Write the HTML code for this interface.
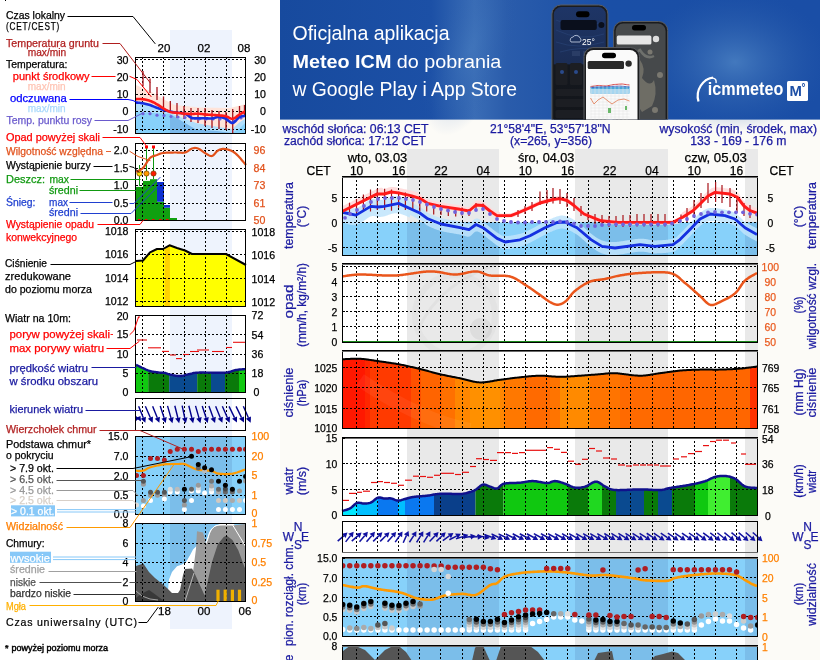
<!DOCTYPE html>
<html><head><meta charset="utf-8"><title>Meteogram ICM</title>
<style>
html,body{margin:0;padding:0;background:#fff;width:820px;height:660px;overflow:hidden}
svg{display:block;will-change:transform}
text{font-family:"Liberation Sans",Arial,sans-serif}
</style></head><body>
<svg width="820" height="660" viewBox="0 0 820 660">
<rect x="0" y="0" width="820" height="660" fill="#ffffff" />
<rect x="280" y="0" width="540" height="660" fill="#fcfbf7" />
<defs>
<linearGradient id="bg1" x1="0" y1="0" x2="1" y2="0">
<stop offset="0" stop-color="#174a9e"/><stop offset="0.28" stop-color="#1c50a6"/>
<stop offset="0.36" stop-color="#3a6db6"/><stop offset="0.42" stop-color="#2a5cab"/>
<stop offset="0.6" stop-color="#1a4fa6"/><stop offset="1" stop-color="#1a4ea6"/></linearGradient>
<radialGradient id="glow1" cx="0.5" cy="0.5" r="0.5"><stop offset="0" stop-color="#4a80c2" stop-opacity="0.85"/><stop offset="1" stop-color="#2a5cab" stop-opacity="0"/></radialGradient>
<linearGradient id="scr1" x1="0" y1="0" x2="0" y2="1"><stop offset="0" stop-color="#1e3566"/><stop offset="0.45" stop-color="#1b2d55"/><stop offset="0.46" stop-color="#14181f"/><stop offset="1" stop-color="#121418"/></linearGradient>
<linearGradient id="scr2" x1="0" y1="0" x2="1" y2="1"><stop offset="0" stop-color="#6a6d70"/><stop offset="0.5" stop-color="#8a8070"/><stop offset="1" stop-color="#5c6064"/></linearGradient>
</defs>
<rect x="280" y="0" width="540" height="119.6" fill="url(#bg1)" />
<ellipse cx="735" cy="62" rx="95" ry="70" fill="url(#glow1)"/>
<ellipse cx="470" cy="50" rx="40" ry="90" fill="url(#glow1)" opacity="0.5" transform="rotate(20 470 50)"/>
<text x="292.5" y="39.8" font-size="19.3" fill="#ffffff" textLength="157" lengthAdjust="spacingAndGlyphs" >Oficjalna aplikacja</text>
<text x="292.5" y="67.8" font-size="19" fill="#ffffff" textLength="208.8" lengthAdjust="spacingAndGlyphs"><tspan font-weight="bold">Meteo ICM</tspan> do pobrania</text>
<text x="292.5" y="95.7" font-size="19.3" fill="#ffffff" textLength="224.5" lengthAdjust="spacingAndGlyphs" >w Google Play i App Store</text>
<defs><clipPath id="bclip"><rect x="280" y="0" width="540" height="119.6"/></clipPath></defs><g clip-path="url(#bclip)">
<rect x="551.9" y="5" width="56" height="130" rx="9" fill="#1b1c1e" stroke="#5a5c60" stroke-width="1"/>
<rect x="553.8" y="7" width="52" height="126" rx="7.5" fill="url(#scr1)"/>
<path d="M556 20 q 20 10 48 2 M556 30 q 25 12 48 4 M556 42 q 22 8 48 0 M560 52 q 20 -6 44 -2" stroke="#2a4478" stroke-width="0.6" fill="none"/>
<rect x="576" y="11.3" width="13.5" height="6" rx="3" fill="#000"/>
<rect x="560.5" y="20" width="36.3" height="10" rx="2" fill="#0a0f1c"/>
<circle cx="601.4" cy="25" r="3" fill="#0a0f1c" />
<path d="M571 42 a3 3 0 0 1 2 -5 a4 4 0 0 1 7 1 a2.5 2.5 0 0 1 0 4 z" fill="none" stroke="#cfd8ea" stroke-width="0.8"/>
<text x="582" y="45" font-size="8.5" fill="#ffffff" >25°</text>
<rect x="572" y="51" width="8" height="5" fill="#2a3d66" />
<rect x="583" y="51" width="8" height="5" fill="#2a3d66" />
<rect x="555.5" y="63" width="12" height="22" rx="1.5" fill="#1c1e23"/>
<rect x="570" y="63" width="12" height="22" rx="1.5" fill="#1c1e23"/>
<rect x="555.5" y="89" width="46" height="7" rx="1.5" fill="#1c1e23"/>
<rect x="555.5" y="99" width="46" height="8" rx="1.5" fill="#1c1e23"/>
<rect x="555.5" y="110" width="46" height="8" rx="1.5" fill="#1c1e23"/>
<circle cx="562" cy="72" r="2" fill="#2a4a8a" />
<circle cx="576" cy="72" r="2" fill="#2a4a8a" />
<rect x="613.7" y="21.5" width="54" height="110" rx="9" fill="#1b1c1e" stroke="#5a5c60" stroke-width="1"/>
<rect x="615.6" y="23.5" width="50" height="106" rx="7.5" fill="#46494b"/>
<path d="M640 60 q 6 8 2 18 q 8 10 12 2 q 4 14 -2 26 l -10 6 q -8 -10 -4 -22 q -6 -14 2 -30 z" fill="#8f8a7c" opacity="0.55"/>
<path d="M622 50 q 10 6 18 0 q 6 10 14 6 M625 80 q 8 4 12 -2 M620 100 q 10 -4 14 6" stroke="#6e706c" stroke-width="2.5" fill="none"/>
<circle cx="628" cy="58" r="3" fill="#7a7870" />
<circle cx="650" cy="52" r="2.5" fill="#7a7870" />
<circle cx="622" cy="70" r="2" fill="#7a7870" />
<circle cx="660" cy="75" r="3" fill="#7a7870" />
<circle cx="632" cy="95" r="2.5" fill="#7a7870" />
<circle cx="655" cy="110" r="3" fill="#7a7870" />
<circle cx="625" cy="118" r="2.5" fill="#7a7870" />
<circle cx="645" cy="122" r="2" fill="#7a7870" />
<rect x="616.8" y="35.5" width="34.6" height="9" rx="1.5" fill="#e6e6e6"/>
<circle cx="656" cy="39" r="3.2" fill="#dcdcdc" />
<rect x="632" y="25" width="14" height="5.5" rx="2.7" fill="#000"/>
<rect x="584" y="47.6" width="55.5" height="90" rx="9" fill="#1b1c1e" stroke="#5a5c60" stroke-width="1"/>
<rect x="586" y="50" width="51.5" height="86" rx="7.5" fill="#fafafa"/>
<rect x="602" y="52.7" width="14" height="5.5" rx="2.7" fill="#000"/>
<rect x="587.7" y="61" width="36.3" height="8" rx="1.5" fill="#2a2a2a"/>
<circle cx="628.6" cy="63.6" r="3.2" fill="#2a2a2a" />
<rect x="590.5" y="86.5" width="39" height="7" fill="#4aa6d8" />
<rect x="590.5" y="89" width="39" height="4.6" fill="#a6d6f0" />
<polyline points="590.5,86.5 598,85.5 606,86 614,84.5 622,84 629.5,85" fill="none" stroke="#d83838" stroke-width="0.9" stroke-linejoin="round" />
<polyline points="590.5,87.5 600,87 610,86.5 620,86 629.5,87" fill="none" stroke="#3a4ab8" stroke-width="0.7" stroke-linejoin="round" />
<line x1="590.5" y1="96" x2="629.5" y2="96" stroke="#e0e0e0" stroke-width="0.5" />
<line x1="590.5" y1="99" x2="629.5" y2="99" stroke="#e0e0e0" stroke-width="0.5" />
<line x1="590.5" y1="102" x2="629.5" y2="102" stroke="#e0e0e0" stroke-width="0.5" />
<line x1="590.5" y1="105" x2="629.5" y2="105" stroke="#e0e0e0" stroke-width="0.5" />
<line x1="590.5" y1="108" x2="629.5" y2="108" stroke="#e0e0e0" stroke-width="0.5" />
<line x1="590.5" y1="111" x2="629.5" y2="111" stroke="#e0e0e0" stroke-width="0.5" />
<line x1="590.5" y1="114" x2="629.5" y2="114" stroke="#e0e0e0" stroke-width="0.5" />
<line x1="590.5" y1="117" x2="629.5" y2="117" stroke="#e0e0e0" stroke-width="0.5" />
<line x1="591" y1="84" x2="591" y2="120" stroke="#e6e6e6" stroke-width="0.5" />
<line x1="595" y1="84" x2="595" y2="120" stroke="#e6e6e6" stroke-width="0.5" />
<line x1="599" y1="84" x2="599" y2="120" stroke="#e6e6e6" stroke-width="0.5" />
<line x1="603" y1="84" x2="603" y2="120" stroke="#e6e6e6" stroke-width="0.5" />
<line x1="607" y1="84" x2="607" y2="120" stroke="#e6e6e6" stroke-width="0.5" />
<line x1="611" y1="84" x2="611" y2="120" stroke="#e6e6e6" stroke-width="0.5" />
<line x1="615" y1="84" x2="615" y2="120" stroke="#e6e6e6" stroke-width="0.5" />
<line x1="619" y1="84" x2="619" y2="120" stroke="#e6e6e6" stroke-width="0.5" />
<line x1="623" y1="84" x2="623" y2="120" stroke="#e6e6e6" stroke-width="0.5" />
<line x1="627" y1="84" x2="627" y2="120" stroke="#e6e6e6" stroke-width="0.5" />
<polyline points="590.5,98 594,104 598,100 603,97 608,101 612,104 618,100 624,99 629.5,101" fill="none" stroke="#e07850" stroke-width="0.8" stroke-linejoin="round" />
<rect x="608" y="108" width="3" height="5" fill="#6ab86a" />
<rect x="625" y="106" width="2" height="4" fill="#6ab86a" />
</g>
<path d="M713 77.5 C 703 79, 695 90, 698.5 101.5" stroke="#ffffff" stroke-width="2.2" fill="none"/>
<path d="M705 80.5 C 711 76.5, 717 77.5, 716 83" stroke="#ffffff" stroke-width="1.4" fill="none"/>
<text x="707.8" y="95.2" font-size="17.5" fill="#ffffff" textLength="75.5" lengthAdjust="spacingAndGlyphs" font-weight="bold" >icmmeteo</text>
<rect x="787" y="81" width="21" height="20" rx="1.5" fill="#ffffff"/>
<text x="789.6" y="96.3" font-size="14.5" fill="#1d4fa5" textLength="12.4" lengthAdjust="spacingAndGlyphs" font-weight="bold" >M</text>
<text x="801.6" y="91" font-size="10" fill="#1d4fa5" font-weight="bold" >°</text>
<text x="282.5" y="132.8" font-size="12" fill="#1a1aa0" stroke="#1a1aa0" stroke-width="0.25" textLength="146" lengthAdjust="spacingAndGlyphs" >wschód słońca: 06:13 CET</text>
<text x="284" y="145" font-size="12" fill="#1a1aa0" stroke="#1a1aa0" stroke-width="0.25" textLength="142" lengthAdjust="spacingAndGlyphs" >zachód słońca: 17:12 CET</text>
<text x="490" y="132.8" font-size="12" fill="#1a1aa0" stroke="#1a1aa0" stroke-width="0.25" textLength="120.5" lengthAdjust="spacingAndGlyphs" >21°58'4"E, 53°57'18"N</text>
<text x="510" y="145" font-size="12" fill="#1a1aa0" stroke="#1a1aa0" stroke-width="0.25" textLength="82" lengthAdjust="spacingAndGlyphs" >(x=265,  y=356)</text>
<text x="659.5" y="132.8" font-size="12" fill="#1a1aa0" stroke="#1a1aa0" stroke-width="0.25" textLength="157.5" lengthAdjust="spacingAndGlyphs" >wysokość (min, środek, max)</text>
<text x="690.2" y="145" font-size="12" fill="#1a1aa0" stroke="#1a1aa0" stroke-width="0.25" textLength="96.3" lengthAdjust="spacingAndGlyphs" >133 - 169 - 176 m</text>
<rect x="342" y="176" width="416" height="484" fill="#ffffff" />
<rect x="407" y="149" width="92" height="511" fill="#e9e9e9" />
<rect x="575" y="149" width="93" height="511" fill="#e9e9e9" />
<rect x="745" y="149" width="13" height="511" fill="#e9e9e9" />
<text x="347.8" y="161.5" font-size="12" fill="#000" stroke="#000" stroke-width="0.25" textLength="59.5" lengthAdjust="spacingAndGlyphs" >wto, 03.03</text>
<text x="518" y="161.5" font-size="12" fill="#000" stroke="#000" stroke-width="0.25" textLength="56.4" lengthAdjust="spacingAndGlyphs" >śro, 04.03</text>
<text x="684.6" y="161.5" font-size="12" fill="#000" stroke="#000" stroke-width="0.25" textLength="62.2" lengthAdjust="spacingAndGlyphs" >czw, 05.03</text>
<text x="306.5" y="174.5" font-size="12" fill="#000" stroke="#000" stroke-width="0.25" textLength="24.2" lengthAdjust="spacingAndGlyphs" >CET</text>
<text x="769.5" y="174.5" font-size="12" fill="#000" stroke="#000" stroke-width="0.25" textLength="24.2" lengthAdjust="spacingAndGlyphs" >CET</text>
<text x="356.57" y="174.5" font-size="12" fill="#000" stroke="#000" stroke-width="0.25" text-anchor="middle" >10</text>
<text x="398.77" y="174.5" font-size="12" fill="#000" stroke="#000" stroke-width="0.25" text-anchor="middle" >16</text>
<text x="440.98" y="174.5" font-size="12" fill="#000" stroke="#000" stroke-width="0.25" text-anchor="middle" >22</text>
<text x="483.18" y="174.5" font-size="12" fill="#000" stroke="#000" stroke-width="0.25" text-anchor="middle" >04</text>
<text x="525.38" y="174.5" font-size="12" fill="#000" stroke="#000" stroke-width="0.25" text-anchor="middle" >10</text>
<text x="567.59" y="174.5" font-size="12" fill="#000" stroke="#000" stroke-width="0.25" text-anchor="middle" >16</text>
<text x="609.79" y="174.5" font-size="12" fill="#000" stroke="#000" stroke-width="0.25" text-anchor="middle" >22</text>
<text x="652" y="174.5" font-size="12" fill="#000" stroke="#000" stroke-width="0.25" text-anchor="middle" >04</text>
<text x="694.2" y="174.5" font-size="12" fill="#000" stroke="#000" stroke-width="0.25" text-anchor="middle" >10</text>
<text x="736.4" y="174.5" font-size="12" fill="#000" stroke="#000" stroke-width="0.25" text-anchor="middle" >16</text>
<rect x="342" y="176" width="416" height="79" fill="#ffffff" />
<rect x="407" y="176" width="92" height="79" fill="#e9e9e9" />
<rect x="575" y="176" width="93" height="79" fill="#e9e9e9" />
<rect x="745" y="176" width="13" height="79" fill="#e9e9e9" />
<rect x="342" y="222.5" width="416" height="32.5" fill="#87d1fa" />
<rect x="407" y="222.5" width="92" height="32.5" fill="#7bbeea" />
<rect x="575" y="222.5" width="93" height="32.5" fill="#7bbeea" />
<rect x="745" y="222.5" width="13" height="32.5" fill="#7bbeea" />
<defs><clipPath id="tclip"><rect x="342" y="177" width="415" height="78"/></clipPath></defs><g clip-path="url(#tclip)">
<polygon points="342,205.2 342.27,205.26 342.57,205.35 342.9,205.45 343.26,205.56 343.65,205.7 344.06,205.84 344.5,205.99 344.96,206.16 345.44,206.32 345.94,206.5 346.45,206.67 346.98,206.85 347.53,207.02 348.08,207.19 348.65,207.36 349.22,207.52 349.79,207.66 350.37,207.8 350.96,207.92 351.54,208.03 352.12,208.12 352.7,208.19 353.27,208.24 353.84,208.27 354.4,208.27 354.95,208.24 355.48,208.19 356,208.1 356.5,207.98 357.01,207.83 357.53,207.64 358.05,207.42 358.58,207.17 359.12,206.9 359.66,206.6 360.21,206.28 360.76,205.95 361.31,205.6 361.86,205.23 362.4,204.86 362.95,204.48 363.5,204.09 364.04,203.7 364.58,203.31 365.11,202.92 365.63,202.54 366.15,202.16 366.66,201.8 367.16,201.45 367.65,201.11 368.13,200.79 368.59,200.49 369.05,200.22 369.48,199.97 369.91,199.75 370.31,199.56 370.7,199.4 371.45,199.16 372.14,199.01 372.78,198.94 373.36,198.93 373.91,198.98 374.41,199.07 374.89,199.19 375.35,199.34 375.79,199.49 376.22,199.64 376.66,199.78 377.09,199.9 377.54,199.97 378,200 378.52,200 378.98,200 379.39,199.99 379.78,199.98 380.16,199.96 380.54,199.93 380.96,199.88 381.41,199.82 381.93,199.75 382.52,199.65 383.2,199.54 384,199.4 384.36,199.33 384.74,199.24 385.12,199.13 385.52,199.01 385.93,198.87 386.35,198.72 386.78,198.56 387.22,198.4 387.68,198.23 388.14,198.05 388.61,197.87 389.1,197.7 389.59,197.52 390.1,197.35 390.61,197.18 391.13,197.02 391.66,196.87 392.2,196.72 392.74,196.6 393.3,196.48 393.86,196.38 394.43,196.3 395,196.24 395.59,196.2 396.18,196.19 396.77,196.2 397.38,196.24 397.99,196.3 398.6,196.4 399.03,196.49 399.48,196.59 399.94,196.71 400.42,196.84 400.9,196.98 401.4,197.14 401.9,197.31 402.42,197.5 402.94,197.69 403.48,197.9 404.02,198.11 404.56,198.34 405.11,198.57 405.67,198.81 406.23,199.05 406.79,199.31 407.35,199.57 407.92,199.83 408.48,200.1 409.05,200.37 409.61,200.65 410.18,201.93 410.74,202.21 411.29,202.49 411.84,202.77 412.39,203.05 412.93,203.34 413.47,203.61 413.99,203.89 414.51,204.17 415.02,204.44 415.52,204.7 416.01,204.97 416.49,205.22 416.95,205.47 417.41,205.72 417.84,205.95 418.27,206.18 418.68,206.4 419.07,206.61 419.44,206.81 419.8,207 420.65,207.47 421.4,207.91 422.04,208.33 422.61,208.73 423.1,209.11 423.54,209.48 423.93,209.83 424.3,210.17 424.65,210.51 425,210.84 425.36,211.16 425.74,211.48 426.17,211.8 426.64,212.13 427.18,212.46 427.8,212.8 428.21,213.01 428.63,213.22 429.05,213.44 429.49,213.65 429.93,213.86 430.37,214.07 430.83,214.29 431.29,214.5 431.76,214.71 432.23,214.92 432.72,215.12 433.21,215.33 433.71,215.54 434.22,215.74 434.74,215.94 435.26,216.14 435.8,216.34 436.34,216.54 436.89,216.73 437.45,216.92 438.02,217.11 438.6,217.29 439.18,217.48 439.78,217.65 440.39,217.83 441,218 441.43,218.12 441.88,218.23 442.33,218.34 442.81,218.45 443.29,218.57 443.78,218.67 444.28,218.78 444.79,218.89 445.31,219 445.84,219.1 446.37,219.21 446.91,219.31 447.46,219.41 448,219.51 448.55,219.61 449.1,219.71 449.66,219.81 450.21,219.9 450.76,220 451.31,220.09 451.86,220.19 452.41,220.28 452.95,220.37 453.49,220.46 454.02,220.55 454.54,220.64 455.06,220.72 455.57,220.81 456.07,220.89 456.55,220.98 457.03,221.06 457.5,221.14 457.95,221.22 458.39,221.3 458.82,221.37 459.23,221.45 459.62,221.53 460,221.6 460.75,221.76 461.45,221.93 462.1,222.11 462.71,222.29 463.28,222.47 463.81,222.65 464.32,222.82 464.8,222.99 465.25,223.14 465.69,223.29 466.11,223.41 466.52,223.52 466.92,223.6 467.33,223.66 467.73,223.7 468.14,223.7 468.56,223.67 469,223.6 469.56,223.43 470.1,223.17 470.63,222.83 471.15,222.42 471.65,221.96 472.14,221.48 472.62,220.97 473.1,220.48 473.58,220 474.06,219.56 474.54,219.17 475.02,218.86 475.5,218.63 476,218.5 476.48,218.46 476.94,218.46 477.37,218.5 477.8,218.59 478.21,218.72 478.63,218.9 479.06,219.11 479.51,219.37 479.98,219.66 480.49,220 481.04,220.37 481.63,220.78 482.28,221.22 483,221.7 483.39,221.96 483.8,222.25 484.23,222.56 484.69,222.9 485.16,223.25 485.65,223.62 486.15,224.01 486.66,224.42 487.19,224.83 487.73,225.26 488.27,225.69 488.83,226.13 489.38,226.58 489.94,227.02 490.5,227.47 491.05,227.92 491.61,228.36 492.16,228.8 492.7,229.22 493.23,229.64 493.76,230.05 494.27,230.44 494.77,230.82 495.25,231.18 495.72,231.52 496.17,231.84 496.6,232.13 497,232.4 497.65,232.83 498.24,233.23 498.77,233.6 499.26,233.94 499.71,234.24 500.13,234.52 500.54,234.78 500.94,235.01 501.34,235.21 501.75,235.39 502.18,235.54 502.65,235.67 503.15,235.79 503.71,235.88 504.32,235.95 505,236 505.39,236.02 505.81,236.03 506.24,236.02 506.69,236.01 507.15,235.99 507.63,235.96 508.12,235.92 508.63,235.88 509.14,235.83 509.67,235.77 510.2,235.7 510.74,235.63 511.28,235.55 511.83,235.47 512.38,235.38 512.93,235.29 513.48,235.19 514.02,235.1 514.57,234.99 515.11,234.89 515.65,234.78 516.18,234.67 516.7,234.56 517.21,234.45 517.71,234.34 518.2,234.23 518.67,234.12 519.13,234.01 519.57,233.91 520,233.8 520.61,233.64 521.18,233.48 521.72,233.33 522.24,233.16 522.73,233 523.21,232.83 523.67,232.66 524.12,232.48 524.56,232.3 525,232.11 525.44,231.92 525.88,231.71 526.33,231.5 526.79,231.28 527.27,231.04 527.76,230.8 528.28,230.54 528.82,230.28 529.39,230 530,229.7 530.42,229.49 530.86,229.27 531.31,229.05 531.77,228.81 532.25,228.56 532.73,228.3 533.22,228.04 533.72,227.77 534.23,227.5 534.74,227.22 535.26,226.93 535.78,226.65 536.31,226.36 536.84,226.06 537.38,225.77 537.91,225.47 538.44,225.18 538.98,224.89 539.51,224.59 540.04,224.3 540.56,224.02 541.08,223.73 541.6,223.46 542.11,223.18 542.62,222.92 543.11,222.66 543.6,222.4 544.08,222.16 544.54,221.93 545,221.7 545.56,221.43 546.12,221.15 546.67,220.88 547.22,220.62 547.76,220.35 548.3,220.09 548.84,219.84 549.37,219.59 549.9,219.34 550.42,219.1 550.93,218.86 551.44,218.63 551.94,218.41 552.44,218.19 552.92,217.98 553.41,217.78 553.88,217.59 554.35,217.4 554.81,217.23 555.27,217.06 555.71,216.91 556.15,216.76 556.58,216.62 557,216.5 557.6,216.33 558.16,216.17 558.69,216.03 559.19,215.9 559.66,215.79 560.12,215.7 560.56,215.62 561,215.57 561.44,215.54 561.88,215.53 562.34,215.54 562.81,215.58 563.31,215.64 563.84,215.73 564.4,215.85 565,216 565.42,216.11 565.85,216.24 566.29,216.37 566.75,216.52 567.2,216.68 567.67,216.84 568.15,217.02 568.63,217.21 569.12,217.41 569.62,217.62 570.12,217.84 570.62,218.08 571.14,218.32 571.66,218.57 572.18,218.84 572.7,219.11 573.23,219.4 573.77,219.69 574.3,220 574.84,220.32 575.38,220.65 575.92,220.99 576.46,221.34 577,221.7 577.47,222.03 577.95,222.37 578.43,222.74 578.92,223.12 579.42,223.52 579.92,223.93 580.43,224.36 580.94,224.8 581.46,225.24 581.98,225.7 582.5,226.17 583.02,226.63 583.54,227.11 584.06,227.58 584.58,228.06 585.1,228.53 585.62,229 586.14,229.47 586.65,229.94 587.16,230.39 587.66,230.84 588.16,231.28 588.65,231.7 589.14,232.11 589.62,232.51 590.09,232.89 590.55,233.26 591,233.6 591.56,234.02 592.11,234.43 592.64,234.83 593.16,235.22 593.66,235.6 594.16,235.96 594.65,236.32 595.14,236.67 595.62,237 596.09,237.33 596.56,237.64 597.03,237.95 597.51,238.24 597.98,238.52 598.46,238.8 598.94,239.06 599.42,239.31 599.92,239.55 600.42,239.78 600.94,240 601.46,240.2 602,240.4 602.46,240.56 602.9,240.71 603.34,240.85 603.77,240.98 604.2,241.11 604.62,241.22 605.04,241.33 605.46,241.44 605.88,241.53 606.31,241.62 606.74,241.7 607.18,241.77 607.62,241.83 608.08,241.89 608.55,241.94 609.04,241.98 609.53,242.01 610.05,242.04 610.58,242.06 611.14,242.07 611.72,242.08 612.32,242.08 612.95,242.07 613.6,242.05 614.29,242.03 615,242 615.39,241.98 615.79,241.95 616.2,241.92 616.62,241.89 617.06,241.85 617.51,241.8 617.96,241.75 618.43,241.69 618.91,241.64 619.39,241.57 619.89,241.51 620.39,241.44 620.9,241.37 621.41,241.29 621.93,241.21 622.46,241.13 622.99,241.05 623.53,240.97 624.07,240.88 624.62,240.79 625.16,240.7 625.71,240.62 626.27,240.52 626.82,240.43 627.38,240.34 627.93,240.25 628.49,240.16 629.04,240.07 629.59,239.98 630.14,239.9 630.69,239.81 631.24,239.72 631.78,239.64 632.32,239.56 632.86,239.48 633.39,239.4 633.91,239.32 634.43,239.25 634.94,239.18 635.45,239.12 635.95,239.06 636.44,239 636.92,238.94 637.39,238.89 637.85,238.85 638.3,238.81 638.74,238.77 639.18,238.74 639.59,238.72 640,238.7 640.65,238.68 641.28,238.68 641.89,238.68 642.48,238.7 643.04,238.73 643.59,238.77 644.12,238.82 644.64,238.88 645.14,238.95 645.63,239.02 646.11,239.1 646.58,239.18 647.04,239.27 647.49,239.36 647.94,239.45 648.38,239.54 648.82,239.63 649.26,239.72 649.71,239.81 650.15,239.9 650.59,239.98 651.05,240.06 651.5,240.13 651.97,240.2 652.44,240.26 652.93,240.31 653.42,240.35 653.93,240.38 654.46,240.39 655,240.4 655.46,240.4 655.94,240.39 656.43,240.39 656.93,240.38 657.44,240.37 657.95,240.35 658.48,240.34 659.01,240.32 659.55,240.29 660.09,240.27 660.64,240.24 661.19,240.21 661.74,240.18 662.29,240.14 662.84,240.1 663.4,240.06 663.95,240.02 664.5,239.97 665.05,239.93 665.59,239.88 666.13,239.82 666.66,239.77 667.19,239.71 667.7,239.64 668.21,239.58 668.71,239.51 669.2,239.44 669.68,239.37 670.15,239.3 670.6,239.22 671.04,239.14 671.47,239.06 671.88,238.97 672.27,238.88 672.64,238.79 673,238.7 673.83,238.45 674.55,238.19 675.17,237.92 675.71,237.64 676.19,237.34 676.61,237.02 677,236.68 677.37,236.32 677.73,235.94 678.1,235.53 678.5,235.09 678.94,234.63 679.43,234.13 680,233.6 680.43,233.21 680.88,232.79 681.34,232.35 681.81,231.89 682.29,231.41 682.78,230.92 683.28,230.42 683.78,229.9 684.3,229.37 684.81,228.83 685.33,228.29 685.86,227.74 686.38,227.19 686.91,226.64 687.43,226.08 687.95,225.53 688.47,224.99 688.99,224.45 689.5,223.92 690,223.4 690.5,222.88 691,222.34 691.5,221.8 692,221.25 692.5,220.69 693,220.12 693.5,219.56 694,219 694.5,218.43 695,217.88 695.5,217.32 696,216.78 696.5,216.25 697,215.73 697.5,215.23 698,214.74 698.5,214.27 699,213.82 699.5,213.4 700,213 700.49,212.62 700.98,212.25 701.45,211.89 701.92,211.55 702.38,211.21 702.84,210.89 703.3,210.58 703.76,210.29 704.22,210.01 704.69,209.74 705.16,209.49 705.64,209.26 706.13,209.04 706.63,208.84 707.15,208.65 707.68,208.48 708.23,208.34 708.8,208.2 709.39,208.09 710,208 710.42,207.95 710.87,207.92 711.32,207.89 711.79,207.88 712.27,207.88 712.76,207.89 713.26,207.9 713.77,207.93 714.29,207.97 714.81,208.01 715.35,208.06 715.88,208.12 716.42,208.19 716.96,208.26 717.5,208.33 718.04,208.41 718.58,208.5 719.12,208.58 719.65,208.67 720.19,208.77 720.71,208.86 721.23,208.96 721.74,209.05 722.24,209.15 722.73,209.25 723.21,209.34 723.68,209.44 724.13,209.53 724.58,209.61 725,209.7 725.61,209.82 726.2,209.94 726.77,210.06 727.32,210.17 727.85,210.29 728.37,210.4 728.87,210.52 729.36,210.65 729.84,210.78 730.31,210.91 730.78,211.06 731.24,211.21 731.7,211.38 732.16,211.56 732.62,211.76 733.08,211.97 733.55,212.2 734.02,212.44 734.51,212.71 735,213 735.5,213.32 735.99,213.66 736.48,214.03 736.97,214.42 737.45,214.84 737.94,215.27 738.42,215.72 738.9,216.18 739.39,216.65 739.88,217.13 740.36,217.61 740.86,218.1 741.35,218.58 741.85,219.06 742.36,219.53 742.87,220 743.39,220.45 743.92,220.88 744.45,221.3 745,221.7 745.47,222.03 745.97,222.35 746.49,222.69 747.02,223.02 747.58,223.36 748.14,223.69 748.72,224.03 749.3,224.36 749.88,224.69 750.47,225.01 751.05,225.33 751.62,225.64 752.19,225.95 752.75,226.24 753.29,226.53 753.81,226.81 754.32,227.07 754.8,227.32 755.25,227.56 755.67,227.78 756.06,227.99 756.41,228.18 756.73,228.35 757,228.5 757,241.5 756.73,241.35 756.41,241.18 756.06,240.99 755.67,240.78 755.25,240.56 754.8,240.32 754.32,240.07 753.81,239.81 753.29,239.53 752.75,239.24 752.19,238.95 751.62,238.64 751.05,238.33 750.47,238.01 749.88,237.69 749.3,237.36 748.72,237.03 748.14,236.69 747.58,236.36 747.02,236.02 746.49,235.69 745.97,235.35 745.47,235.03 745,234.7 744.45,234.3 743.92,233.88 743.39,233.45 742.87,233 742.36,232.53 741.85,232.06 741.35,231.58 740.86,231.1 740.36,230.61 739.88,230.13 739.39,229.65 738.9,229.18 738.42,228.72 737.94,228.27 737.45,227.84 736.97,227.42 736.48,227.03 735.99,226.66 735.5,226.32 735,226 734.51,225.71 734.02,225.44 733.55,225.2 733.08,224.97 732.62,224.76 732.16,224.56 731.7,224.38 731.24,224.21 730.78,224.06 730.31,223.91 729.84,223.78 729.36,223.65 728.87,223.52 728.37,223.4 727.85,223.29 727.32,223.17 726.77,223.06 726.2,222.94 725.61,222.82 725,222.7 724.58,222.61 724.13,222.53 723.68,222.44 723.21,222.34 722.73,222.25 722.24,222.15 721.74,222.05 721.23,221.96 720.71,221.86 720.19,221.77 719.65,221.67 719.12,221.58 718.58,221.5 718.04,221.41 717.5,221.33 716.96,221.26 716.42,221.19 715.88,221.12 715.35,221.06 714.81,221.01 714.29,220.97 713.77,220.93 713.26,220.9 712.76,220.89 712.27,220.88 711.79,220.88 711.32,220.89 710.87,220.92 710.42,220.95 710,221 709.39,221.09 708.8,221.2 708.23,221.34 707.68,221.48 707.15,221.65 706.63,221.84 706.13,222.04 705.64,222.26 705.16,222.49 704.69,222.74 704.22,223.01 703.76,223.29 703.3,223.58 702.84,223.89 702.38,224.21 701.92,224.55 701.45,224.89 700.98,225.25 700.49,225.62 700,226 699.5,226.4 699,226.82 698.5,227.27 698,227.74 697.5,228.23 697,228.73 696.5,229.25 696,229.78 695.5,230.32 695,230.88 694.5,231.43 694,232 693.5,232.56 693,233.12 692.5,233.69 692,234.25 691.5,234.8 691,235.34 690.5,235.88 690,236.4 689.5,236.92 688.99,237.45 688.47,237.99 687.95,238.53 687.43,239.08 686.91,239.64 686.38,240.19 685.86,240.74 685.33,241.29 684.81,241.83 684.3,242.37 683.78,242.9 683.28,243.42 682.78,243.92 682.29,244.41 681.81,244.89 681.34,245.35 680.88,245.79 680.43,246.21 680,246.6 679.43,247.13 678.94,247.63 678.5,248.09 678.1,248.53 677.73,248.94 677.37,249.32 677,249.68 676.61,250.02 676.19,250.34 675.71,250.64 675.17,250.92 674.55,251.19 673.83,251.45 673,251.7 672.64,251.79 672.27,251.88 671.88,251.97 671.47,252.06 671.04,252.14 670.6,252.22 670.15,252.3 669.68,252.37 669.2,252.44 668.71,252.51 668.21,252.58 667.7,252.64 667.19,252.71 666.66,252.77 666.13,252.82 665.59,252.88 665.05,252.93 664.5,252.97 663.95,253.02 663.4,253.06 662.84,253.1 662.29,253.14 661.74,253.18 661.19,253.21 660.64,253.24 660.09,253.27 659.55,253.29 659.01,253.32 658.48,253.34 657.95,253.35 657.44,253.37 656.93,253.38 656.43,253.39 655.94,253.39 655.46,253.4 655,253.4 654.46,253.39 653.93,253.38 653.42,253.35 652.93,253.31 652.44,253.26 651.97,253.2 651.5,253.13 651.05,253.06 650.59,252.98 650.15,252.9 649.71,252.81 649.26,252.72 648.82,252.63 648.38,252.54 647.94,252.45 647.49,252.36 647.04,252.27 646.58,252.18 646.11,252.1 645.63,252.02 645.14,251.95 644.64,251.88 644.12,251.82 643.59,251.77 643.04,251.73 642.48,251.7 641.89,251.68 641.28,251.68 640.65,251.68 640,251.7 639.59,251.72 639.18,251.74 638.74,251.77 638.3,251.81 637.85,251.85 637.39,251.89 636.92,251.94 636.44,252 635.95,252.06 635.45,252.12 634.94,252.18 634.43,252.25 633.91,252.32 633.39,252.4 632.86,252.48 632.32,252.56 631.78,252.64 631.24,252.72 630.69,252.81 630.14,252.9 629.59,252.98 629.04,253.07 628.49,253.16 627.93,253.25 627.38,253.34 626.82,253.43 626.27,253.52 625.71,253.62 625.16,253.7 624.62,253.79 624.07,253.88 623.53,253.97 622.99,254.05 622.46,254.13 621.93,254.21 621.41,254.29 620.9,254.37 620.39,254.44 619.89,254.51 619.39,254.57 618.91,254.64 618.43,254.69 617.96,254.75 617.51,254.8 617.06,254.85 616.62,254.89 616.2,254.92 615.79,254.95 615.39,254.98 615,255 614.29,255.03 613.6,255.05 612.95,255.07 612.32,255.08 611.72,255.08 611.14,255.07 610.58,255.06 610.05,255.04 609.53,255.01 609.04,254.98 608.55,254.94 608.08,254.89 607.62,254.83 607.18,254.77 606.74,254.7 606.31,254.62 605.88,254.53 605.46,254.44 605.04,254.33 604.62,254.22 604.2,254.11 603.77,253.98 603.34,253.85 602.9,253.71 602.46,253.56 602,253.4 601.46,253.2 600.94,253 600.42,252.78 599.92,252.55 599.42,252.31 598.94,252.06 598.46,251.8 597.98,251.52 597.51,251.24 597.03,250.95 596.56,250.64 596.09,250.33 595.62,250 595.14,249.67 594.65,249.32 594.16,248.96 593.66,248.6 593.16,248.22 592.64,247.83 592.11,247.43 591.56,247.02 591,246.6 590.55,246.26 590.09,245.89 589.62,245.51 589.14,245.11 588.65,244.7 588.16,244.28 587.66,243.84 587.16,243.39 586.65,242.94 586.14,242.47 585.62,242 585.1,241.53 584.58,241.06 584.06,240.58 583.54,240.11 583.02,239.63 582.5,239.17 581.98,238.7 581.46,238.24 580.94,237.8 580.43,237.36 579.92,236.93 579.42,236.52 578.92,236.12 578.43,235.74 577.95,235.37 577.47,235.03 577,234.7 576.46,234.34 575.92,233.99 575.38,233.65 574.84,233.32 574.3,233 573.77,232.69 573.23,232.4 572.7,232.11 572.18,231.84 571.66,231.57 571.14,231.32 570.62,231.08 570.12,230.84 569.62,230.62 569.12,230.41 568.63,230.21 568.15,230.02 567.67,229.84 567.2,229.68 566.75,229.52 566.29,229.37 565.85,229.24 565.42,229.11 565,229 564.4,228.85 563.84,228.73 563.31,228.64 562.81,228.58 562.34,228.54 561.88,228.53 561.44,228.54 561,228.57 560.56,228.62 560.12,228.7 559.66,228.79 559.19,228.9 558.69,229.03 558.16,229.17 557.6,229.33 557,229.5 556.58,229.62 556.15,229.76 555.71,229.91 555.27,230.06 554.81,230.23 554.35,230.4 553.88,230.59 553.41,230.78 552.92,230.98 552.44,231.19 551.94,231.41 551.44,231.63 550.93,231.86 550.42,232.1 549.9,232.34 549.37,232.59 548.84,232.84 548.3,233.09 547.76,233.35 547.22,233.62 546.67,233.88 546.12,234.15 545.56,234.43 545,234.7 544.54,234.93 544.08,235.16 543.6,235.4 543.11,235.66 542.62,235.92 542.11,236.18 541.6,236.46 541.08,236.73 540.56,237.02 540.04,237.3 539.51,237.59 538.98,237.89 538.44,238.18 537.91,238.47 537.38,238.77 536.84,239.06 536.31,239.36 535.78,239.65 535.26,239.93 534.74,240.22 534.23,240.5 533.72,240.77 533.22,241.04 532.73,241.3 532.25,241.56 531.77,241.81 531.31,242.05 530.86,242.27 530.42,242.49 530,242.7 529.39,243 528.82,243.28 528.28,243.54 527.76,243.8 527.27,244.04 526.79,244.28 526.33,244.5 525.88,244.71 525.44,244.92 525,245.11 524.56,245.3 524.12,245.48 523.67,245.66 523.21,245.83 522.73,246 522.24,246.16 521.72,246.33 521.18,246.48 520.61,246.64 520,246.8 519.57,246.91 519.13,247.01 518.67,247.12 518.2,247.23 517.71,247.34 517.21,247.45 516.7,247.56 516.18,247.67 515.65,247.78 515.11,247.89 514.57,247.99 514.02,248.1 513.48,248.19 512.93,248.29 512.38,248.38 511.83,248.47 511.28,248.55 510.74,248.63 510.2,248.7 509.67,248.77 509.14,248.83 508.63,248.88 508.12,248.92 507.63,248.96 507.15,248.99 506.69,249.01 506.24,249.02 505.81,249.03 505.39,249.02 505,249 504.32,248.95 503.71,248.88 503.15,248.79 502.65,248.67 502.18,248.54 501.75,248.39 501.34,248.21 500.94,248.01 500.54,247.78 500.13,247.52 499.71,247.24 499.26,246.94 498.77,246.6 498.24,246.23 497.65,245.83 497,245.4 496.6,245.13 496.17,244.84 495.72,244.52 495.25,244.18 494.77,243.82 494.27,243.44 493.76,243.05 493.23,242.64 492.7,242.22 492.16,241.8 491.61,241.36 491.05,240.92 490.5,240.47 489.94,240.02 489.38,239.58 488.83,239.13 488.27,238.69 487.73,238.26 487.19,237.83 486.66,237.42 486.15,237.01 485.65,236.62 485.16,236.25 484.69,235.9 484.23,235.56 483.8,235.25 483.39,234.96 483,234.7 482.28,234.22 481.63,233.78 481.04,233.37 480.49,233 479.98,232.66 479.51,232.37 479.06,232.11 478.63,231.9 478.21,231.72 477.8,231.59 477.37,231.5 476.94,231.46 476.48,231.46 476,231.5 475.5,231.63 475.02,231.86 474.54,232.17 474.06,232.56 473.58,233 473.1,233.48 472.62,233.97 472.14,234.48 471.65,234.96 471.15,235.42 470.63,235.83 470.1,236.17 469.56,236.43 469,236.6 468.56,236.67 468.14,236.7 467.73,236.7 467.33,236.66 466.92,236.6 466.52,236.52 466.11,236.41 465.69,236.29 465.25,236.14 464.8,235.99 464.32,235.82 463.81,235.65 463.28,235.47 462.71,235.29 462.1,235.11 461.45,234.93 460.75,234.76 460,234.6 459.62,234.53 459.23,234.45 458.82,234.37 458.39,234.3 457.95,234.22 457.5,234.14 457.03,234.06 456.55,233.98 456.07,233.89 455.57,233.81 455.06,233.72 454.54,233.64 454.02,233.55 453.49,233.46 452.95,233.37 452.41,233.28 451.86,233.19 451.31,233.09 450.76,233 450.21,232.9 449.66,232.81 449.1,232.71 448.55,232.61 448,232.51 447.46,232.41 446.91,232.31 446.37,232.21 445.84,232.1 445.31,232 444.79,231.89 444.28,231.78 443.78,231.67 443.29,231.57 442.81,231.45 442.33,231.34 441.88,231.23 441.43,231.12 441,231 440.39,230.83 439.78,230.65 439.18,230.48 438.6,230.29 438.02,230.11 437.45,229.92 436.89,229.73 436.34,229.54 435.8,229.34 435.26,229.14 434.74,228.94 434.22,228.74 433.71,228.54 433.21,228.33 432.72,228.12 432.23,227.92 431.76,227.71 431.29,227.5 430.83,227.29 430.37,227.07 429.93,226.86 429.49,226.65 429.05,226.44 428.63,226.22 428.21,226.01 427.8,225.8 427.18,225.46 426.64,225.13 426.17,224.8 425.74,224.48 425.36,224.16 425,223.84 424.65,223.51 424.3,223.17 423.93,222.83 423.54,222.48 423.1,222.11 422.61,221.73 422.04,221.33 421.4,220.91 420.65,220.47 419.8,220 419.44,219.81 419.07,219.61 418.68,219.4 418.27,219.18 417.84,218.95 417.41,218.72 416.95,218.47 416.49,218.22 416.01,217.97 415.52,217.7 415.02,217.44 414.51,217.17 413.99,216.89 413.47,216.61 412.93,216.34 412.39,216.05 411.84,215.77 411.29,215.49 410.74,215.21 410.18,214.93 409.61,217.65 409.05,217.37 408.48,217.1 407.92,216.83 407.35,216.57 406.79,216.31 406.23,216.05 405.67,215.81 405.11,215.57 404.56,215.34 404.02,215.11 403.48,214.9 402.94,214.69 402.42,214.5 401.9,214.31 401.4,214.14 400.9,213.98 400.42,213.84 399.94,213.71 399.48,213.59 399.03,213.49 398.6,213.4 397.99,213.3 397.38,213.24 396.77,213.2 396.18,213.19 395.59,213.2 395,213.24 394.43,213.3 393.86,213.38 393.3,213.48 392.74,213.6 392.2,213.72 391.66,213.87 391.13,214.02 390.61,214.18 390.1,214.35 389.59,214.52 389.1,214.7 388.61,214.87 388.14,215.05 387.68,215.23 387.22,215.4 386.78,215.56 386.35,215.72 385.93,215.87 385.52,216.01 385.12,216.13 384.74,216.24 384.36,216.33 384,216.4 383.2,216.54 382.52,216.65 381.93,216.75 381.41,216.82 380.96,216.88 380.54,216.93 380.16,216.96 379.78,216.98 379.39,216.99 378.98,217 378.52,217 378,217 377.54,216.97 377.09,216.9 376.66,216.78 376.22,216.64 375.79,216.49 375.35,216.34 374.89,216.19 374.41,216.07 373.91,215.98 373.36,215.93 372.78,215.94 372.14,216.01 371.45,216.16 370.7,216.4 370.31,216.56 369.91,216.75 369.48,216.97 369.05,217.22 368.59,217.49 368.13,217.79 367.65,218.11 367.16,218.45 366.66,218.8 366.15,219.16 365.63,219.54 365.11,219.92 364.58,220.31 364.04,220.7 363.5,221.09 362.95,221.48 362.4,221.86 361.86,222.23 361.31,222.6 360.76,222.95 360.21,223.28 359.66,223.6 359.12,223.9 358.58,224.17 358.05,224.42 357.53,224.64 357.01,224.83 356.5,224.98 356,225.1 355.48,225.19 354.95,225.24 354.4,225.27 353.84,225.27 353.27,225.24 352.7,225.19 352.12,225.12 351.54,225.03 350.96,224.92 350.37,224.8 349.79,224.66 349.22,224.52 348.65,224.36 348.08,224.19 347.53,224.02 346.98,223.85 346.45,223.67 345.94,223.5 345.44,223.32 344.96,223.16 344.5,222.99 344.06,222.84 343.65,222.7 343.26,222.56 342.9,222.45 342.57,222.35 342.27,222.26 342,222.2" fill="#bfe4fc"  opacity="0.85"/>
<polygon points="342,206.5 342.26,206.37 342.54,206.23 342.85,206.08 343.16,205.91 343.5,205.74 343.86,205.56 344.23,205.37 344.62,205.18 345.02,204.97 345.44,204.75 345.87,204.53 346.32,204.3 346.78,204.07 347.26,203.82 347.75,203.57 348.24,203.32 348.75,203.06 349.28,202.79 349.81,202.52 350.35,202.24 350.9,201.96 351.45,201.67 352.02,201.38 352.59,201.08 353.17,200.79 353.76,200.49 354.35,200.18 354.95,199.88 355.55,199.57 356.16,199.26 356.77,198.95 357.38,198.64 358,198.32 358.61,198.01 359.23,197.69 359.85,197.38 360.47,197.07 361.09,196.75 361.7,196.44 362.32,196.13 362.93,195.82 363.54,195.51 364.15,195.2 364.76,194.9 365.36,194.6 365.95,194.3 366.54,194.01 367.12,193.72 367.7,193.43 368.27,193.15 368.83,192.87 369.39,192.6 369.93,192.34 370.47,192.07 370.99,191.82 371.51,191.57 372.01,191.33 372.5,191.09 372.98,190.86 373.45,190.64 373.9,190.43 374.34,190.22 374.77,190.02 375.18,189.83 375.58,189.65 375.95,189.48 376.32,189.32 376.66,189.17 376.99,189.03 377.3,188.9 378.75,188.33 379.9,187.96 380.79,187.76 381.46,187.69 381.95,187.75 382.29,187.88 382.53,188.08 382.7,188.31 382.85,188.54 383.02,188.76 383.24,188.92 383.55,189.01 384,189 384.49,188.91 384.98,188.8 385.47,188.66 385.96,188.5 386.45,188.32 386.95,188.14 387.44,187.95 387.94,187.76 388.44,187.59 388.95,187.42 389.45,187.27 389.97,187.15 390.48,187.06 391,187 391.48,186.97 391.94,186.96 392.39,186.96 392.84,186.98 393.29,187.01 393.73,187.06 394.19,187.11 394.65,187.18 395.14,187.26 395.64,187.34 396.16,187.44 396.72,187.55 397.31,187.66 397.93,187.78 398.6,187.9 399.01,187.98 399.44,188.06 399.89,188.15 400.36,188.24 400.85,188.34 401.35,188.44 401.86,188.55 402.39,188.66 402.92,188.77 403.47,188.89 404.01,189.01 404.56,189.13 405.12,189.25 405.67,189.37 406.23,189.5 406.78,189.62 407.32,189.75 407.86,189.87 408.39,190 408.91,190.12 409.41,190.24 409.9,190.36 410.38,190.47 410.84,190.58 411.28,190.69 411.7,190.8 412.34,190.96 412.95,191.11 413.53,191.26 414.08,191.39 414.6,191.52 415.11,191.65 415.6,191.78 416.07,191.91 416.53,192.05 416.99,192.19 417.44,192.34 417.9,192.5 418.36,192.68 418.83,192.87 419.31,193.07 419.8,193.3 420.29,194.55 420.77,194.83 421.23,195.13 421.69,195.44 422.13,195.77 422.58,196.11 423.03,196.46 423.48,196.82 423.95,197.17 424.42,197.53 424.92,197.87 425.44,198.21 425.98,198.54 426.55,198.85 427.16,199.13 427.8,199.4 428.21,199.55 428.63,199.7 429.05,199.84 429.49,199.98 429.93,200.11 430.37,200.24 430.83,200.36 431.29,200.48 431.76,200.6 432.23,200.71 432.72,200.82 433.21,200.93 433.71,201.04 434.22,201.14 434.74,201.25 435.26,201.35 435.8,201.45 436.34,201.55 436.89,201.66 437.45,201.76 438.02,201.86 438.6,201.96 439.18,202.07 439.78,202.18 440.39,202.29 441,202.4 441.43,202.48 441.88,202.56 442.33,202.64 442.81,202.72 443.29,202.8 443.78,202.88 444.28,202.96 444.79,203.04 445.31,203.12 445.84,203.2 446.37,203.28 446.91,203.36 447.46,203.45 448,203.53 448.55,203.61 449.1,203.69 449.66,203.77 450.21,203.85 450.76,203.93 451.31,204.01 451.86,204.09 452.41,204.17 452.95,204.25 453.49,204.32 454.02,204.4 454.54,204.48 455.06,204.55 455.57,204.63 456.07,204.7 456.55,204.77 457.03,204.84 457.5,204.91 457.95,204.98 458.39,205.05 458.82,205.11 459.23,205.18 459.62,205.24 460,205.3 460.75,205.44 461.45,205.58 462.1,205.74 462.71,205.91 463.28,206.07 463.81,206.24 464.32,206.4 464.8,206.56 465.25,206.71 465.69,206.84 466.11,206.95 466.52,207.05 466.92,207.12 467.33,207.16 467.73,207.18 468.14,207.16 468.56,207.1 469,207 469.56,206.79 470.1,206.49 470.63,206.11 471.15,205.66 471.65,205.16 472.14,204.63 472.62,204.07 473.1,203.52 473.58,202.98 474.06,202.47 474.54,201.99 475.02,201.58 475.5,201.25 476,201 476.5,200.82 477,200.69 477.5,200.59 478,200.52 478.5,200.49 479,200.5 479.5,200.53 480,200.59 480.5,200.69 481,200.8 481.5,200.94 482,201.11 482.5,201.29 483,201.5 483.5,201.74 484,202.03 484.5,202.36 485,202.73 485.5,203.13 486,203.55 486.5,203.99 487,204.44 487.5,204.9 488,205.35 488.5,205.79 489,206.22 489.5,206.62 490,207 490.48,207.37 490.94,207.74 491.37,208.13 491.8,208.51 492.21,208.9 492.63,209.28 493.06,209.64 493.51,210 493.98,210.33 494.49,210.65 495.04,210.93 495.63,211.19 496.28,211.42 497,211.6 497.39,211.68 497.8,211.75 498.23,211.81 498.68,211.87 499.14,211.92 499.63,211.97 500.12,213.51 500.64,213.54 501.16,213.57 501.69,213.59 502.23,213.6 502.77,213.61 503.32,213.61 503.88,213.61 504.43,213.61 504.98,213.59 505.53,213.58 506.08,213.55 506.62,213.53 507.16,213.5 507.69,213.46 508.2,213.42 508.71,213.38 509.2,213.33 509.68,213.28 510.14,213.22 510.58,213.16 511,213.1 511.62,212.99 512.21,212.86 512.78,212.72 513.32,212.56 513.83,212.38 514.33,212.2 514.82,212 515.29,211.79 515.75,211.57 516.21,211.35 516.66,211.12 517.11,210.89 517.57,210.66 518.03,210.42 518.5,210.19 518.98,209.95 519.48,209.73 520,209.5 520.48,209.3 520.96,209.09 521.45,208.89 521.94,208.67 522.43,208.46 522.93,208.25 523.43,208.03 523.93,207.81 524.43,207.59 524.94,207.36 525.44,207.14 525.95,206.91 526.46,206.69 526.97,206.46 527.48,206.23 527.98,206.01 528.49,205.78 529,205.55 529.5,205.33 530,205.1 530.5,204.87 530.99,204.64 531.47,204.41 531.95,204.18 532.43,203.94 532.91,203.7 533.38,203.46 533.86,203.22 534.33,202.98 534.81,202.74 535.3,202.51 535.78,202.27 536.28,202.04 536.78,201.81 537.29,201.58 537.81,201.35 538.34,201.13 538.88,200.92 539.43,200.71 540,200.5 540.45,200.34 540.92,200.19 541.4,200.03 541.89,199.87 542.4,199.72 542.92,199.56 543.44,199.41 543.98,199.26 544.51,199.11 545.05,198.96 545.6,198.81 546.14,198.66 546.69,198.52 547.23,198.38 547.77,198.24 548.3,198.11 548.83,197.98 549.34,197.85 549.85,197.73 550.35,197.61 550.83,197.49 551.3,197.38 551.75,197.28 552.19,197.18 552.6,197.09 553,197 553.68,196.85 554.31,196.71 554.9,196.58 555.44,196.47 555.94,196.37 556.42,196.29 556.88,196.21 557.31,196.15 557.75,196.11 558.17,196.08 558.61,196.06 559.05,196.06 559.51,196.07 560,196.1 560.5,196.14 561,196.2 561.5,196.27 562,196.35 562.5,196.44 563,196.56 563.5,196.68 564,196.82 564.5,196.98 565,197.15 565.5,197.34 566,197.54 566.5,197.76 567,198 567.49,198.25 567.97,198.52 568.45,198.8 568.91,199.1 569.38,199.41 569.84,199.74 570.31,200.09 570.79,200.45 571.28,200.83 571.78,201.23 572.3,201.64 572.84,202.07 573.41,202.53 574,203 574.42,203.35 574.85,203.72 575.27,204.1 575.7,204.5 576.12,204.92 576.56,205.35 577,205.78 577.45,206.23 577.91,206.68 578.38,207.14 578.86,207.6 579.35,208.05 579.86,208.51 580.39,208.96 580.94,209.41 581.5,209.85 582.09,210.28 582.7,210.7 583.34,211.11 584,211.5 584.4,211.73 584.82,211.95 585.24,212.18 585.68,212.41 586.13,212.64 586.58,212.87 587.05,213.1 587.52,213.33 588,213.56 588.49,213.78 588.98,214.01 589.48,214.24 589.99,214.46 590.5,214.68 591.02,214.9 591.54,215.12 592.06,215.33 592.59,215.54 593.12,215.75 593.65,215.96 594.18,216.16 594.72,216.35 595.25,216.55 595.79,216.73 596.32,216.92 596.85,217.09 597.38,217.27 597.91,217.43 598.44,217.59 598.96,217.75 599.48,217.9 599.99,218.04 600.5,218.17 601,218.3 601.48,218.42 601.94,218.53 602.37,218.64 602.77,218.74 603.15,218.83 603.51,218.91 603.86,218.99 604.2,219.07 604.52,219.14 604.84,219.2 605.15,219.26 605.47,219.31 605.78,219.36 606.11,219.41 606.43,219.45 606.77,219.49 607.12,219.53 607.49,219.56 607.88,219.59 608.29,219.61 608.73,219.64 609.19,219.66 609.69,219.68 610.22,219.71 610.78,219.72 611.39,219.74 612.03,219.76 612.73,219.78 613.47,219.8 614.26,219.82 615.11,219.84 616.01,219.86 616.97,219.88 618,219.9 618.33,219.91 618.67,219.91 619.03,219.92 619.39,219.93 619.76,219.94 620.14,219.95 620.53,219.95 620.92,219.96 621.33,219.97 621.74,219.98 622.16,219.99 622.59,220 623.03,220.01 623.48,220.02 623.93,220.02 624.39,220.03 624.86,220.04 625.33,220.05 625.81,220.06 626.3,220.07 626.79,220.08 627.29,220.09 627.79,220.1 628.3,220.11 628.82,220.12 629.34,220.13 629.87,220.13 630.4,220.14 630.94,220.15 631.48,220.16 632.02,220.17 632.57,220.18 633.12,220.19 633.68,220.2 634.24,220.2 634.81,220.21 635.37,220.22 635.95,220.23 636.52,220.24 637.1,220.25 637.67,220.25 638.26,220.26 638.84,220.27 639.42,220.27 640.01,220.28 640.6,220.29 641.19,220.29 641.78,220.3 642.37,220.31 642.97,220.31 643.56,220.32 644.15,220.32 644.75,220.33 645.34,220.33 645.94,220.34 646.53,220.34 647.13,220.35 647.72,220.35 648.31,220.35 648.9,220.36 649.49,220.36 650.08,220.36 650.67,220.36 651.25,220.36 651.84,220.36 652.42,220.37 652.99,220.37 653.57,220.37 654.14,220.37 654.71,220.36 655.28,220.36 655.85,220.36 656.41,220.36 656.96,220.36 657.52,220.35 658.07,220.35 658.61,220.35 659.15,220.34 659.69,220.34 660.22,220.33 660.74,220.33 661.26,220.32 661.78,220.31 662.29,220.31 662.8,220.3 663.29,220.29 663.79,220.28 664.27,220.27 664.75,220.26 665.22,220.25 665.69,220.24 666.15,220.23 666.6,220.21 667.05,220.2 667.48,220.19 667.91,220.17 668.33,220.16 668.75,220.14 669.15,220.13 669.55,220.11 669.94,220.09 670.31,220.07 670.68,220.05 671.04,220.03 671.39,220.01 671.74,219.99 672.07,219.97 672.39,219.95 672.7,219.92 673,219.9 674.52,219.75 675.82,219.58 676.94,219.39 677.88,219.18 678.66,218.95 679.31,218.71 679.83,218.45 680.24,215.67 680.56,215.39 680.81,215.09 681.01,214.79 681.16,214.48 681.29,214.17 681.42,213.86 681.55,213.54 681.72,213.22 681.93,212.91 682.2,212.6 682.55,212.3 683,212 683.5,211.71 684.01,211.41 684.53,211.11 685.05,210.8 685.57,210.5 686.09,210.19 686.62,209.88 687.14,209.56 687.67,209.25 688.19,208.93 688.7,208.61 689.22,208.29 689.72,207.97 690.22,207.65 690.71,207.32 691.19,207 691.66,206.68 692.12,206.35 692.57,206.03 693,205.7 693.59,205.24 694.15,204.78 694.68,204.31 695.19,203.85 695.68,203.39 696.16,202.92 696.62,202.46 697.09,201.98 697.55,201.51 698.01,201.02 698.49,200.53 698.97,200.03 699.48,199.52 700,199 700.47,198.53 700.96,198.03 701.45,197.52 701.95,196.99 702.46,196.45 702.97,195.9 703.48,195.35 704,194.81 704.52,194.27 705.03,193.73 705.54,193.22 706.05,192.72 706.55,192.25 707.04,191.8 707.53,191.38 708,191 708.51,190.6 708.98,190.21 709.42,189.84 709.84,189.5 710.25,189.18 710.65,188.88 711.06,188.6 711.49,188.35 711.95,188.12 712.45,187.92 712.99,187.75 713.59,187.6 714.26,187.49 715,187.4 715.38,187.37 715.78,187.35 716.21,187.34 716.66,187.34 717.13,187.35 717.62,187.36 718.12,187.39 718.63,187.42 719.16,187.45 719.7,187.5 720.25,187.54 720.81,187.6 721.37,187.66 721.93,187.72 722.5,187.79 723.07,187.86 723.63,187.93 724.19,188.01 724.75,188.09 725.3,188.17 725.84,188.25 726.37,188.34 726.88,188.42 727.38,188.51 727.87,188.59 728.34,188.68 728.79,188.76 729.22,188.84 729.62,188.92 730,189 730.75,189.16 731.42,189.3 732.03,189.44 732.58,189.58 733.09,189.72 733.56,189.87 734,190.04 734.42,190.22 734.83,190.43 735.23,190.66 735.64,190.94 736.07,191.24 736.52,191.6 737,192 737.5,192.47 738.01,193.01 738.52,193.61 739.03,194.26 739.54,194.95 740.05,195.66 740.56,196.39 741.07,197.13 741.57,197.86 742.07,198.57 742.57,199.25 743.05,199.89 743.53,200.48 744,201 744.53,201.55 745.05,202.06 745.55,202.53 746.04,202.97 746.52,203.38 747,203.77 747.48,204.13 747.96,204.47 748.45,204.79 748.95,205.11 749.47,205.41 750,205.7 750.49,205.94 751.01,206.17 751.56,206.39 752.13,206.6 752.71,206.79 753.3,206.97 753.88,207.14 754.44,207.3 754.98,207.45 755.48,207.58 755.94,207.7 756.36,207.81 756.71,207.91 757,208 757,215 756.71,214.91 756.36,214.81 755.94,214.7 755.48,214.58 754.98,214.45 754.44,214.3 753.88,214.14 753.3,213.97 752.71,213.79 752.13,213.6 751.56,213.39 751.01,213.17 750.49,212.94 750,212.7 749.47,212.41 748.95,212.11 748.45,211.79 747.96,211.47 747.48,211.13 747,210.77 746.52,210.38 746.04,209.97 745.55,209.53 745.05,209.06 744.53,208.55 744,208 743.53,207.48 743.05,206.89 742.57,206.25 742.07,205.57 741.57,204.86 741.07,204.13 740.56,203.39 740.05,202.66 739.54,201.95 739.03,201.26 738.52,200.61 738.01,200.01 737.5,199.47 737,199 736.52,198.6 736.07,198.24 735.64,197.94 735.23,197.66 734.83,197.43 734.42,197.22 734,197.04 733.56,196.87 733.09,196.72 732.58,196.58 732.03,196.44 731.42,196.3 730.75,196.16 730,196 729.62,195.92 729.22,195.84 728.79,195.76 728.34,195.68 727.87,195.59 727.38,195.51 726.88,195.42 726.37,195.34 725.84,195.25 725.3,195.17 724.75,195.09 724.19,195.01 723.63,194.93 723.07,194.86 722.5,194.79 721.93,194.72 721.37,194.66 720.81,194.6 720.25,194.54 719.7,194.5 719.16,194.45 718.63,194.42 718.12,194.39 717.62,194.36 717.13,194.35 716.66,194.34 716.21,194.34 715.78,194.35 715.38,194.37 715,194.4 714.26,194.49 713.59,194.6 712.99,194.75 712.45,194.92 711.95,195.12 711.49,195.35 711.06,195.6 710.65,195.88 710.25,196.18 709.84,196.5 709.42,196.84 708.98,197.21 708.51,197.6 708,198 707.53,198.38 707.04,198.8 706.55,199.25 706.05,199.72 705.54,200.22 705.03,200.73 704.52,201.27 704,201.81 703.48,202.35 702.97,202.9 702.46,203.45 701.95,203.99 701.45,204.52 700.96,205.03 700.47,205.53 700,206 699.48,206.52 698.97,207.03 698.49,207.53 698.01,208.02 697.55,208.51 697.09,208.98 696.62,209.46 696.16,209.92 695.68,210.39 695.19,210.85 694.68,211.31 694.15,211.78 693.59,212.24 693,212.7 692.57,213.03 692.12,213.35 691.66,213.68 691.19,214 690.71,214.32 690.22,214.65 689.72,214.97 689.22,215.29 688.7,215.61 688.19,215.93 687.67,216.25 687.14,216.56 686.62,216.88 686.09,217.19 685.57,217.5 685.05,217.8 684.53,218.11 684.01,218.41 683.5,218.71 683,219 682.55,219.3 682.2,219.6 681.93,219.91 681.72,220.22 681.55,220.54 681.42,220.86 681.29,221.17 681.16,221.48 681.01,221.79 680.81,222.09 680.56,222.39 680.24,222.67 679.83,222.95 679.31,223.21 678.66,223.45 677.88,223.68 676.94,223.89 675.82,224.08 674.52,224.25 673,224.4 672.7,224.42 672.39,224.45 672.07,224.47 671.74,224.49 671.39,224.51 671.04,224.53 670.68,224.55 670.31,224.57 669.94,224.59 669.55,224.61 669.15,224.63 668.75,224.64 668.33,224.66 667.91,224.67 667.48,224.69 667.05,224.7 666.6,224.71 666.15,224.73 665.69,224.74 665.22,224.75 664.75,224.76 664.27,224.77 663.79,224.78 663.29,224.79 662.8,224.8 662.29,224.81 661.78,224.81 661.26,224.82 660.74,224.83 660.22,224.83 659.69,224.84 659.15,224.84 658.61,224.85 658.07,224.85 657.52,224.85 656.96,224.86 656.41,224.86 655.85,224.86 655.28,224.86 654.71,224.86 654.14,224.87 653.57,224.87 652.99,224.87 652.42,224.87 651.84,224.86 651.25,224.86 650.67,224.86 650.08,224.86 649.49,224.86 648.9,224.86 648.31,224.85 647.72,224.85 647.13,224.85 646.53,224.84 645.94,224.84 645.34,224.83 644.75,224.83 644.15,224.82 643.56,224.82 642.97,224.81 642.37,224.81 641.78,224.8 641.19,224.79 640.6,224.79 640.01,224.78 639.42,224.77 638.84,224.77 638.26,224.76 637.67,224.75 637.1,224.75 636.52,224.74 635.95,224.73 635.37,224.72 634.81,224.71 634.24,224.7 633.68,224.7 633.12,224.69 632.57,224.68 632.02,224.67 631.48,224.66 630.94,224.65 630.4,224.64 629.87,224.63 629.34,224.63 628.82,224.62 628.3,224.61 627.79,224.6 627.29,224.59 626.79,224.58 626.3,224.57 625.81,224.56 625.33,224.55 624.86,224.54 624.39,224.53 623.93,224.52 623.48,224.52 623.03,224.51 622.59,224.5 622.16,224.49 621.74,224.48 621.33,224.47 620.92,224.46 620.53,224.45 620.14,224.45 619.76,224.44 619.39,224.43 619.03,224.42 618.67,224.41 618.33,224.41 618,224.4 616.97,224.38 616.01,224.36 615.11,224.34 614.26,224.32 613.47,224.3 612.73,224.28 612.03,224.26 611.39,224.24 610.78,224.22 610.22,224.21 609.69,224.18 609.19,224.16 608.73,224.14 608.29,224.11 607.88,224.09 607.49,224.06 607.12,224.03 606.77,223.99 606.43,223.95 606.11,223.91 605.78,223.86 605.47,223.81 605.15,223.76 604.84,223.7 604.52,223.64 604.2,223.57 603.86,223.49 603.51,223.41 603.15,223.33 602.77,223.24 602.37,223.14 601.94,223.03 601.48,222.92 601,222.8 600.5,222.67 599.99,222.54 599.48,222.4 598.96,222.25 598.44,222.09 597.91,221.93 597.38,221.77 596.85,221.59 596.32,221.42 595.79,221.23 595.25,221.05 594.72,220.85 594.18,220.66 593.65,220.46 593.12,220.25 592.59,220.04 592.06,219.83 591.54,219.62 591.02,219.4 590.5,219.18 589.99,218.96 589.48,218.74 588.98,218.51 588.49,218.28 588,218.06 587.52,217.83 587.05,217.6 586.58,217.37 586.13,217.14 585.68,216.91 585.24,216.68 584.82,216.45 584.4,216.23 584,216 583.34,215.61 582.7,215.2 582.09,214.78 581.5,214.35 580.94,213.91 580.39,213.46 579.86,213.01 579.35,212.55 578.86,212.1 578.38,211.64 577.91,211.18 577.45,210.73 577,210.28 576.56,209.85 576.12,209.42 575.7,209 575.27,208.6 574.85,208.22 574.42,207.85 574,207.5 573.41,207.03 572.84,206.57 572.3,206.14 571.78,205.73 571.28,205.33 570.79,204.95 570.31,204.59 569.84,204.24 569.38,203.91 568.91,203.6 568.45,203.3 567.97,203.02 567.49,202.75 567,202.5 566.5,202.26 566,202.04 565.5,201.84 565,201.65 564.5,201.48 564,201.32 563.5,201.18 563,201.06 562.5,200.94 562,200.85 561.5,200.77 561,200.7 560.5,200.64 560,200.6 559.51,200.57 559.05,200.56 558.61,200.56 558.17,200.58 557.75,200.61 557.31,200.65 556.88,200.71 556.42,200.79 555.94,200.87 555.44,200.97 554.9,201.08 554.31,201.21 553.68,201.35 553,201.5 552.6,201.59 552.19,201.68 551.75,201.78 551.3,201.88 550.83,201.99 550.35,202.11 549.85,202.23 549.34,202.35 548.83,202.48 548.3,202.61 547.77,202.74 547.23,202.88 546.69,203.02 546.14,203.16 545.6,203.31 545.05,203.46 544.51,203.61 543.98,203.76 543.44,203.91 542.92,204.06 542.4,204.22 541.89,204.37 541.4,204.53 540.92,204.69 540.45,204.84 540,205 539.43,205.21 538.88,205.42 538.34,205.63 537.81,205.85 537.29,206.08 536.78,206.31 536.28,206.54 535.78,206.77 535.3,207.01 534.81,207.24 534.33,207.48 533.86,207.72 533.38,207.96 532.91,208.2 532.43,208.44 531.95,208.68 531.47,208.91 530.99,209.14 530.5,209.37 530,209.6 529.5,209.83 529,210.05 528.49,210.28 527.98,210.51 527.48,210.73 526.97,210.96 526.46,211.19 525.95,211.41 525.44,211.64 524.94,211.86 524.43,212.09 523.93,212.31 523.43,212.53 522.93,212.75 522.43,212.96 521.94,213.17 521.45,213.39 520.96,213.59 520.48,213.8 520,214 519.48,214.23 518.98,214.45 518.5,214.69 518.03,214.92 517.57,215.16 517.11,215.39 516.66,215.62 516.21,215.85 515.75,216.07 515.29,216.29 514.82,216.5 514.33,216.7 513.83,216.88 513.32,217.06 512.78,217.22 512.21,217.36 511.62,217.49 511,217.6 510.58,217.66 510.14,217.72 509.68,217.78 509.2,217.83 508.71,217.88 508.2,217.92 507.69,217.96 507.16,218 506.62,218.03 506.08,218.05 505.53,218.08 504.98,218.09 504.43,218.11 503.88,218.11 503.32,218.11 502.77,218.11 502.23,218.1 501.69,218.09 501.16,218.07 500.64,218.04 500.12,218.01 499.63,217.97 499.14,217.92 498.68,217.87 498.23,217.81 497.8,217.75 497.39,217.68 497,217.6 496.28,217.42 495.63,217.19 495.04,216.93 494.49,216.65 493.98,216.33 493.51,216 493.06,215.64 492.63,215.28 492.21,214.9 491.8,214.51 491.37,214.13 490.94,213.74 490.48,213.37 490,213 489.5,212.62 489,212.22 488.5,211.79 488,211.35 487.5,210.9 487,210.44 486.5,209.99 486,209.55 485.5,209.13 485,208.73 484.5,208.36 484,208.03 483.5,207.74 483,207.5 482.5,207.29 482,207.11 481.5,206.94 481,206.8 480.5,206.69 480,206.59 479.5,206.53 479,206.5 478.5,206.49 478,206.52 477.5,206.59 477,206.69 476.5,206.82 476,207 475.5,207.25 475.02,207.58 474.54,207.99 474.06,208.47 473.58,208.98 473.1,209.52 472.62,210.07 472.14,210.63 471.65,211.16 471.15,211.66 470.63,212.11 470.1,212.49 469.56,212.79 469,213 468.56,213.1 468.14,213.16 467.73,213.18 467.33,213.16 466.92,213.12 466.52,213.05 466.11,212.95 465.69,212.84 465.25,212.71 464.8,212.56 464.32,212.4 463.81,212.24 463.28,212.07 462.71,211.91 462.1,211.74 461.45,211.58 460.75,211.44 460,211.3 459.62,211.24 459.23,211.18 458.82,211.11 458.39,211.05 457.95,210.98 457.5,210.91 457.03,210.84 456.55,210.77 456.07,210.7 455.57,210.63 455.06,210.55 454.54,210.48 454.02,210.4 453.49,210.32 452.95,210.25 452.41,210.17 451.86,210.09 451.31,210.01 450.76,209.93 450.21,209.85 449.66,209.77 449.1,209.69 448.55,209.61 448,209.53 447.46,209.45 446.91,209.36 446.37,209.28 445.84,209.2 445.31,209.12 444.79,209.04 444.28,208.96 443.78,208.88 443.29,208.8 442.81,208.72 442.33,208.64 441.88,208.56 441.43,208.48 441,208.4 440.39,208.29 439.78,208.18 439.18,208.07 438.6,207.96 438.02,207.86 437.45,207.76 436.89,207.66 436.34,207.55 435.8,207.45 435.26,207.35 434.74,207.25 434.22,207.14 433.71,207.04 433.21,206.93 432.72,206.82 432.23,206.71 431.76,206.6 431.29,206.48 430.83,206.36 430.37,206.24 429.93,206.11 429.49,205.98 429.05,205.84 428.63,205.7 428.21,205.55 427.8,205.4 427.16,205.13 426.55,204.85 425.98,204.54 425.44,204.21 424.92,203.87 424.42,203.53 423.95,203.17 423.48,202.82 423.03,202.46 422.58,202.11 422.13,201.77 421.69,201.44 421.23,201.13 420.77,200.83 420.29,200.55 419.8,200.3 419.31,200.07 418.83,199.87 418.36,199.68 417.9,199.5 417.44,199.34 416.99,199.19 416.53,199.05 416.07,198.91 415.6,198.78 415.11,198.65 414.6,198.52 414.08,198.39 413.53,198.26 412.95,198.11 412.34,197.96 411.7,197.8 411.28,197.69 410.84,197.58 410.38,197.47 409.9,197.36 409.41,197.24 408.91,197.12 408.39,197 407.86,196.87 407.32,196.75 406.78,196.62 406.23,196.5 405.67,196.37 405.12,196.25 404.56,196.13 404.01,196.01 403.47,195.89 402.92,195.77 402.39,195.66 401.86,195.55 401.35,195.44 400.85,195.34 400.36,195.24 399.89,195.15 399.44,195.06 399.01,194.98 398.6,194.9 397.93,194.78 397.31,194.66 396.72,194.55 396.16,194.44 395.64,194.34 395.14,194.26 394.65,194.18 394.19,194.11 393.73,194.06 393.29,194.01 392.84,193.98 392.39,193.96 391.94,193.96 391.48,193.97 391,194 390.48,194.06 389.97,194.15 389.45,194.27 388.95,194.42 388.44,194.59 387.94,194.76 387.44,194.95 386.95,195.14 386.45,195.32 385.96,195.5 385.47,195.66 384.98,195.8 384.49,195.91 384,196 383.55,196.01 383.24,195.92 383.02,195.76 382.85,195.54 382.7,195.31 382.53,195.08 382.29,194.88 381.95,194.75 381.46,194.69 380.79,194.76 379.9,194.96 378.75,195.33 377.3,195.9 376.99,196.03 376.66,196.17 376.32,196.32 375.95,196.48 375.58,196.65 375.18,196.83 374.77,197.02 374.34,197.22 373.9,197.43 373.45,197.64 372.98,197.86 372.5,198.09 372.01,198.33 371.51,198.57 370.99,198.82 370.47,199.07 369.93,199.34 369.39,199.6 368.83,199.87 368.27,200.15 367.7,200.43 367.12,200.72 366.54,201.01 365.95,201.3 365.36,201.6 364.76,201.9 364.15,202.2 363.54,202.51 362.93,202.82 362.32,203.13 361.7,203.44 361.09,203.75 360.47,204.07 359.85,204.38 359.23,204.69 358.61,205.01 358,205.32 357.38,205.64 356.77,205.95 356.16,206.26 355.55,206.57 354.95,206.88 354.35,207.18 353.76,207.49 353.17,207.79 352.59,208.08 352.02,208.38 351.45,208.67 350.9,208.96 350.35,209.24 349.81,209.52 349.28,209.79 348.75,210.06 348.24,210.32 347.75,210.57 347.26,210.82 346.78,211.07 346.32,211.3 345.87,211.53 345.44,211.75 345.02,211.97 344.62,212.18 344.23,212.37 343.86,212.56 343.5,212.74 343.16,212.91 342.85,213.08 342.54,213.23 342.26,213.37 342,213.5" fill="#ffd9d9"  opacity="0.9"/>
</g>
<line x1="356.5" y1="176" x2="356.5" y2="255" stroke="#000" stroke-width="1" stroke-dasharray="2,2" shape-rendering="crispEdges"/>
<line x1="377.5" y1="176" x2="377.5" y2="255" stroke="#000" stroke-width="1" stroke-dasharray="2,2" shape-rendering="crispEdges"/>
<line x1="398.5" y1="176" x2="398.5" y2="255" stroke="#000" stroke-width="1" stroke-dasharray="2,2" shape-rendering="crispEdges"/>
<line x1="419.5" y1="176" x2="419.5" y2="255" stroke="#000" stroke-width="1" stroke-dasharray="2,2" shape-rendering="crispEdges"/>
<line x1="440.5" y1="176" x2="440.5" y2="255" stroke="#000" stroke-width="1" stroke-dasharray="2,2" shape-rendering="crispEdges"/>
<line x1="462.5" y1="176" x2="462.5" y2="255" stroke="#000" stroke-width="1" stroke-dasharray="2,2" shape-rendering="crispEdges"/>
<line x1="483.5" y1="176" x2="483.5" y2="255" stroke="#000" stroke-width="1" stroke-dasharray="2,2" shape-rendering="crispEdges"/>
<line x1="504.5" y1="176" x2="504.5" y2="255" stroke="#000" stroke-width="1" stroke-dasharray="2,2" shape-rendering="crispEdges"/>
<line x1="525.5" y1="176" x2="525.5" y2="255" stroke="#000" stroke-width="1" stroke-dasharray="2,2" shape-rendering="crispEdges"/>
<line x1="546.5" y1="176" x2="546.5" y2="255" stroke="#000" stroke-width="1" stroke-dasharray="2,2" shape-rendering="crispEdges"/>
<line x1="567.5" y1="176" x2="567.5" y2="255" stroke="#000" stroke-width="1" stroke-dasharray="2,2" shape-rendering="crispEdges"/>
<line x1="588.5" y1="176" x2="588.5" y2="255" stroke="#000" stroke-width="1" stroke-dasharray="2,2" shape-rendering="crispEdges"/>
<line x1="609.5" y1="176" x2="609.5" y2="255" stroke="#000" stroke-width="1" stroke-dasharray="2,2" shape-rendering="crispEdges"/>
<line x1="630.5" y1="176" x2="630.5" y2="255" stroke="#000" stroke-width="1" stroke-dasharray="2,2" shape-rendering="crispEdges"/>
<line x1="652.5" y1="176" x2="652.5" y2="255" stroke="#000" stroke-width="1" stroke-dasharray="2,2" shape-rendering="crispEdges"/>
<line x1="673.5" y1="176" x2="673.5" y2="255" stroke="#000" stroke-width="1" stroke-dasharray="2,2" shape-rendering="crispEdges"/>
<line x1="694.5" y1="176" x2="694.5" y2="255" stroke="#000" stroke-width="1" stroke-dasharray="2,2" shape-rendering="crispEdges"/>
<line x1="715.5" y1="176" x2="715.5" y2="255" stroke="#000" stroke-width="1" stroke-dasharray="2,2" shape-rendering="crispEdges"/>
<line x1="736.5" y1="176" x2="736.5" y2="255" stroke="#000" stroke-width="1" stroke-dasharray="2,2" shape-rendering="crispEdges"/>
<line x1="342" y1="197.5" x2="758" y2="197.5" stroke="#000" stroke-width="1" stroke-dasharray="2,2" shape-rendering="crispEdges"/>
<line x1="342" y1="222.5" x2="758" y2="222.5" stroke="#000" stroke-width="1" stroke-dasharray="2,2" shape-rendering="crispEdges"/>
<line x1="342" y1="247.5" x2="758" y2="247.5" stroke="#000" stroke-width="1" stroke-dasharray="2,2" shape-rendering="crispEdges"/>
<g clip-path="url(#tclip)">
<line x1="349.5" y1="202.7" x2="349.5" y2="214.4" stroke="#a8141a" stroke-width="1.2" />
<line x1="356.5" y1="199" x2="356.5" y2="213" stroke="#a8141a" stroke-width="1.2" />
<line x1="363.4" y1="194.6" x2="363.4" y2="211.5" stroke="#a8141a" stroke-width="1.2" />
<line x1="370.5" y1="189.5" x2="370.5" y2="211.5" stroke="#a8141a" stroke-width="1.2" />
<line x1="377.3" y1="188.8" x2="377.3" y2="210" stroke="#a8141a" stroke-width="1.2" />
<line x1="384.6" y1="188.8" x2="384.6" y2="210" stroke="#a8141a" stroke-width="1.2" />
<line x1="391.5" y1="189.5" x2="391.5" y2="210.7" stroke="#a8141a" stroke-width="1.2" />
<line x1="398.6" y1="191.7" x2="398.6" y2="207.8" stroke="#a8141a" stroke-width="1.2" />
<line x1="405.4" y1="192.4" x2="405.4" y2="210" stroke="#a8141a" stroke-width="1.2" />
<line x1="412.8" y1="196.8" x2="412.8" y2="210.7" stroke="#a8141a" stroke-width="1.2" />
<line x1="419.8" y1="197.6" x2="419.8" y2="211.5" stroke="#a8141a" stroke-width="1.2" />
<line x1="426.7" y1="202.7" x2="426.7" y2="211.5" stroke="#a8141a" stroke-width="1.2" />
<line x1="433.7" y1="204.9" x2="433.7" y2="214.4" stroke="#a8141a" stroke-width="1.2" />
<line x1="441" y1="207.8" x2="441" y2="215.1" stroke="#a8141a" stroke-width="1.2" />
<line x1="448.3" y1="209.3" x2="448.3" y2="215.9" stroke="#a8141a" stroke-width="1.2" />
<line x1="455.7" y1="210" x2="455.7" y2="216.6" stroke="#a8141a" stroke-width="1.2" />
<line x1="462" y1="207.6" x2="462" y2="215.6" stroke="#a8141a" stroke-width="1.2" />
<line x1="469" y1="209" x2="469" y2="216" stroke="#a8141a" stroke-width="1.2" />
<line x1="476" y1="203" x2="476" y2="209" stroke="#a8141a" stroke-width="1.2" />
<line x1="483" y1="203.5" x2="483" y2="209.7" stroke="#a8141a" stroke-width="1.2" />
<line x1="518" y1="210" x2="518" y2="217" stroke="#a8141a" stroke-width="1.2" />
<line x1="525" y1="206" x2="525" y2="214" stroke="#a8141a" stroke-width="1.2" />
<line x1="532" y1="202" x2="532" y2="211" stroke="#a8141a" stroke-width="1.2" />
<line x1="540" y1="191.5" x2="540" y2="205" stroke="#a8141a" stroke-width="1.2" />
<line x1="547" y1="190" x2="547" y2="204" stroke="#a8141a" stroke-width="1.2" />
<line x1="553" y1="188" x2="553" y2="203.5" stroke="#a8141a" stroke-width="1.2" />
<line x1="560" y1="189" x2="560" y2="204" stroke="#a8141a" stroke-width="1.2" />
<line x1="567" y1="193" x2="567" y2="207" stroke="#a8141a" stroke-width="1.2" />
<line x1="574" y1="198" x2="574" y2="211" stroke="#a8141a" stroke-width="1.2" />
<line x1="581" y1="206" x2="581" y2="216" stroke="#a8141a" stroke-width="1.2" />
<line x1="588" y1="212" x2="588" y2="220" stroke="#a8141a" stroke-width="1.2" />
<line x1="595" y1="214" x2="595" y2="224" stroke="#a8141a" stroke-width="1.2" />
<line x1="602" y1="215" x2="602" y2="226" stroke="#a8141a" stroke-width="1.2" />
<line x1="609" y1="216" x2="609" y2="227" stroke="#a8141a" stroke-width="1.2" />
<line x1="616" y1="216" x2="616" y2="227" stroke="#a8141a" stroke-width="1.2" />
<line x1="623" y1="215" x2="623" y2="227" stroke="#a8141a" stroke-width="1.2" />
<line x1="630" y1="215" x2="630" y2="227" stroke="#a8141a" stroke-width="1.2" />
<line x1="637" y1="214" x2="637" y2="226.6" stroke="#a8141a" stroke-width="1.2" />
<line x1="644" y1="214" x2="644" y2="226.6" stroke="#a8141a" stroke-width="1.2" />
<line x1="651" y1="214" x2="651" y2="226.6" stroke="#a8141a" stroke-width="1.2" />
<line x1="658" y1="214" x2="658" y2="226.6" stroke="#a8141a" stroke-width="1.2" />
<line x1="665" y1="214" x2="665" y2="226.6" stroke="#a8141a" stroke-width="1.2" />
<line x1="681" y1="214.4" x2="681" y2="219" stroke="#a8141a" stroke-width="1.2" />
<line x1="687" y1="208" x2="687" y2="222" stroke="#a8141a" stroke-width="1.2" />
<line x1="694" y1="200" x2="694" y2="215" stroke="#a8141a" stroke-width="1.2" />
<line x1="701" y1="193" x2="701" y2="208" stroke="#a8141a" stroke-width="1.2" />
<line x1="708" y1="183" x2="708" y2="203" stroke="#a8141a" stroke-width="1.2" />
<line x1="715.6" y1="182" x2="715.6" y2="202" stroke="#a8141a" stroke-width="1.2" />
<line x1="722" y1="185" x2="722" y2="203" stroke="#a8141a" stroke-width="1.2" />
<line x1="730" y1="188" x2="730" y2="207" stroke="#a8141a" stroke-width="1.2" />
<line x1="737" y1="196" x2="737" y2="212" stroke="#a8141a" stroke-width="1.2" />
<line x1="744" y1="203" x2="744" y2="216" stroke="#a8141a" stroke-width="1.2" />
<line x1="750" y1="205" x2="750" y2="218" stroke="#a8141a" stroke-width="1.2" />
<polyline points="342,212.2 356,215.1 370.7,206.4 378,207 384,206.4 398.6,203.4 419.8,213 427.8,218.8 441,224 460,227.6 469,229.6 476,224.5 483,227.7 497,238.4 505,242 520,239.8 530,235.7 545,227.7 557,222.5 565,222 577,227.7 591,239.6 602,246.4 615,248 640,244.7 655,246.4 673,244.7 680,239.6 690,229.4 700,219 710,214 725,215.7 735,219 745,227.7 757,234.5" fill="none" stroke="#1530e0" stroke-width="2.8" stroke-linejoin="round" />
<polyline points="342,211.5 377.3,193.9 384,194 391,192 398.6,192.9 411.7,195.8 419.8,198.3 427.8,203.4 441,206.4 460,209.3 469,211 476,205 483,205.5 490,211 497,215.6 511,215.6 520,212 530,207.6 540,203 553,199.5 560,198.6 567,200.5 574,205.5 584,214 601,220.8 618,222.4 673,222.4 683,217 693,210.7 700,204 708,196 715,192.4 730,194 737,197 744,206 750,210.7 757,213" fill="none" stroke="#ff1a1a" stroke-width="2.9" stroke-linejoin="round" />
<circle cx="345" cy="217.8" r="1.9" fill="#7062dc" />
<circle cx="350" cy="214" r="1.9" fill="#7062dc" />
<circle cx="357" cy="210" r="1.9" fill="#7062dc" />
<circle cx="364" cy="206" r="1.9" fill="#7062dc" />
<circle cx="371" cy="202" r="1.9" fill="#7062dc" />
<circle cx="378" cy="199" r="1.9" fill="#7062dc" />
<circle cx="385" cy="198" r="1.9" fill="#7062dc" />
<circle cx="392" cy="198" r="1.9" fill="#7062dc" />
<circle cx="399" cy="198" r="1.9" fill="#7062dc" />
<circle cx="406" cy="199" r="1.9" fill="#7062dc" />
<circle cx="413" cy="200" r="1.9" fill="#7062dc" />
<circle cx="420" cy="202" r="1.9" fill="#7062dc" />
<circle cx="427" cy="204.5" r="1.9" fill="#7062dc" />
<circle cx="434" cy="207" r="1.9" fill="#7062dc" />
<circle cx="441" cy="209" r="1.9" fill="#7062dc" />
<circle cx="448" cy="210.5" r="1.9" fill="#7062dc" />
<circle cx="455" cy="212" r="1.9" fill="#7062dc" />
<circle cx="462" cy="213" r="1.9" fill="#7062dc" />
<circle cx="469" cy="213" r="1.9" fill="#7062dc" />
<circle cx="476" cy="210" r="1.9" fill="#7062dc" />
<circle cx="483" cy="209" r="1.9" fill="#7062dc" />
<circle cx="490" cy="214" r="1.9" fill="#7062dc" />
<circle cx="497" cy="219" r="1.9" fill="#7062dc" />
<circle cx="504" cy="221" r="1.9" fill="#7062dc" />
<circle cx="511" cy="222" r="1.9" fill="#7062dc" />
<circle cx="518" cy="222.5" r="1.9" fill="#7062dc" />
<circle cx="525" cy="222.5" r="1.9" fill="#7062dc" />
<circle cx="532" cy="222" r="1.9" fill="#7062dc" />
<circle cx="539" cy="222" r="1.9" fill="#7062dc" />
<circle cx="546" cy="222" r="1.9" fill="#7062dc" />
<circle cx="553" cy="222" r="1.9" fill="#7062dc" />
<circle cx="560" cy="221.5" r="1.9" fill="#7062dc" />
<circle cx="567" cy="222" r="1.9" fill="#7062dc" />
<circle cx="574" cy="223.6" r="1.9" fill="#7062dc" />
<circle cx="581" cy="226" r="1.9" fill="#7062dc" />
<circle cx="588" cy="226" r="1.9" fill="#7062dc" />
<circle cx="595" cy="226" r="1.9" fill="#7062dc" />
<circle cx="602" cy="225" r="1.9" fill="#7062dc" />
<circle cx="609" cy="224.3" r="1.9" fill="#7062dc" />
<circle cx="616" cy="224.3" r="1.9" fill="#7062dc" />
<circle cx="623" cy="224.3" r="1.9" fill="#7062dc" />
<circle cx="630" cy="224.3" r="1.9" fill="#7062dc" />
<circle cx="637" cy="224.3" r="1.9" fill="#7062dc" />
<circle cx="644" cy="224.3" r="1.9" fill="#7062dc" />
<circle cx="651" cy="224.3" r="1.9" fill="#7062dc" />
<circle cx="658" cy="224.3" r="1.9" fill="#7062dc" />
<circle cx="665" cy="224.3" r="1.9" fill="#7062dc" />
<circle cx="672" cy="223.5" r="1.9" fill="#7062dc" />
<circle cx="680" cy="221" r="1.9" fill="#7062dc" />
<circle cx="687" cy="219" r="1.9" fill="#7062dc" />
<circle cx="694" cy="216" r="1.9" fill="#7062dc" />
<circle cx="701" cy="214" r="1.9" fill="#7062dc" />
<circle cx="708" cy="212.5" r="1.9" fill="#7062dc" />
<circle cx="715" cy="212" r="1.9" fill="#7062dc" />
<circle cx="722" cy="212.3" r="1.9" fill="#7062dc" />
<circle cx="729" cy="212.3" r="1.9" fill="#7062dc" />
<circle cx="736" cy="212.3" r="1.9" fill="#7062dc" />
<circle cx="743" cy="212.3" r="1.9" fill="#7062dc" />
<circle cx="750" cy="213.8" r="1.9" fill="#7062dc" />
<circle cx="757" cy="214.5" r="1.9" fill="#7062dc" />
</g>
<rect x="342.5" y="176.5" width="415" height="79" fill="none" stroke="#000" stroke-width="1" shape-rendering="crispEdges"/>
<line x1="342" y1="177.5" x2="758" y2="177.5" stroke="#6a6a6a" stroke-width="1" shape-rendering="crispEdges"/>
<text x="337.4" y="201.5" font-size="11.2" fill="#000" stroke="#000" stroke-width="0.25" text-anchor="end" textLength="5.8" lengthAdjust="spacingAndGlyphs" >5</text>
<text x="770.3" y="201.5" font-size="11.2" fill="#000" stroke="#000" stroke-width="0.25" text-anchor="middle" textLength="5.8" lengthAdjust="spacingAndGlyphs" >5</text>
<line x1="342" y1="197.5" x2="345" y2="197.5" stroke="#000" stroke-width="1" shape-rendering="crispEdges"/>
<text x="337.4" y="226.5" font-size="11.2" fill="#000" stroke="#000" stroke-width="0.25" text-anchor="end" textLength="5.8" lengthAdjust="spacingAndGlyphs" >0</text>
<text x="770.3" y="226.5" font-size="11.2" fill="#000" stroke="#000" stroke-width="0.25" text-anchor="middle" textLength="5.8" lengthAdjust="spacingAndGlyphs" >0</text>
<line x1="342" y1="222.5" x2="345" y2="222.5" stroke="#000" stroke-width="1" shape-rendering="crispEdges"/>
<text x="337.4" y="251.5" font-size="11.2" fill="#000" stroke="#000" stroke-width="0.25" text-anchor="end" textLength="9.4" lengthAdjust="spacingAndGlyphs" >-5</text>
<text x="770.3" y="251.5" font-size="11.2" fill="#000" stroke="#000" stroke-width="0.25" text-anchor="middle" textLength="9.4" lengthAdjust="spacingAndGlyphs" >-5</text>
<line x1="342" y1="247.5" x2="345" y2="247.5" stroke="#000" stroke-width="1" shape-rendering="crispEdges"/>
<text x="292.5" y="215.5" font-size="12" fill="#1a1aa0" stroke="#1a1aa0" stroke-width="0.25" text-anchor="middle" textLength="67" lengthAdjust="spacingAndGlyphs" transform="rotate(-90 292.5 215.5)" >temperatura</text>
<text x="306" y="216.5" font-size="12" fill="#1a1aa0" stroke="#1a1aa0" stroke-width="0.25" text-anchor="middle" textLength="21.5" lengthAdjust="spacingAndGlyphs" transform="rotate(-90 306 216.5)" >(°C)</text>
<text x="802.5" y="216.5" font-size="12" fill="#1a1aa0" stroke="#1a1aa0" stroke-width="0.25" text-anchor="middle" textLength="21.5" lengthAdjust="spacingAndGlyphs" transform="rotate(-90 802.5 216.5)" >(°C)</text>
<text x="816" y="215.5" font-size="12" fill="#1a1aa0" stroke="#1a1aa0" stroke-width="0.25" text-anchor="middle" textLength="67" lengthAdjust="spacingAndGlyphs" transform="rotate(-90 816 215.5)" >temperatura</text>
<rect x="342" y="263" width="416" height="79" fill="#ffffff" />
<rect x="407" y="263" width="92" height="79" fill="#e9e9e9" />
<rect x="575" y="263" width="93" height="79" fill="#e9e9e9" />
<rect x="745" y="263" width="13" height="79" fill="#e9e9e9" />
<circle cx="455" cy="315" r="40" fill="none" stroke="#dddddd" stroke-width="6" opacity="0.5"/>
<line x1="356.5" y1="263" x2="356.5" y2="342" stroke="#000" stroke-width="1" stroke-dasharray="2,2" shape-rendering="crispEdges"/>
<line x1="377.5" y1="263" x2="377.5" y2="342" stroke="#000" stroke-width="1" stroke-dasharray="2,2" shape-rendering="crispEdges"/>
<line x1="398.5" y1="263" x2="398.5" y2="342" stroke="#000" stroke-width="1" stroke-dasharray="2,2" shape-rendering="crispEdges"/>
<line x1="419.5" y1="263" x2="419.5" y2="342" stroke="#000" stroke-width="1" stroke-dasharray="2,2" shape-rendering="crispEdges"/>
<line x1="440.5" y1="263" x2="440.5" y2="342" stroke="#000" stroke-width="1" stroke-dasharray="2,2" shape-rendering="crispEdges"/>
<line x1="462.5" y1="263" x2="462.5" y2="342" stroke="#000" stroke-width="1" stroke-dasharray="2,2" shape-rendering="crispEdges"/>
<line x1="483.5" y1="263" x2="483.5" y2="342" stroke="#000" stroke-width="1" stroke-dasharray="2,2" shape-rendering="crispEdges"/>
<line x1="504.5" y1="263" x2="504.5" y2="342" stroke="#000" stroke-width="1" stroke-dasharray="2,2" shape-rendering="crispEdges"/>
<line x1="525.5" y1="263" x2="525.5" y2="342" stroke="#000" stroke-width="1" stroke-dasharray="2,2" shape-rendering="crispEdges"/>
<line x1="546.5" y1="263" x2="546.5" y2="342" stroke="#000" stroke-width="1" stroke-dasharray="2,2" shape-rendering="crispEdges"/>
<line x1="567.5" y1="263" x2="567.5" y2="342" stroke="#000" stroke-width="1" stroke-dasharray="2,2" shape-rendering="crispEdges"/>
<line x1="588.5" y1="263" x2="588.5" y2="342" stroke="#000" stroke-width="1" stroke-dasharray="2,2" shape-rendering="crispEdges"/>
<line x1="609.5" y1="263" x2="609.5" y2="342" stroke="#000" stroke-width="1" stroke-dasharray="2,2" shape-rendering="crispEdges"/>
<line x1="630.5" y1="263" x2="630.5" y2="342" stroke="#000" stroke-width="1" stroke-dasharray="2,2" shape-rendering="crispEdges"/>
<line x1="652.5" y1="263" x2="652.5" y2="342" stroke="#000" stroke-width="1" stroke-dasharray="2,2" shape-rendering="crispEdges"/>
<line x1="673.5" y1="263" x2="673.5" y2="342" stroke="#000" stroke-width="1" stroke-dasharray="2,2" shape-rendering="crispEdges"/>
<line x1="694.5" y1="263" x2="694.5" y2="342" stroke="#000" stroke-width="1" stroke-dasharray="2,2" shape-rendering="crispEdges"/>
<line x1="715.5" y1="263" x2="715.5" y2="342" stroke="#000" stroke-width="1" stroke-dasharray="2,2" shape-rendering="crispEdges"/>
<line x1="736.5" y1="263" x2="736.5" y2="342" stroke="#000" stroke-width="1" stroke-dasharray="2,2" shape-rendering="crispEdges"/>
<line x1="342" y1="266.5" x2="758" y2="266.5" stroke="#000" stroke-width="1" stroke-dasharray="2,2" shape-rendering="crispEdges"/>
<line x1="342" y1="281.5" x2="758" y2="281.5" stroke="#000" stroke-width="1" stroke-dasharray="2,2" shape-rendering="crispEdges"/>
<line x1="342" y1="296.5" x2="758" y2="296.5" stroke="#000" stroke-width="1" stroke-dasharray="2,2" shape-rendering="crispEdges"/>
<line x1="342" y1="311.5" x2="758" y2="311.5" stroke="#000" stroke-width="1" stroke-dasharray="2,2" shape-rendering="crispEdges"/>
<line x1="342" y1="326.5" x2="758" y2="326.5" stroke="#000" stroke-width="1" stroke-dasharray="2,2" shape-rendering="crispEdges"/>
<defs><clipPath id="hclip"><rect x="342" y="264" width="415" height="78"/></clipPath></defs>
<g clip-path="url(#hclip)">
<polyline points="342,276.5 342.53,276.43 343.12,276.35 343.76,276.25 344.46,276.13 345.22,276.01 346.04,275.87 346.91,275.73 347.83,275.58 348.81,275.44 349.85,275.29 350.93,275.15 352.07,275.02 353.27,274.89 354.51,274.78 355.81,274.68 357.16,274.6 358.55,274.54 360,274.5 360.77,274.49 361.57,274.49 362.39,274.5 363.24,274.51 364.11,274.53 365,274.56 365.91,274.59 366.84,274.63 367.79,274.67 368.76,274.72 369.74,274.77 370.74,274.82 371.75,274.87 372.78,274.93 373.81,274.99 374.85,275.04 375.91,275.1 376.97,275.16 378.04,275.22 379.11,275.27 380.18,275.32 381.26,275.37 382.34,275.42 383.42,275.46 384.5,275.5 385.58,275.53 386.66,275.56 387.73,275.58 388.79,275.59 389.85,275.6 390.9,275.6 391.94,275.59 392.97,275.57 393.99,275.54 395,275.5 396,275.45 397.02,275.38 398.03,275.31 399.06,275.22 400.09,275.12 401.12,275.01 402.16,274.89 403.2,274.76 404.25,274.63 405.29,274.49 406.34,274.34 407.39,274.19 408.43,274.04 409.48,273.88 410.52,273.72 411.57,273.56 412.61,273.4 413.64,273.24 414.67,273.08 415.7,272.92 416.72,272.77 417.73,272.62 418.74,272.47 419.74,272.33 420.73,272.2 421.71,272.07 422.68,271.95 423.64,271.84 424.59,271.74 425.52,271.65 426.45,271.58 427.36,271.51 428.25,271.46 429.13,271.42 430,271.4 431.19,271.4 432.35,271.42 433.49,271.48 434.61,271.56 435.7,271.66 436.78,271.78 437.84,271.92 438.88,272.08 439.9,272.24 440.91,272.42 441.91,272.6 442.89,272.79 443.86,272.98 444.82,273.17 445.77,273.36 446.71,273.54 447.64,273.72 448.57,273.88 449.5,274.03 450.42,274.16 451.33,274.28 452.25,274.37 453.16,274.44 454.08,274.48 455,274.5 456.09,274.48 457.18,274.42 458.27,274.32 459.35,274.19 460.43,274.03 461.5,273.86 462.56,273.66 463.61,273.45 464.65,273.23 465.68,273 466.69,272.77 467.7,272.55 468.69,272.33 469.67,272.13 470.63,271.94 471.57,271.77 472.5,271.63 473.4,271.52 474.29,271.44 475.16,271.4 476,271.4 477.2,271.48 478.31,271.63 479.35,271.86 480.34,272.14 481.27,272.46 482.17,272.82 483.06,273.19 483.95,273.58 484.84,273.97 485.77,274.34 486.73,274.7 487.75,275.01 488.83,275.29 490,275.5 490.87,275.61 491.78,275.69 492.72,275.75 493.7,275.78 494.7,275.8 495.72,275.8 496.76,275.79 497.81,275.78 498.87,275.76 499.94,275.74 501.01,275.73 502.07,275.73 503.13,275.74 504.18,275.77 505.21,275.82 506.22,275.89 507.21,275.99 508.18,276.12 509.11,276.29 510,276.5 511.15,276.83 512.25,277.22 513.32,277.65 514.36,278.12 515.37,278.62 516.36,279.16 517.33,279.73 518.29,280.32 519.24,280.92 520.19,281.54 521.13,282.18 522.08,282.81 523.04,283.45 524.01,284.08 525,284.7 526.01,285.33 527.04,285.99 528.08,286.68 529.13,287.38 530.19,288.1 531.24,288.83 532.29,289.56 533.33,290.29 534.36,291.02 535.37,291.73 536.36,292.44 537.32,293.12 538.25,293.78 539.15,294.4 540,295 541.21,295.85 542.35,296.68 543.43,297.48 544.46,298.24 545.44,298.97 546.38,299.67 547.3,300.32 548.21,300.93 549.1,301.49 550,302 551.1,302.59 552.14,303.13 553.15,303.61 554.12,304.02 555.09,304.35 556.05,304.58 557.01,304.7 558,304.7 558.99,304.59 559.98,304.38 560.96,304.06 561.94,303.65 562.93,303.14 563.93,302.52 564.95,301.81 566,301 566.92,300.15 567.82,299.17 568.7,298.08 569.6,296.91 570.53,295.69 571.52,294.44 572.58,293.21 573.73,292.02 575,290.9 575.83,290.24 576.7,289.57 577.62,288.88 578.57,288.19 579.56,287.49 580.57,286.8 581.6,286.12 582.65,285.45 583.71,284.8 584.78,284.17 585.84,283.58 586.9,283.02 587.95,282.5 588.99,282.02 590,281.6 591,281.23 592,280.92 593,280.67 594,280.45 595,280.27 596,280.12 597,279.99 598,279.88 599,279.78 600,279.69 601,279.58 602,279.47 603,279.34 604,279.19 605,279 605.99,278.79 606.96,278.57 607.92,278.34 608.87,278.11 609.81,277.86 610.76,277.62 611.71,277.37 612.67,277.12 613.64,276.87 614.63,276.63 615.64,276.39 616.68,276.15 617.75,275.92 618.85,275.71 620,275.5 620.88,275.35 621.75,275.2 622.63,275.05 623.52,274.9 624.41,274.75 625.32,274.6 626.23,274.45 627.16,274.31 628.1,274.17 629.06,274.03 630.04,273.9 631.04,273.77 632.06,273.65 633.11,273.53 634.18,273.43 635.28,273.32 636.41,273.23 637.57,273.14 638.77,273.07 640,273 640.85,272.96 641.74,272.91 642.66,272.85 643.61,272.8 644.59,272.74 645.6,272.68 646.63,272.62 647.67,272.56 648.74,272.5 649.81,272.44 650.9,272.39 652,272.34 653.1,272.29 654.21,272.25 655.31,272.22 656.41,272.19 657.51,272.17 658.6,272.16 659.68,272.16 660.74,272.17 661.79,272.19 662.81,272.22 663.82,272.26 664.8,272.32 665.75,272.39 666.67,272.48 667.56,272.58 668.41,272.7 669.23,272.84 670,273 671.44,273.37 672.75,273.81 673.96,274.31 675.08,274.87 676.11,275.48 677.08,276.14 678,276.83 678.87,277.55 679.72,278.3 680.56,279.07 681.39,279.86 682.24,280.65 683.12,281.44 684.03,282.23 685,283 686.01,283.79 687.04,284.62 688.08,285.48 689.13,286.36 690.19,287.27 691.24,288.19 692.29,289.12 693.33,290.04 694.36,290.97 695.37,291.87 696.36,292.76 697.32,293.63 698.25,294.46 699.15,295.25 700,296 701.2,297.1 702.32,298.2 703.37,299.29 704.36,300.34 705.31,301.33 706.24,302.25 707.16,303.06 708.08,303.76 709.02,304.31 710,304.7 710.98,304.92 711.92,304.98 712.84,304.91 713.76,304.72 714.69,304.43 715.64,304.05 716.63,303.6 717.68,303.1 718.8,302.56 720,302 720.87,301.61 721.79,301.18 722.76,300.72 723.77,300.24 724.81,299.73 725.88,299.19 726.96,298.62 728.04,298.03 729.12,297.43 730.19,296.8 731.23,296.15 732.24,295.48 733.21,294.8 734.13,294.11 735,293.4 736.19,292.27 737.29,291.03 738.3,289.7 739.26,288.33 740.19,286.94 741.1,285.55 742.01,284.19 742.95,282.89 743.94,281.69 745,280.6 745.97,279.76 747.02,278.94 748.14,278.16 749.3,277.4 750.47,276.68 751.62,276 752.75,275.36 753.81,274.78 754.8,274.24 755.67,273.77 756.41,273.35 757,273" fill="none" stroke="#ea561c" stroke-width="2.5" stroke-linejoin="round" />
</g>
<line x1="342" y1="341.5" x2="758" y2="341.5" stroke="#1a8a1a" stroke-width="1" shape-rendering="crispEdges"/>
<rect x="342.5" y="263.5" width="415" height="79" fill="none" stroke="#000" stroke-width="1" shape-rendering="crispEdges"/>
<line x1="342" y1="264.5" x2="758" y2="264.5" stroke="#6a6a6a" stroke-width="1" shape-rendering="crispEdges"/>
<text x="337.4" y="270.5" font-size="11.2" fill="#000" stroke="#000" stroke-width="0.25" text-anchor="end" textLength="5.8" lengthAdjust="spacingAndGlyphs" >5</text>
<line x1="342" y1="266.5" x2="345" y2="266.5" stroke="#000" stroke-width="1" shape-rendering="crispEdges"/>
<text x="337.4" y="285.5" font-size="11.2" fill="#000" stroke="#000" stroke-width="0.25" text-anchor="end" textLength="5.8" lengthAdjust="spacingAndGlyphs" >4</text>
<line x1="342" y1="281.5" x2="345" y2="281.5" stroke="#000" stroke-width="1" shape-rendering="crispEdges"/>
<text x="337.4" y="300.5" font-size="11.2" fill="#000" stroke="#000" stroke-width="0.25" text-anchor="end" textLength="5.8" lengthAdjust="spacingAndGlyphs" >3</text>
<line x1="342" y1="296.5" x2="345" y2="296.5" stroke="#000" stroke-width="1" shape-rendering="crispEdges"/>
<text x="337.4" y="315.5" font-size="11.2" fill="#000" stroke="#000" stroke-width="0.25" text-anchor="end" textLength="5.8" lengthAdjust="spacingAndGlyphs" >2</text>
<line x1="342" y1="311.5" x2="345" y2="311.5" stroke="#000" stroke-width="1" shape-rendering="crispEdges"/>
<text x="337.4" y="330.5" font-size="11.2" fill="#000" stroke="#000" stroke-width="0.25" text-anchor="end" textLength="5.8" lengthAdjust="spacingAndGlyphs" >1</text>
<line x1="342" y1="326.5" x2="345" y2="326.5" stroke="#000" stroke-width="1" shape-rendering="crispEdges"/>
<text x="337.4" y="346" font-size="11.2" fill="#000" stroke="#000" stroke-width="0.25" text-anchor="end" textLength="5.8" lengthAdjust="spacingAndGlyphs" >0</text>
<line x1="342" y1="342" x2="345" y2="342" stroke="#000" stroke-width="1" shape-rendering="crispEdges"/>
<text x="770.3" y="270.5" font-size="11.2" fill="#ea5a1e" stroke="#ea5a1e" stroke-width="0.25" text-anchor="middle" textLength="17.4" lengthAdjust="spacingAndGlyphs" >100</text>
<text x="770.3" y="285.5" font-size="11.2" fill="#ea5a1e" stroke="#ea5a1e" stroke-width="0.25" text-anchor="middle" textLength="11.6" lengthAdjust="spacingAndGlyphs" >90</text>
<text x="770.3" y="300.5" font-size="11.2" fill="#ea5a1e" stroke="#ea5a1e" stroke-width="0.25" text-anchor="middle" textLength="11.6" lengthAdjust="spacingAndGlyphs" >80</text>
<text x="770.3" y="315.5" font-size="11.2" fill="#ea5a1e" stroke="#ea5a1e" stroke-width="0.25" text-anchor="middle" textLength="11.6" lengthAdjust="spacingAndGlyphs" >70</text>
<text x="770.3" y="330.5" font-size="11.2" fill="#ea5a1e" stroke="#ea5a1e" stroke-width="0.25" text-anchor="middle" textLength="11.6" lengthAdjust="spacingAndGlyphs" >60</text>
<text x="770.3" y="346" font-size="11.2" fill="#ea5a1e" stroke="#ea5a1e" stroke-width="0.25" text-anchor="middle" textLength="11.6" lengthAdjust="spacingAndGlyphs" >50</text>
<text x="292.5" y="301.5" font-size="12" fill="#1a1aa0" stroke="#1a1aa0" stroke-width="0.25" text-anchor="middle" textLength="34" lengthAdjust="spacingAndGlyphs" transform="rotate(-90 292.5 301.5)" >opad</text>
<text x="306" y="305" font-size="12" fill="#1a1aa0" stroke="#1a1aa0" stroke-width="0.25" text-anchor="middle" textLength="84" lengthAdjust="spacingAndGlyphs" transform="rotate(-90 306 305)" >(mm/h, kg/m²/h)</text>
<text x="802.5" y="305" font-size="12" fill="#1a1aa0" stroke="#1a1aa0" stroke-width="0.25" text-anchor="middle" textLength="17" lengthAdjust="spacingAndGlyphs" transform="rotate(-90 802.5 305)" >(%)</text>
<text x="816" y="306" font-size="12" fill="#1a1aa0" stroke="#1a1aa0" stroke-width="0.25" text-anchor="middle" textLength="86" lengthAdjust="spacingAndGlyphs" transform="rotate(-90 816 306)" >wilgotność wzgl.</text>
<rect x="342" y="350" width="416" height="78" fill="#ffffff" />
<rect x="407" y="350" width="92" height="78" fill="#e9e9e9" />
<rect x="575" y="350" width="93" height="78" fill="#e9e9e9" />
<rect x="745" y="350" width="13" height="78" fill="#e9e9e9" />
<defs><clipPath id="pclip"><polygon points="342,359.3 342.55,359.28 343.2,359.25 343.94,359.21 344.75,359.16 345.64,359.11 346.59,359.06 347.6,359 348.66,358.94 349.75,358.89 350.88,358.84 352.02,358.79 353.19,358.76 354.35,358.73 355.52,358.71 356.68,358.71 357.81,358.72 358.92,358.75 360,358.8 360.95,358.86 361.92,358.93 362.89,359.02 363.87,359.11 364.86,359.22 365.85,359.34 366.85,359.46 367.86,359.59 368.86,359.73 369.88,359.88 370.89,360.02 371.9,360.18 372.92,360.33 373.94,360.49 374.95,360.64 375.97,360.8 376.98,360.95 377.99,361.11 379,361.26 380,361.4 381,361.54 382,361.68 383,361.82 384,361.97 385,362.11 386,362.25 387,362.39 388,362.54 389,362.68 390,362.83 391,362.98 392,363.14 393,363.29 394,363.45 395,363.61 396,363.78 397,363.95 398,364.13 399,364.31 400,364.5 401,364.69 402,364.89 403,365.09 404,365.3 405,365.51 406,365.73 407,365.94 408,366.17 409,366.39 410,366.62 411,366.85 412,367.08 413,367.32 414,367.55 415,367.79 416,368.03 417,368.27 418,368.52 419,368.76 420,369 421,369.25 422,369.5 423,369.75 424,370.01 425,370.28 426,370.54 427,370.81 428,371.08 429,371.35 430,371.62 431,371.9 432,372.17 433,372.43 434,372.7 435,372.96 436,373.22 437,373.47 438,373.72 439,373.96 440,374.2 441,374.43 442,374.65 443,374.87 444,375.09 445,375.3 446,375.51 447,375.72 448,375.92 449,376.12 450,376.32 451,376.52 452,376.71 453,376.91 454,377.1 455,377.3 456,377.5 457,377.7 458,377.89 459,378.1 460,378.3 461,378.51 462,378.74 463,378.98 464,379.23 465,379.48 466,379.74 467,380 468,380.26 469,380.52 470,380.77 471,381.01 472,381.24 473,381.46 474,381.66 475,381.85 476,382.01 477,382.15 478,382.26 479,382.35 480,382.4 481,382.42 482,382.41 483,382.37 484,382.31 485,382.22 486,382.11 487,381.98 488,381.84 489,381.68 490,381.51 491,381.34 492,381.15 493,380.97 494,380.78 495,380.6 496,380.42 497,380.25 498,380.09 499,379.94 500,379.8 501,379.67 502,379.54 503,379.41 504,379.28 505,379.15 506,379.01 507,378.88 508,378.75 509,378.62 510,378.49 511,378.36 512,378.23 513,378.1 514,377.98 515,377.86 516,377.74 517,377.63 518,377.51 519,377.4 520,377.3 521,377.2 522,377.09 523,376.99 524,376.88 525,376.77 526,376.67 527,376.57 528,376.47 529,376.37 530,376.27 531,376.19 532,376.1 533,376.02 534,375.95 535,375.89 536,375.83 537,375.79 538,375.75 539,375.72 540,375.7 541,375.7 542,375.71 543,375.74 544,375.78 545,375.84 546,375.9 547,375.97 548,376.05 549,376.13 550,376.22 551,376.3 552,376.39 553,376.47 554,376.55 555,376.62 556,376.68 557,376.73 558,376.77 559,376.79 560,376.8 561,376.8 562,376.78 563,376.76 564,376.73 565,376.69 566,376.64 567,376.59 568,376.54 569,376.48 570,376.41 571,376.34 572,376.27 573,376.2 574,376.13 575,376.05 576,375.98 577,375.91 578,375.84 579,375.77 580,375.7 581.01,375.63 582.02,375.56 583.05,375.49 584.08,375.42 585.12,375.34 586.16,375.26 587.2,375.18 588.24,375.1 589.28,375.02 590.31,374.94 591.34,374.86 592.36,374.78 593.37,374.7 594.37,374.63 595.35,374.55 596.32,374.47 597.27,374.4 598.2,374.33 599.11,374.26 600,374.2 601.12,374.11 602.17,374.01 603.16,373.91 604.1,373.81 605,373.7 605.88,373.6 606.75,373.5 607.63,373.41 608.52,373.32 609.44,373.26 610.41,373.2 611.44,373.17 612.54,373.15 613.72,373.16 615,373.2 615.82,373.24 616.68,373.3 617.57,373.37 618.49,373.46 619.44,373.56 620.42,373.67 621.42,373.79 622.43,373.92 623.47,374.05 624.52,374.19 625.58,374.33 626.65,374.47 627.73,374.61 628.8,374.76 629.88,374.89 630.95,375.02 632.02,375.15 633.08,375.26 634.13,375.37 635.16,375.46 636.17,375.54 637.17,375.61 638.14,375.66 639.08,375.69 640,375.7 641.11,375.69 642.2,375.65 643.27,375.6 644.32,375.52 645.35,375.43 646.37,375.32 647.37,375.2 648.36,375.06 649.34,374.92 650.31,374.77 651.28,374.61 652.24,374.45 653.2,374.28 654.16,374.11 655.12,373.95 656.08,373.79 657.05,373.63 658.02,373.48 659.01,373.33 660,373.2 661,373.07 662,372.94 663,372.8 664,372.66 665,372.52 666,372.38 667,372.23 668,372.09 669,371.95 670,371.81 671,371.67 672,371.53 673,371.4 674,371.27 675,371.14 676,371.02 677,370.9 678,370.8 679,370.69 680,370.6 681,370.51 682,370.43 683,370.35 684,370.28 685,370.21 686,370.15 687,370.09 688,370.04 689,369.99 690,369.94 691,369.89 692,369.85 693,369.81 694,369.78 695,369.74 696,369.71 697,369.68 698,369.65 699,369.63 700,369.6 701,369.58 702,369.56 703,369.56 704,369.55 705,369.55 706,369.56 707,369.57 708,369.58 709,369.59 710,369.6 711,369.61 712,369.62 713,369.63 714,369.64 715,369.65 716,369.65 717,369.64 718,369.64 719,369.62 720,369.6 721,369.57 722.01,369.55 723.03,369.51 724.05,369.48 725.07,369.45 726.09,369.41 727.12,369.37 728.14,369.32 729.17,369.28 730.19,369.23 731.2,369.18 732.22,369.13 733.22,369.07 734.22,369.01 735.21,368.95 736.19,368.89 737.16,368.82 738.12,368.75 739.07,368.68 740,368.6 741.11,368.5 742.24,368.39 743.4,368.27 744.57,368.14 745.74,368 746.91,367.86 748.06,367.71 749.19,367.56 750.3,367.41 751.36,367.27 752.38,367.13 753.34,367 754.23,366.87 755.06,366.76 755.8,366.66 756.45,366.57 757,366.5 757,428 342,428"/></clipPath></defs>
<g clip-path="url(#pclip)">
<rect x="342" y="350" width="23" height="78" fill="#ff1800" />
<rect x="365" y="350" width="5" height="78" fill="#ff2600" />
<rect x="370" y="350" width="41" height="78" fill="#ff3a00" />
<rect x="411" y="350" width="10" height="78" fill="#ff5000" />
<rect x="421" y="350" width="21" height="78" fill="#ff6400" />
<rect x="442" y="350" width="13" height="78" fill="#ff7000" />
<rect x="455" y="350" width="15" height="78" fill="#ff8600" />
<rect x="470" y="350" width="30" height="78" fill="#ff9000" />
<rect x="500" y="350" width="4" height="78" fill="#ff8600" />
<rect x="504" y="350" width="21" height="78" fill="#ff7800" />
<rect x="525" y="350" width="25" height="78" fill="#ff6a00" />
<rect x="550" y="350" width="10" height="78" fill="#ff7400" />
<rect x="560" y="350" width="30" height="78" fill="#ff8a00" />
<rect x="590" y="350" width="30" height="78" fill="#ff7400" />
<rect x="620" y="350" width="40" height="78" fill="#ff6a00" />
<rect x="660" y="350" width="90" height="78" fill="#ff6600" />
<rect x="750" y="350" width="8" height="78" fill="#ff3200" />
<path d="M360 380 Q 420 420 470 430" stroke="#ffffff" stroke-width="14" fill="none" opacity="0.06"/>
</g>
<line x1="356.5" y1="350" x2="356.5" y2="428" stroke="#000" stroke-width="1" stroke-dasharray="2,2" shape-rendering="crispEdges"/>
<line x1="377.5" y1="350" x2="377.5" y2="428" stroke="#000" stroke-width="1" stroke-dasharray="2,2" shape-rendering="crispEdges"/>
<line x1="398.5" y1="350" x2="398.5" y2="428" stroke="#000" stroke-width="1" stroke-dasharray="2,2" shape-rendering="crispEdges"/>
<line x1="419.5" y1="350" x2="419.5" y2="428" stroke="#000" stroke-width="1" stroke-dasharray="2,2" shape-rendering="crispEdges"/>
<line x1="440.5" y1="350" x2="440.5" y2="428" stroke="#000" stroke-width="1" stroke-dasharray="2,2" shape-rendering="crispEdges"/>
<line x1="462.5" y1="350" x2="462.5" y2="428" stroke="#000" stroke-width="1" stroke-dasharray="2,2" shape-rendering="crispEdges"/>
<line x1="483.5" y1="350" x2="483.5" y2="428" stroke="#000" stroke-width="1" stroke-dasharray="2,2" shape-rendering="crispEdges"/>
<line x1="504.5" y1="350" x2="504.5" y2="428" stroke="#000" stroke-width="1" stroke-dasharray="2,2" shape-rendering="crispEdges"/>
<line x1="525.5" y1="350" x2="525.5" y2="428" stroke="#000" stroke-width="1" stroke-dasharray="2,2" shape-rendering="crispEdges"/>
<line x1="546.5" y1="350" x2="546.5" y2="428" stroke="#000" stroke-width="1" stroke-dasharray="2,2" shape-rendering="crispEdges"/>
<line x1="567.5" y1="350" x2="567.5" y2="428" stroke="#000" stroke-width="1" stroke-dasharray="2,2" shape-rendering="crispEdges"/>
<line x1="588.5" y1="350" x2="588.5" y2="428" stroke="#000" stroke-width="1" stroke-dasharray="2,2" shape-rendering="crispEdges"/>
<line x1="609.5" y1="350" x2="609.5" y2="428" stroke="#000" stroke-width="1" stroke-dasharray="2,2" shape-rendering="crispEdges"/>
<line x1="630.5" y1="350" x2="630.5" y2="428" stroke="#000" stroke-width="1" stroke-dasharray="2,2" shape-rendering="crispEdges"/>
<line x1="652.5" y1="350" x2="652.5" y2="428" stroke="#000" stroke-width="1" stroke-dasharray="2,2" shape-rendering="crispEdges"/>
<line x1="673.5" y1="350" x2="673.5" y2="428" stroke="#000" stroke-width="1" stroke-dasharray="2,2" shape-rendering="crispEdges"/>
<line x1="694.5" y1="350" x2="694.5" y2="428" stroke="#000" stroke-width="1" stroke-dasharray="2,2" shape-rendering="crispEdges"/>
<line x1="715.5" y1="350" x2="715.5" y2="428" stroke="#000" stroke-width="1" stroke-dasharray="2,2" shape-rendering="crispEdges"/>
<line x1="736.5" y1="350" x2="736.5" y2="428" stroke="#000" stroke-width="1" stroke-dasharray="2,2" shape-rendering="crispEdges"/>
<line x1="342" y1="367.5" x2="758" y2="367.5" stroke="#000" stroke-width="1" stroke-dasharray="2,2" shape-rendering="crispEdges"/>
<line x1="342" y1="387.5" x2="758" y2="387.5" stroke="#000" stroke-width="1" stroke-dasharray="2,2" shape-rendering="crispEdges"/>
<line x1="342" y1="408.5" x2="758" y2="408.5" stroke="#000" stroke-width="1" stroke-dasharray="2,2" shape-rendering="crispEdges"/>
<polyline points="342,359.3 342.55,359.28 343.2,359.25 343.94,359.21 344.75,359.16 345.64,359.11 346.59,359.06 347.6,359 348.66,358.94 349.75,358.89 350.88,358.84 352.02,358.79 353.19,358.76 354.35,358.73 355.52,358.71 356.68,358.71 357.81,358.72 358.92,358.75 360,358.8 360.95,358.86 361.92,358.93 362.89,359.02 363.87,359.11 364.86,359.22 365.85,359.34 366.85,359.46 367.86,359.59 368.86,359.73 369.88,359.88 370.89,360.02 371.9,360.18 372.92,360.33 373.94,360.49 374.95,360.64 375.97,360.8 376.98,360.95 377.99,361.11 379,361.26 380,361.4 381,361.54 382,361.68 383,361.82 384,361.97 385,362.11 386,362.25 387,362.39 388,362.54 389,362.68 390,362.83 391,362.98 392,363.14 393,363.29 394,363.45 395,363.61 396,363.78 397,363.95 398,364.13 399,364.31 400,364.5 401,364.69 402,364.89 403,365.09 404,365.3 405,365.51 406,365.73 407,365.94 408,366.17 409,366.39 410,366.62 411,366.85 412,367.08 413,367.32 414,367.55 415,367.79 416,368.03 417,368.27 418,368.52 419,368.76 420,369 421,369.25 422,369.5 423,369.75 424,370.01 425,370.28 426,370.54 427,370.81 428,371.08 429,371.35 430,371.62 431,371.9 432,372.17 433,372.43 434,372.7 435,372.96 436,373.22 437,373.47 438,373.72 439,373.96 440,374.2 441,374.43 442,374.65 443,374.87 444,375.09 445,375.3 446,375.51 447,375.72 448,375.92 449,376.12 450,376.32 451,376.52 452,376.71 453,376.91 454,377.1 455,377.3 456,377.5 457,377.7 458,377.89 459,378.1 460,378.3 461,378.51 462,378.74 463,378.98 464,379.23 465,379.48 466,379.74 467,380 468,380.26 469,380.52 470,380.77 471,381.01 472,381.24 473,381.46 474,381.66 475,381.85 476,382.01 477,382.15 478,382.26 479,382.35 480,382.4 481,382.42 482,382.41 483,382.37 484,382.31 485,382.22 486,382.11 487,381.98 488,381.84 489,381.68 490,381.51 491,381.34 492,381.15 493,380.97 494,380.78 495,380.6 496,380.42 497,380.25 498,380.09 499,379.94 500,379.8 501,379.67 502,379.54 503,379.41 504,379.28 505,379.15 506,379.01 507,378.88 508,378.75 509,378.62 510,378.49 511,378.36 512,378.23 513,378.1 514,377.98 515,377.86 516,377.74 517,377.63 518,377.51 519,377.4 520,377.3 521,377.2 522,377.09 523,376.99 524,376.88 525,376.77 526,376.67 527,376.57 528,376.47 529,376.37 530,376.27 531,376.19 532,376.1 533,376.02 534,375.95 535,375.89 536,375.83 537,375.79 538,375.75 539,375.72 540,375.7 541,375.7 542,375.71 543,375.74 544,375.78 545,375.84 546,375.9 547,375.97 548,376.05 549,376.13 550,376.22 551,376.3 552,376.39 553,376.47 554,376.55 555,376.62 556,376.68 557,376.73 558,376.77 559,376.79 560,376.8 561,376.8 562,376.78 563,376.76 564,376.73 565,376.69 566,376.64 567,376.59 568,376.54 569,376.48 570,376.41 571,376.34 572,376.27 573,376.2 574,376.13 575,376.05 576,375.98 577,375.91 578,375.84 579,375.77 580,375.7 581.01,375.63 582.02,375.56 583.05,375.49 584.08,375.42 585.12,375.34 586.16,375.26 587.2,375.18 588.24,375.1 589.28,375.02 590.31,374.94 591.34,374.86 592.36,374.78 593.37,374.7 594.37,374.63 595.35,374.55 596.32,374.47 597.27,374.4 598.2,374.33 599.11,374.26 600,374.2 601.12,374.11 602.17,374.01 603.16,373.91 604.1,373.81 605,373.7 605.88,373.6 606.75,373.5 607.63,373.41 608.52,373.32 609.44,373.26 610.41,373.2 611.44,373.17 612.54,373.15 613.72,373.16 615,373.2 615.82,373.24 616.68,373.3 617.57,373.37 618.49,373.46 619.44,373.56 620.42,373.67 621.42,373.79 622.43,373.92 623.47,374.05 624.52,374.19 625.58,374.33 626.65,374.47 627.73,374.61 628.8,374.76 629.88,374.89 630.95,375.02 632.02,375.15 633.08,375.26 634.13,375.37 635.16,375.46 636.17,375.54 637.17,375.61 638.14,375.66 639.08,375.69 640,375.7 641.11,375.69 642.2,375.65 643.27,375.6 644.32,375.52 645.35,375.43 646.37,375.32 647.37,375.2 648.36,375.06 649.34,374.92 650.31,374.77 651.28,374.61 652.24,374.45 653.2,374.28 654.16,374.11 655.12,373.95 656.08,373.79 657.05,373.63 658.02,373.48 659.01,373.33 660,373.2 661,373.07 662,372.94 663,372.8 664,372.66 665,372.52 666,372.38 667,372.23 668,372.09 669,371.95 670,371.81 671,371.67 672,371.53 673,371.4 674,371.27 675,371.14 676,371.02 677,370.9 678,370.8 679,370.69 680,370.6 681,370.51 682,370.43 683,370.35 684,370.28 685,370.21 686,370.15 687,370.09 688,370.04 689,369.99 690,369.94 691,369.89 692,369.85 693,369.81 694,369.78 695,369.74 696,369.71 697,369.68 698,369.65 699,369.63 700,369.6 701,369.58 702,369.56 703,369.56 704,369.55 705,369.55 706,369.56 707,369.57 708,369.58 709,369.59 710,369.6 711,369.61 712,369.62 713,369.63 714,369.64 715,369.65 716,369.65 717,369.64 718,369.64 719,369.62 720,369.6 721,369.57 722.01,369.55 723.03,369.51 724.05,369.48 725.07,369.45 726.09,369.41 727.12,369.37 728.14,369.32 729.17,369.28 730.19,369.23 731.2,369.18 732.22,369.13 733.22,369.07 734.22,369.01 735.21,368.95 736.19,368.89 737.16,368.82 738.12,368.75 739.07,368.68 740,368.6 741.11,368.5 742.24,368.39 743.4,368.27 744.57,368.14 745.74,368 746.91,367.86 748.06,367.71 749.19,367.56 750.3,367.41 751.36,367.27 752.38,367.13 753.34,367 754.23,366.87 755.06,366.76 755.8,366.66 756.45,366.57 757,366.5" fill="none" stroke="#000" stroke-width="2" stroke-linejoin="round" />
<rect x="342.5" y="350.5" width="415" height="78" fill="none" stroke="#000" stroke-width="1" shape-rendering="crispEdges"/>
<line x1="342" y1="351.5" x2="758" y2="351.5" stroke="#6a6a6a" stroke-width="1" shape-rendering="crispEdges"/>
<text x="337.4" y="371.5" font-size="11.2" fill="#000" stroke="#000" stroke-width="0.25" text-anchor="end" textLength="23.2" lengthAdjust="spacingAndGlyphs" >1025</text>
<line x1="342" y1="367.5" x2="345" y2="367.5" stroke="#000" stroke-width="1" shape-rendering="crispEdges"/>
<text x="337.4" y="391.5" font-size="11.2" fill="#000" stroke="#000" stroke-width="0.25" text-anchor="end" textLength="23.2" lengthAdjust="spacingAndGlyphs" >1020</text>
<line x1="342" y1="387.5" x2="345" y2="387.5" stroke="#000" stroke-width="1" shape-rendering="crispEdges"/>
<text x="337.4" y="412.5" font-size="11.2" fill="#000" stroke="#000" stroke-width="0.25" text-anchor="end" textLength="23.2" lengthAdjust="spacingAndGlyphs" >1015</text>
<line x1="342" y1="408.5" x2="345" y2="408.5" stroke="#000" stroke-width="1" shape-rendering="crispEdges"/>
<text x="337.4" y="432" font-size="11.2" fill="#000" stroke="#000" stroke-width="0.25" text-anchor="end" textLength="23.2" lengthAdjust="spacingAndGlyphs" >1010</text>
<line x1="342" y1="428" x2="345" y2="428" stroke="#000" stroke-width="1" shape-rendering="crispEdges"/>
<text x="762" y="371.5" font-size="11.2" fill="#000" stroke="#000" stroke-width="0.25" textLength="17.4" lengthAdjust="spacingAndGlyphs" >769</text>
<text x="762" y="392" font-size="11.2" fill="#000" stroke="#000" stroke-width="0.25" textLength="17.4" lengthAdjust="spacingAndGlyphs" >765</text>
<text x="762" y="412.5" font-size="11.2" fill="#000" stroke="#000" stroke-width="0.25" textLength="17.4" lengthAdjust="spacingAndGlyphs" >761</text>
<text x="762" y="433" font-size="11.2" fill="#000" stroke="#000" stroke-width="0.25" textLength="17.4" lengthAdjust="spacingAndGlyphs" >758</text>
<text x="292.5" y="392.5" font-size="12" fill="#1a1aa0" stroke="#1a1aa0" stroke-width="0.25" text-anchor="middle" textLength="50" lengthAdjust="spacingAndGlyphs" transform="rotate(-90 292.5 392.5)" >ciśnienie</text>
<text x="306" y="393" font-size="12" fill="#1a1aa0" stroke="#1a1aa0" stroke-width="0.25" text-anchor="middle" textLength="27" lengthAdjust="spacingAndGlyphs" transform="rotate(-90 306 393)" >(hPa)</text>
<text x="802.5" y="392" font-size="12" fill="#1a1aa0" stroke="#1a1aa0" stroke-width="0.25" text-anchor="middle" textLength="47" lengthAdjust="spacingAndGlyphs" transform="rotate(-90 802.5 392)" >(mm Hg)</text>
<text x="816" y="392.5" font-size="12" fill="#1a1aa0" stroke="#1a1aa0" stroke-width="0.25" text-anchor="middle" textLength="50" lengthAdjust="spacingAndGlyphs" transform="rotate(-90 816 392.5)" >ciśnienie</text>
<rect x="342" y="437" width="416" height="78" fill="#ffffff" />
<rect x="407" y="437" width="92" height="78" fill="#e9e9e9" />
<rect x="575" y="437" width="93" height="78" fill="#e9e9e9" />
<rect x="745" y="437" width="13" height="78" fill="#e9e9e9" />
<defs><clipPath id="wclip"><polygon points="342,511 342.62,510.82 343.46,510.6 344.46,510.34 345.56,510.04 346.72,509.69 347.88,509.31 348.99,508.88 350,508.4 351.05,507.72 352.07,506.89 353.07,505.97 354.05,505.05 355.03,504.19 356.01,503.49 357,503 358,502.77 359,502.76 360,502.88 361,503.08 362,503.29 363,503.46 364,503.5 365,503.47 366,503.43 367,503.38 368,503.27 369,503.11 370,502.86 371,502.5 372,501.96 373,501.24 374,500.41 375,499.56 376,498.77 377,498.12 378,497.7 379.01,497.54 380.03,497.57 381.05,497.74 382.07,497.99 383.07,498.26 384.05,498.48 385,498.6 386.05,498.6 387.04,498.53 388,498.42 388.96,498.33 389.95,498.31 391,498.4 391.95,498.62 392.93,498.96 393.93,499.37 394.95,499.8 395.97,500.18 396.99,500.46 398,500.6 398.99,500.57 399.97,500.43 400.95,500.2 401.93,499.91 402.93,499.6 403.95,499.28 405,499 405.91,498.76 406.79,498.51 407.66,498.25 408.56,497.98 409.52,497.72 410.55,497.46 411.71,497.22 413,497 413.82,496.89 414.69,496.78 415.6,496.69 416.56,496.6 417.56,496.51 418.58,496.43 419.62,496.35 420.69,496.27 421.75,496.19 422.83,496.1 423.89,496.01 424.95,495.92 425.99,495.81 427,495.7 427.99,495.57 428.96,495.43 429.91,495.28 430.85,495.11 431.8,494.94 432.74,494.77 433.69,494.6 434.65,494.43 435.63,494.27 436.64,494.12 437.67,493.99 438.74,493.87 439.85,493.77 441,493.7 441.89,493.66 442.83,493.65 443.81,493.64 444.83,493.65 445.87,493.67 446.94,493.7 448.02,493.74 449.11,493.78 450.2,493.83 451.3,493.87 452.38,493.92 453.45,493.96 454.49,494 455.52,494.03 456.5,494.05 457.45,494.06 458.35,494.05 459.21,494.04 460,494 461.38,493.9 462.64,493.76 463.79,493.58 464.84,493.39 465.81,493.18 466.72,492.95 467.58,492.71 468.4,492.47 469.2,492.23 470,492 471.22,491.64 472.26,491.29 473.19,490.93 474.07,490.53 474.99,490.06 476,489.5 476.95,488.87 477.93,488.07 478.93,487.21 479.95,486.34 480.97,485.57 481.99,484.96 483,484.6 484,484.52 485,484.67 486,484.98 487,485.39 488,485.83 489,486.26 490,486.6 491,486.94 492,487.35 493,487.77 494,488.16 495,488.45 496,488.58 497,488.5 497.92,488.13 498.74,487.51 499.53,486.71 500.37,485.84 501.34,484.99 502.53,484.24 504,483.7 504.76,483.53 505.59,483.4 506.49,483.29 507.44,483.2 508.44,483.13 509.47,483.07 510.54,483.03 511.62,483 512.72,482.97 513.82,482.95 514.92,482.93 516,482.9 517.06,482.87 518.08,482.83 519.07,482.77 520,482.7 521.1,482.59 522.16,482.45 523.18,482.3 524.19,482.14 525.17,481.97 526.14,481.8 527.11,481.64 528.06,481.49 529.02,481.35 529.99,481.24 530.97,481.16 531.98,481.11 533,481.1 533.98,481.14 535,481.22 536.04,481.34 537.1,481.5 538.17,481.68 539.24,481.87 540.31,482.07 541.37,482.27 542.4,482.46 543.41,482.63 544.38,482.78 545.31,482.9 546.18,482.97 547,483 548.27,482.91 549.38,482.69 550.35,482.37 551.25,482.01 552.12,481.65 553,481.35 553.95,481.15 555,481.1 555.92,481.17 556.87,481.31 557.85,481.51 558.86,481.75 559.88,482.04 560.9,482.35 561.94,482.68 562.97,483.02 563.99,483.37 565,483.7 566,484.06 567,484.48 568,484.93 569,485.4 570,485.88 571,486.33 572,486.75 573,487.11 574,487.4 575,487.6 576,487.72 576.98,487.78 577.97,487.78 578.95,487.74 579.94,487.65 580.93,487.52 581.93,487.34 582.94,487.13 583.96,486.88 585,486.6 585.97,486.26 586.97,485.82 587.98,485.29 589.01,484.7 590.05,484.1 591.08,483.5 592.11,482.94 593.12,482.45 594.11,482.06 595.07,481.8 596,481.7 597.08,481.81 598.12,482.12 599.11,482.6 600.08,483.19 601.04,483.86 602,484.56 602.97,485.25 603.97,485.87 605,486.4 605.89,486.82 606.7,487.26 607.45,487.69 608.21,488.12 609,488.53 609.87,488.92 610.87,489.26 612.02,489.57 613.39,489.82 615,490 615.73,490.05 616.51,490.09 617.33,490.12 618.21,490.13 619.12,490.13 620.07,490.12 621.05,490.1 622.06,490.08 623.1,490.04 624.16,490 625.24,489.96 626.33,489.91 627.43,489.86 628.53,489.81 629.64,489.76 630.75,489.7 631.85,489.65 632.94,489.6 634.02,489.55 635.08,489.51 636.12,489.47 637.14,489.44 638.13,489.42 639.08,489.41 640,489.4 641.12,489.41 642.25,489.42 643.37,489.45 644.48,489.48 645.59,489.53 646.68,489.57 647.77,489.62 648.84,489.68 649.9,489.73 650.94,489.79 651.96,489.84 652.96,489.89 653.94,489.93 654.89,489.97 655.82,490 656.72,490.03 657.59,490.04 658.43,490.04 659.23,490.03 660,490 661.36,489.91 662.48,489.79 663.42,489.63 664.24,489.44 665,489.24 665.76,489.01 666.58,488.77 667.52,488.52 668.64,488.26 670,488 670.78,487.87 671.62,487.73 672.51,487.59 673.44,487.44 674.41,487.29 675.42,487.14 676.46,486.98 677.52,486.83 678.6,486.66 679.69,486.5 680.78,486.33 681.88,486.17 682.97,486 684.05,485.83 685.12,485.66 686.16,485.48 687.18,485.31 688.16,485.14 689.1,484.97 690,484.8 691.16,484.57 692.29,484.34 693.4,484.12 694.49,483.88 695.56,483.65 696.6,483.42 697.62,483.18 698.62,482.94 699.6,482.7 700.56,482.46 701.49,482.21 702.4,481.96 703.29,481.71 704.16,481.46 705,481.2 706.2,480.79 707.32,480.35 708.37,479.88 709.36,479.41 710.31,478.94 711.24,478.48 712.16,478.04 713.08,477.64 714.02,477.29 715,477 716,476.75 717,476.54 718,476.35 719,476.19 720,476.07 721,475.98 722,475.93 723,475.91 724,475.94 725,476 726,476.1 727,476.22 728,476.38 729,476.57 730,476.81 731,477.08 732,477.41 733,477.78 734,478.21 735,478.7 735.99,479.29 736.97,480.02 737.94,480.83 738.9,481.71 739.88,482.62 740.86,483.52 741.85,484.38 742.87,485.17 743.92,485.85 745,486.4 745.97,486.75 747.02,487.04 748.14,487.27 749.3,487.44 750.47,487.58 751.62,487.68 752.75,487.76 753.81,487.81 754.8,487.86 755.67,487.9 756.41,487.94 757,488 757,515 342,515"/></clipPath></defs>
<g clip-path="url(#wclip)">
<rect x="342" y="437" width="15" height="78" fill="#00e8ff" />
<rect x="357" y="437" width="21" height="78" fill="#00bfff" />
<rect x="378" y="437" width="20" height="78" fill="#0a78f0" />
<rect x="398" y="437" width="7" height="78" fill="#00bfff" />
<rect x="405" y="437" width="29" height="78" fill="#0a78f0" />
<rect x="434" y="437" width="41.5" height="78" fill="#0a3f8a" />
<rect x="475.5" y="437" width="28.1" height="78" fill="#0a7a0a" />
<rect x="503.6" y="437" width="64.4" height="78" fill="#10c810" />
<rect x="568" y="437" width="20" height="78" fill="#0a7a0a" />
<rect x="588" y="437" width="14" height="78" fill="#20d820" />
<rect x="602" y="437" width="14" height="78" fill="#0a7a0a" />
<rect x="616" y="437" width="28" height="78" fill="#0a4a90" />
<rect x="644" y="437" width="14" height="78" fill="#0a7a0a" />
<rect x="658" y="437" width="14" height="78" fill="#0a4a90" />
<rect x="672" y="437" width="23" height="78" fill="#0a7a0a" />
<rect x="695" y="437" width="13" height="78" fill="#10c810" />
<rect x="708" y="437" width="22" height="78" fill="#40ee30" />
<rect x="730" y="437" width="28" height="78" fill="#0a7a0a" />
</g>
<line x1="356.5" y1="437" x2="356.5" y2="515" stroke="#000" stroke-width="1" stroke-dasharray="2,2" shape-rendering="crispEdges"/>
<line x1="377.5" y1="437" x2="377.5" y2="515" stroke="#000" stroke-width="1" stroke-dasharray="2,2" shape-rendering="crispEdges"/>
<line x1="398.5" y1="437" x2="398.5" y2="515" stroke="#000" stroke-width="1" stroke-dasharray="2,2" shape-rendering="crispEdges"/>
<line x1="419.5" y1="437" x2="419.5" y2="515" stroke="#000" stroke-width="1" stroke-dasharray="2,2" shape-rendering="crispEdges"/>
<line x1="440.5" y1="437" x2="440.5" y2="515" stroke="#000" stroke-width="1" stroke-dasharray="2,2" shape-rendering="crispEdges"/>
<line x1="462.5" y1="437" x2="462.5" y2="515" stroke="#000" stroke-width="1" stroke-dasharray="2,2" shape-rendering="crispEdges"/>
<line x1="483.5" y1="437" x2="483.5" y2="515" stroke="#000" stroke-width="1" stroke-dasharray="2,2" shape-rendering="crispEdges"/>
<line x1="504.5" y1="437" x2="504.5" y2="515" stroke="#000" stroke-width="1" stroke-dasharray="2,2" shape-rendering="crispEdges"/>
<line x1="525.5" y1="437" x2="525.5" y2="515" stroke="#000" stroke-width="1" stroke-dasharray="2,2" shape-rendering="crispEdges"/>
<line x1="546.5" y1="437" x2="546.5" y2="515" stroke="#000" stroke-width="1" stroke-dasharray="2,2" shape-rendering="crispEdges"/>
<line x1="567.5" y1="437" x2="567.5" y2="515" stroke="#000" stroke-width="1" stroke-dasharray="2,2" shape-rendering="crispEdges"/>
<line x1="588.5" y1="437" x2="588.5" y2="515" stroke="#000" stroke-width="1" stroke-dasharray="2,2" shape-rendering="crispEdges"/>
<line x1="609.5" y1="437" x2="609.5" y2="515" stroke="#000" stroke-width="1" stroke-dasharray="2,2" shape-rendering="crispEdges"/>
<line x1="630.5" y1="437" x2="630.5" y2="515" stroke="#000" stroke-width="1" stroke-dasharray="2,2" shape-rendering="crispEdges"/>
<line x1="652.5" y1="437" x2="652.5" y2="515" stroke="#000" stroke-width="1" stroke-dasharray="2,2" shape-rendering="crispEdges"/>
<line x1="673.5" y1="437" x2="673.5" y2="515" stroke="#000" stroke-width="1" stroke-dasharray="2,2" shape-rendering="crispEdges"/>
<line x1="694.5" y1="437" x2="694.5" y2="515" stroke="#000" stroke-width="1" stroke-dasharray="2,2" shape-rendering="crispEdges"/>
<line x1="715.5" y1="437" x2="715.5" y2="515" stroke="#000" stroke-width="1" stroke-dasharray="2,2" shape-rendering="crispEdges"/>
<line x1="736.5" y1="437" x2="736.5" y2="515" stroke="#000" stroke-width="1" stroke-dasharray="2,2" shape-rendering="crispEdges"/>
<line x1="342" y1="463.5" x2="758" y2="463.5" stroke="#000" stroke-width="1" stroke-dasharray="2,2" shape-rendering="crispEdges"/>
<line x1="342" y1="489.5" x2="758" y2="489.5" stroke="#000" stroke-width="1" stroke-dasharray="2,2" shape-rendering="crispEdges"/>
<polyline points="342,511 342.62,510.82 343.46,510.6 344.46,510.34 345.56,510.04 346.72,509.69 347.88,509.31 348.99,508.88 350,508.4 351.05,507.72 352.07,506.89 353.07,505.97 354.05,505.05 355.03,504.19 356.01,503.49 357,503 358,502.77 359,502.76 360,502.88 361,503.08 362,503.29 363,503.46 364,503.5 365,503.47 366,503.43 367,503.38 368,503.27 369,503.11 370,502.86 371,502.5 372,501.96 373,501.24 374,500.41 375,499.56 376,498.77 377,498.12 378,497.7 379.01,497.54 380.03,497.57 381.05,497.74 382.07,497.99 383.07,498.26 384.05,498.48 385,498.6 386.05,498.6 387.04,498.53 388,498.42 388.96,498.33 389.95,498.31 391,498.4 391.95,498.62 392.93,498.96 393.93,499.37 394.95,499.8 395.97,500.18 396.99,500.46 398,500.6 398.99,500.57 399.97,500.43 400.95,500.2 401.93,499.91 402.93,499.6 403.95,499.28 405,499 405.91,498.76 406.79,498.51 407.66,498.25 408.56,497.98 409.52,497.72 410.55,497.46 411.71,497.22 413,497 413.82,496.89 414.69,496.78 415.6,496.69 416.56,496.6 417.56,496.51 418.58,496.43 419.62,496.35 420.69,496.27 421.75,496.19 422.83,496.1 423.89,496.01 424.95,495.92 425.99,495.81 427,495.7 427.99,495.57 428.96,495.43 429.91,495.28 430.85,495.11 431.8,494.94 432.74,494.77 433.69,494.6 434.65,494.43 435.63,494.27 436.64,494.12 437.67,493.99 438.74,493.87 439.85,493.77 441,493.7 441.89,493.66 442.83,493.65 443.81,493.64 444.83,493.65 445.87,493.67 446.94,493.7 448.02,493.74 449.11,493.78 450.2,493.83 451.3,493.87 452.38,493.92 453.45,493.96 454.49,494 455.52,494.03 456.5,494.05 457.45,494.06 458.35,494.05 459.21,494.04 460,494 461.38,493.9 462.64,493.76 463.79,493.58 464.84,493.39 465.81,493.18 466.72,492.95 467.58,492.71 468.4,492.47 469.2,492.23 470,492 471.22,491.64 472.26,491.29 473.19,490.93 474.07,490.53 474.99,490.06 476,489.5 476.95,488.87 477.93,488.07 478.93,487.21 479.95,486.34 480.97,485.57 481.99,484.96 483,484.6 484,484.52 485,484.67 486,484.98 487,485.39 488,485.83 489,486.26 490,486.6 491,486.94 492,487.35 493,487.77 494,488.16 495,488.45 496,488.58 497,488.5 497.92,488.13 498.74,487.51 499.53,486.71 500.37,485.84 501.34,484.99 502.53,484.24 504,483.7 504.76,483.53 505.59,483.4 506.49,483.29 507.44,483.2 508.44,483.13 509.47,483.07 510.54,483.03 511.62,483 512.72,482.97 513.82,482.95 514.92,482.93 516,482.9 517.06,482.87 518.08,482.83 519.07,482.77 520,482.7 521.1,482.59 522.16,482.45 523.18,482.3 524.19,482.14 525.17,481.97 526.14,481.8 527.11,481.64 528.06,481.49 529.02,481.35 529.99,481.24 530.97,481.16 531.98,481.11 533,481.1 533.98,481.14 535,481.22 536.04,481.34 537.1,481.5 538.17,481.68 539.24,481.87 540.31,482.07 541.37,482.27 542.4,482.46 543.41,482.63 544.38,482.78 545.31,482.9 546.18,482.97 547,483 548.27,482.91 549.38,482.69 550.35,482.37 551.25,482.01 552.12,481.65 553,481.35 553.95,481.15 555,481.1 555.92,481.17 556.87,481.31 557.85,481.51 558.86,481.75 559.88,482.04 560.9,482.35 561.94,482.68 562.97,483.02 563.99,483.37 565,483.7 566,484.06 567,484.48 568,484.93 569,485.4 570,485.88 571,486.33 572,486.75 573,487.11 574,487.4 575,487.6 576,487.72 576.98,487.78 577.97,487.78 578.95,487.74 579.94,487.65 580.93,487.52 581.93,487.34 582.94,487.13 583.96,486.88 585,486.6 585.97,486.26 586.97,485.82 587.98,485.29 589.01,484.7 590.05,484.1 591.08,483.5 592.11,482.94 593.12,482.45 594.11,482.06 595.07,481.8 596,481.7 597.08,481.81 598.12,482.12 599.11,482.6 600.08,483.19 601.04,483.86 602,484.56 602.97,485.25 603.97,485.87 605,486.4 605.89,486.82 606.7,487.26 607.45,487.69 608.21,488.12 609,488.53 609.87,488.92 610.87,489.26 612.02,489.57 613.39,489.82 615,490 615.73,490.05 616.51,490.09 617.33,490.12 618.21,490.13 619.12,490.13 620.07,490.12 621.05,490.1 622.06,490.08 623.1,490.04 624.16,490 625.24,489.96 626.33,489.91 627.43,489.86 628.53,489.81 629.64,489.76 630.75,489.7 631.85,489.65 632.94,489.6 634.02,489.55 635.08,489.51 636.12,489.47 637.14,489.44 638.13,489.42 639.08,489.41 640,489.4 641.12,489.41 642.25,489.42 643.37,489.45 644.48,489.48 645.59,489.53 646.68,489.57 647.77,489.62 648.84,489.68 649.9,489.73 650.94,489.79 651.96,489.84 652.96,489.89 653.94,489.93 654.89,489.97 655.82,490 656.72,490.03 657.59,490.04 658.43,490.04 659.23,490.03 660,490 661.36,489.91 662.48,489.79 663.42,489.63 664.24,489.44 665,489.24 665.76,489.01 666.58,488.77 667.52,488.52 668.64,488.26 670,488 670.78,487.87 671.62,487.73 672.51,487.59 673.44,487.44 674.41,487.29 675.42,487.14 676.46,486.98 677.52,486.83 678.6,486.66 679.69,486.5 680.78,486.33 681.88,486.17 682.97,486 684.05,485.83 685.12,485.66 686.16,485.48 687.18,485.31 688.16,485.14 689.1,484.97 690,484.8 691.16,484.57 692.29,484.34 693.4,484.12 694.49,483.88 695.56,483.65 696.6,483.42 697.62,483.18 698.62,482.94 699.6,482.7 700.56,482.46 701.49,482.21 702.4,481.96 703.29,481.71 704.16,481.46 705,481.2 706.2,480.79 707.32,480.35 708.37,479.88 709.36,479.41 710.31,478.94 711.24,478.48 712.16,478.04 713.08,477.64 714.02,477.29 715,477 716,476.75 717,476.54 718,476.35 719,476.19 720,476.07 721,475.98 722,475.93 723,475.91 724,475.94 725,476 726,476.1 727,476.22 728,476.38 729,476.57 730,476.81 731,477.08 732,477.41 733,477.78 734,478.21 735,478.7 735.99,479.29 736.97,480.02 737.94,480.83 738.9,481.71 739.88,482.62 740.86,483.52 741.85,484.38 742.87,485.17 743.92,485.85 745,486.4 745.97,486.75 747.02,487.04 748.14,487.27 749.3,487.44 750.47,487.58 751.62,487.68 752.75,487.76 753.81,487.81 754.8,487.86 755.67,487.9 756.41,487.94 757,488" fill="none" stroke="#10108c" stroke-width="2.5" stroke-linejoin="round" />
<line x1="343" y1="500.4" x2="349" y2="500.4" stroke="#e81010" stroke-width="1.2" />
<line x1="349" y1="493.4" x2="356" y2="493.4" stroke="#e81010" stroke-width="1.2" />
<line x1="357" y1="492.3" x2="362" y2="492.3" stroke="#e81010" stroke-width="1.2" />
<line x1="363" y1="491.2" x2="370" y2="491.2" stroke="#e81010" stroke-width="1.2" />
<line x1="371" y1="482.5" x2="377" y2="482.5" stroke="#e81010" stroke-width="1.2" />
<line x1="378" y1="481.6" x2="383" y2="481.6" stroke="#e81010" stroke-width="1.2" />
<line x1="384" y1="482.5" x2="390" y2="482.5" stroke="#e81010" stroke-width="1.2" />
<line x1="391" y1="483.3" x2="397" y2="483.3" stroke="#e81010" stroke-width="1.2" />
<line x1="398" y1="485.3" x2="404" y2="485.3" stroke="#e81010" stroke-width="1.2" />
<line x1="405" y1="480.2" x2="412" y2="480.2" stroke="#e81010" stroke-width="1.2" />
<line x1="413" y1="476.2" x2="419" y2="476.2" stroke="#e81010" stroke-width="1.2" />
<line x1="420" y1="476.5" x2="426" y2="476.5" stroke="#e81010" stroke-width="1.2" />
<line x1="427" y1="477.3" x2="433" y2="477.3" stroke="#e81010" stroke-width="1.2" />
<line x1="434" y1="475.3" x2="440" y2="475.3" stroke="#e81010" stroke-width="1.2" />
<line x1="441" y1="473.3" x2="454" y2="473.3" stroke="#e81010" stroke-width="1.2" />
<line x1="455" y1="474.5" x2="461" y2="474.5" stroke="#e81010" stroke-width="1.2" />
<line x1="462" y1="472.3" x2="469" y2="472.3" stroke="#e81010" stroke-width="1.2" />
<line x1="470" y1="466.5" x2="476" y2="466.5" stroke="#e81010" stroke-width="1.2" />
<line x1="476" y1="458.7" x2="482" y2="458.7" stroke="#e81010" stroke-width="1.2" />
<line x1="483" y1="459.5" x2="489" y2="459.5" stroke="#e81010" stroke-width="1.2" />
<line x1="490" y1="460.4" x2="497" y2="460.4" stroke="#e81010" stroke-width="1.2" />
<line x1="497" y1="452.6" x2="504" y2="452.6" stroke="#e81010" stroke-width="1.2" />
<line x1="505" y1="452.6" x2="511" y2="452.6" stroke="#e81010" stroke-width="1.2" />
<line x1="512" y1="453.4" x2="518" y2="453.4" stroke="#e81010" stroke-width="1.2" />
<line x1="519" y1="452.6" x2="525" y2="452.6" stroke="#e81010" stroke-width="1.2" />
<line x1="526" y1="450.3" x2="546" y2="450.3" stroke="#e81010" stroke-width="1.2" />
<line x1="547" y1="447.6" x2="553" y2="447.6" stroke="#e81010" stroke-width="1.2" />
<line x1="554" y1="449.3" x2="560" y2="449.3" stroke="#e81010" stroke-width="1.2" />
<line x1="561" y1="452.4" x2="567" y2="452.4" stroke="#e81010" stroke-width="1.2" />
<line x1="568" y1="461.2" x2="574" y2="461.2" stroke="#e81010" stroke-width="1.2" />
<line x1="575" y1="464.3" x2="581" y2="464.3" stroke="#e81010" stroke-width="1.2" />
<line x1="582" y1="459.3" x2="588" y2="459.3" stroke="#e81010" stroke-width="1.2" />
<line x1="589" y1="448.5" x2="595" y2="448.5" stroke="#e81010" stroke-width="1.2" />
<line x1="596" y1="451" x2="602" y2="451" stroke="#e81010" stroke-width="1.2" />
<line x1="603" y1="458" x2="610" y2="458" stroke="#e81010" stroke-width="1.2" />
<line x1="611" y1="459" x2="617" y2="459" stroke="#e81010" stroke-width="1.2" />
<line x1="618" y1="465" x2="625" y2="465" stroke="#e81010" stroke-width="1.2" />
<line x1="626" y1="466" x2="632" y2="466" stroke="#e81010" stroke-width="1.2" />
<line x1="633" y1="465" x2="639" y2="465" stroke="#e81010" stroke-width="1.2" />
<line x1="640" y1="465" x2="646" y2="465" stroke="#e81010" stroke-width="1.2" />
<line x1="647" y1="465" x2="653" y2="465" stroke="#e81010" stroke-width="1.2" />
<line x1="654" y1="465" x2="659" y2="465" stroke="#e81010" stroke-width="1.2" />
<line x1="660" y1="466" x2="671" y2="466" stroke="#e81010" stroke-width="1.2" />
<line x1="673" y1="459" x2="679" y2="459" stroke="#e81010" stroke-width="1.2" />
<line x1="681" y1="456.8" x2="687" y2="456.8" stroke="#e81010" stroke-width="1.2" />
<line x1="688" y1="453.6" x2="694" y2="453.6" stroke="#e81010" stroke-width="1.2" />
<line x1="695" y1="451.5" x2="702" y2="451.5" stroke="#e81010" stroke-width="1.2" />
<line x1="703" y1="445.6" x2="709" y2="445.6" stroke="#e81010" stroke-width="1.2" />
<line x1="710" y1="441.5" x2="716" y2="441.5" stroke="#e81010" stroke-width="1.2" />
<line x1="716" y1="440.2" x2="722" y2="440.2" stroke="#e81010" stroke-width="1.2" />
<line x1="723" y1="440.2" x2="729" y2="440.2" stroke="#e81010" stroke-width="1.2" />
<line x1="731" y1="443" x2="736" y2="443" stroke="#e81010" stroke-width="1.2" />
<line x1="741" y1="454" x2="746" y2="454" stroke="#e81010" stroke-width="1.2" />
<line x1="745" y1="464.3" x2="756" y2="464.3" stroke="#e81010" stroke-width="1.2" />
<rect x="342.5" y="437.5" width="415" height="78" fill="none" stroke="#000" stroke-width="1" shape-rendering="crispEdges"/>
<line x1="342" y1="438.5" x2="758" y2="438.5" stroke="#6a6a6a" stroke-width="1" shape-rendering="crispEdges"/>
<text x="337.4" y="442" font-size="11.2" fill="#000" stroke="#000" stroke-width="0.25" text-anchor="end" textLength="11.6" lengthAdjust="spacingAndGlyphs" >15</text>
<line x1="342" y1="438" x2="345" y2="438" stroke="#000" stroke-width="1" shape-rendering="crispEdges"/>
<text x="337.4" y="467.5" font-size="11.2" fill="#000" stroke="#000" stroke-width="0.25" text-anchor="end" textLength="11.6" lengthAdjust="spacingAndGlyphs" >10</text>
<line x1="342" y1="463.5" x2="345" y2="463.5" stroke="#000" stroke-width="1" shape-rendering="crispEdges"/>
<text x="337.4" y="493.5" font-size="11.2" fill="#000" stroke="#000" stroke-width="0.25" text-anchor="end" textLength="5.8" lengthAdjust="spacingAndGlyphs" >5</text>
<line x1="342" y1="489.5" x2="345" y2="489.5" stroke="#000" stroke-width="1" shape-rendering="crispEdges"/>
<text x="337.4" y="519" font-size="11.2" fill="#000" stroke="#000" stroke-width="0.25" text-anchor="end" textLength="5.8" lengthAdjust="spacingAndGlyphs" >0</text>
<line x1="342" y1="515" x2="345" y2="515" stroke="#000" stroke-width="1" shape-rendering="crispEdges"/>
<text x="762" y="442.5" font-size="11.2" fill="#000" stroke="#000" stroke-width="0.25" textLength="11.6" lengthAdjust="spacingAndGlyphs" >54</text>
<text x="762" y="467.5" font-size="11.2" fill="#000" stroke="#000" stroke-width="0.25" textLength="11.6" lengthAdjust="spacingAndGlyphs" >36</text>
<text x="762" y="493.5" font-size="11.2" fill="#000" stroke="#000" stroke-width="0.25" textLength="11.6" lengthAdjust="spacingAndGlyphs" >18</text>
<text x="765" y="520" font-size="11.2" fill="#000" stroke="#000" stroke-width="0.25" textLength="5.8" lengthAdjust="spacingAndGlyphs" >0</text>
<text x="292.5" y="481" font-size="12" fill="#1a1aa0" stroke="#1a1aa0" stroke-width="0.25" text-anchor="middle" textLength="27" lengthAdjust="spacingAndGlyphs" transform="rotate(-90 292.5 481)" >wiatr</text>
<text x="306" y="481" font-size="12" fill="#1a1aa0" stroke="#1a1aa0" stroke-width="0.25" text-anchor="middle" textLength="28.5" lengthAdjust="spacingAndGlyphs" transform="rotate(-90 306 481)" >(m/s)</text>
<text x="802.5" y="481" font-size="12" fill="#1a1aa0" stroke="#1a1aa0" stroke-width="0.25" text-anchor="middle" textLength="33.5" lengthAdjust="spacingAndGlyphs" transform="rotate(-90 802.5 481)" >(km/h)</text>
<text x="816" y="481.5" font-size="12" fill="#1a1aa0" stroke="#1a1aa0" stroke-width="0.25" text-anchor="middle" textLength="23" lengthAdjust="spacingAndGlyphs" transform="rotate(-90 816 481.5)" >wiatr</text>
<rect x="342" y="521" width="416" height="31" fill="#ffffff" />
<rect x="407" y="521" width="92" height="31" fill="#e9e9e9" />
<rect x="575" y="521" width="93" height="31" fill="#e9e9e9" />
<rect x="745" y="521" width="13" height="31" fill="#e9e9e9" />
<line x1="356.5" y1="521" x2="356.5" y2="552" stroke="#000" stroke-width="1" stroke-dasharray="2,2" shape-rendering="crispEdges"/>
<line x1="377.5" y1="521" x2="377.5" y2="552" stroke="#000" stroke-width="1" stroke-dasharray="2,2" shape-rendering="crispEdges"/>
<line x1="398.5" y1="521" x2="398.5" y2="552" stroke="#000" stroke-width="1" stroke-dasharray="2,2" shape-rendering="crispEdges"/>
<line x1="419.5" y1="521" x2="419.5" y2="552" stroke="#000" stroke-width="1" stroke-dasharray="2,2" shape-rendering="crispEdges"/>
<line x1="440.5" y1="521" x2="440.5" y2="552" stroke="#000" stroke-width="1" stroke-dasharray="2,2" shape-rendering="crispEdges"/>
<line x1="462.5" y1="521" x2="462.5" y2="552" stroke="#000" stroke-width="1" stroke-dasharray="2,2" shape-rendering="crispEdges"/>
<line x1="483.5" y1="521" x2="483.5" y2="552" stroke="#000" stroke-width="1" stroke-dasharray="2,2" shape-rendering="crispEdges"/>
<line x1="504.5" y1="521" x2="504.5" y2="552" stroke="#000" stroke-width="1" stroke-dasharray="2,2" shape-rendering="crispEdges"/>
<line x1="525.5" y1="521" x2="525.5" y2="552" stroke="#000" stroke-width="1" stroke-dasharray="2,2" shape-rendering="crispEdges"/>
<line x1="546.5" y1="521" x2="546.5" y2="552" stroke="#000" stroke-width="1" stroke-dasharray="2,2" shape-rendering="crispEdges"/>
<line x1="567.5" y1="521" x2="567.5" y2="552" stroke="#000" stroke-width="1" stroke-dasharray="2,2" shape-rendering="crispEdges"/>
<line x1="588.5" y1="521" x2="588.5" y2="552" stroke="#000" stroke-width="1" stroke-dasharray="2,2" shape-rendering="crispEdges"/>
<line x1="609.5" y1="521" x2="609.5" y2="552" stroke="#000" stroke-width="1" stroke-dasharray="2,2" shape-rendering="crispEdges"/>
<line x1="630.5" y1="521" x2="630.5" y2="552" stroke="#000" stroke-width="1" stroke-dasharray="2,2" shape-rendering="crispEdges"/>
<line x1="652.5" y1="521" x2="652.5" y2="552" stroke="#000" stroke-width="1" stroke-dasharray="2,2" shape-rendering="crispEdges"/>
<line x1="673.5" y1="521" x2="673.5" y2="552" stroke="#000" stroke-width="1" stroke-dasharray="2,2" shape-rendering="crispEdges"/>
<line x1="694.5" y1="521" x2="694.5" y2="552" stroke="#000" stroke-width="1" stroke-dasharray="2,2" shape-rendering="crispEdges"/>
<line x1="715.5" y1="521" x2="715.5" y2="552" stroke="#000" stroke-width="1" stroke-dasharray="2,2" shape-rendering="crispEdges"/>
<line x1="736.5" y1="521" x2="736.5" y2="552" stroke="#000" stroke-width="1" stroke-dasharray="2,2" shape-rendering="crispEdges"/>
<line x1="337.7" y1="541.07" x2="343.73" y2="535.81" stroke="#1010a0" stroke-width="1.5" />
<polygon points="347.5,532.53 345.64,538 341.82,533.63" fill="#1010a0" />
<line x1="345.62" y1="541.91" x2="350.56" y2="535.62" stroke="#1010a0" stroke-width="1.5" />
<polygon points="353.65,531.69 352.84,537.41 348.28,533.83" fill="#1010a0" />
<line x1="351.76" y1="541.06" x2="357.8" y2="535.82" stroke="#1010a0" stroke-width="1.5" />
<polygon points="361.58,532.54 359.7,538.01 355.9,533.63" fill="#1010a0" />
<line x1="359.52" y1="541.78" x2="364.67" y2="535.65" stroke="#1010a0" stroke-width="1.5" />
<polygon points="367.88,531.82 366.89,537.52 362.44,533.79" fill="#1010a0" />
<line x1="366.51" y1="541.74" x2="371.71" y2="535.66" stroke="#1010a0" stroke-width="1.5" />
<polygon points="374.96,531.86 373.92,537.54 369.51,533.78" fill="#1010a0" />
<line x1="373.16" y1="541.39" x2="378.83" y2="535.74" stroke="#1010a0" stroke-width="1.5" />
<polygon points="382.38,532.21 380.88,537.8 376.79,533.69" fill="#1010a0" />
<line x1="380.16" y1="541.35" x2="385.87" y2="535.75" stroke="#1010a0" stroke-width="1.5" />
<polygon points="389.44,532.25 387.91,537.82 383.84,533.68" fill="#1010a0" />
<line x1="387.55" y1="541.68" x2="392.83" y2="535.67" stroke="#1010a0" stroke-width="1.5" />
<polygon points="396.13,531.92 395.01,537.59 390.65,533.76" fill="#1010a0" />
<line x1="395.2" y1="542.16" x2="399.72" y2="535.56" stroke="#1010a0" stroke-width="1.5" />
<polygon points="402.54,531.44 402.11,537.2 397.33,533.92" fill="#1010a0" />
<line x1="403.23" y1="542.72" x2="406.52" y2="535.43" stroke="#1010a0" stroke-width="1.5" />
<polygon points="408.58,530.88 409.17,536.63 403.88,534.24" fill="#1010a0" />
<line x1="409.42" y1="542.26" x2="413.75" y2="535.54" stroke="#1010a0" stroke-width="1.5" />
<polygon points="416.46,531.34 416.19,537.11 411.31,533.97" fill="#1010a0" />
<line x1="416.6" y1="542.35" x2="420.75" y2="535.52" stroke="#1010a0" stroke-width="1.5" />
<polygon points="423.35,531.25 423.23,537.02 418.27,534.01" fill="#1010a0" />
<line x1="423.59" y1="542.33" x2="427.8" y2="535.52" stroke="#1010a0" stroke-width="1.5" />
<polygon points="430.43,531.27 430.26,537.05 425.33,534" fill="#1010a0" />
<line x1="429.53" y1="541.48" x2="435.08" y2="535.72" stroke="#1010a0" stroke-width="1.5" />
<polygon points="438.56,532.12 437.17,537.74 433,533.71" fill="#1010a0" />
<line x1="436.45" y1="541.37" x2="442.14" y2="535.75" stroke="#1010a0" stroke-width="1.5" />
<polygon points="445.7,532.23 444.18,537.81 440.11,533.68" fill="#1010a0" />
<line x1="442.83" y1="540.6" x2="449.33" y2="535.92" stroke="#1010a0" stroke-width="1.5" />
<polygon points="453.39,533 451.02,538.28 447.63,533.57" fill="#1010a0" />
<line x1="449.37" y1="539.79" x2="456.48" y2="536.11" stroke="#1010a0" stroke-width="1.5" />
<polygon points="460.92,533.81 457.81,538.69 455.14,533.54" fill="#1010a0" />
<line x1="455.98" y1="538.75" x2="463.61" y2="536.35" stroke="#1010a0" stroke-width="1.5" />
<polygon points="468.38,534.85 464.48,539.12 462.74,533.58" fill="#1010a0" />
<line x1="462.79" y1="537.79" x2="470.69" y2="536.57" stroke="#1010a0" stroke-width="1.5" />
<polygon points="475.64,535.81 471.14,539.44 470.25,533.7" fill="#1010a0" />
<line x1="469.75" y1="536.91" x2="477.75" y2="536.77" stroke="#1010a0" stroke-width="1.5" />
<polygon points="482.75,536.69 477.8,539.67 477.7,533.87" fill="#1010a0" />
<line x1="476.89" y1="535.63" x2="484.76" y2="537.07" stroke="#1010a0" stroke-width="1.5" />
<polygon points="489.67,537.97 484.23,539.92 485.28,534.22" fill="#1010a0" />
<line x1="484.22" y1="534.55" x2="491.72" y2="537.32" stroke="#1010a0" stroke-width="1.5" />
<polygon points="496.41,539.05 490.72,540.04 492.73,534.6" fill="#1010a0" />
<line x1="491.51" y1="533.95" x2="498.7" y2="537.46" stroke="#1010a0" stroke-width="1.5" />
<polygon points="503.19,539.65 497.42,540.06 499.97,534.85" fill="#1010a0" />
<line x1="498.57" y1="533.89" x2="505.72" y2="537.47" stroke="#1010a0" stroke-width="1.5" />
<polygon points="510.19,539.71 504.42,540.06 507.02,534.88" fill="#1010a0" />
<line x1="505.64" y1="533.82" x2="512.75" y2="537.49" stroke="#1010a0" stroke-width="1.5" />
<polygon points="517.19,539.78 511.42,540.06 514.08,534.91" fill="#1010a0" />
<line x1="512.7" y1="533.76" x2="519.78" y2="537.5" stroke="#1010a0" stroke-width="1.5" />
<polygon points="524.2,539.84 518.42,540.06 521.13,534.94" fill="#1010a0" />
<line x1="519.75" y1="533.73" x2="526.81" y2="537.51" stroke="#1010a0" stroke-width="1.5" />
<polygon points="531.22,539.87 525.44,540.06 528.17,534.95" fill="#1010a0" />
<line x1="526.8" y1="533.72" x2="533.84" y2="537.51" stroke="#1010a0" stroke-width="1.5" />
<polygon points="538.24,539.88 532.46,540.06 535.21,534.96" fill="#1010a0" />
<line x1="533.84" y1="533.7" x2="540.87" y2="537.52" stroke="#1010a0" stroke-width="1.5" />
<polygon points="545.26,539.9 539.49,540.06 542.25,534.97" fill="#1010a0" />
<line x1="540.88" y1="533.68" x2="547.9" y2="537.52" stroke="#1010a0" stroke-width="1.5" />
<polygon points="552.29,539.92 546.51,540.06 549.29,534.97" fill="#1010a0" />
<line x1="547.93" y1="533.66" x2="554.93" y2="537.52" stroke="#1010a0" stroke-width="1.5" />
<polygon points="559.31,539.94 553.54,540.06 556.33,534.98" fill="#1010a0" />
<line x1="554.97" y1="533.65" x2="561.97" y2="537.53" stroke="#1010a0" stroke-width="1.5" />
<polygon points="566.34,539.95 560.56,540.06 563.37,534.99" fill="#1010a0" />
<line x1="562.01" y1="533.63" x2="569" y2="537.53" stroke="#1010a0" stroke-width="1.5" />
<polygon points="573.36,539.97 567.58,540.06 570.41,535" fill="#1010a0" />
<line x1="569.06" y1="533.61" x2="576.03" y2="537.54" stroke="#1010a0" stroke-width="1.5" />
<polygon points="580.39,539.99 574.61,540.06 577.45,535.01" fill="#1010a0" />
<line x1="576.1" y1="533.59" x2="583.06" y2="537.54" stroke="#1010a0" stroke-width="1.5" />
<polygon points="587.41,540.01 581.63,540.06 584.49,535.02" fill="#1010a0" />
<line x1="583.15" y1="533.58" x2="590.09" y2="537.54" stroke="#1010a0" stroke-width="1.5" />
<polygon points="594.43,540.02 588.65,540.06 591.53,535.03" fill="#1010a0" />
<line x1="590.19" y1="533.56" x2="597.12" y2="537.55" stroke="#1010a0" stroke-width="1.5" />
<polygon points="601.46,540.04 595.68,540.06 598.57,535.03" fill="#1010a0" />
<line x1="597.24" y1="533.53" x2="604.15" y2="537.55" stroke="#1010a0" stroke-width="1.5" />
<polygon points="608.48,540.07 602.7,540.06 605.61,535.05" fill="#1010a0" />
<line x1="604.3" y1="533.49" x2="611.18" y2="537.56" stroke="#1010a0" stroke-width="1.5" />
<polygon points="615.49,540.11 609.71,540.06 612.66,535.07" fill="#1010a0" />
<line x1="611.36" y1="533.45" x2="618.21" y2="537.57" stroke="#1010a0" stroke-width="1.5" />
<polygon points="622.5,540.15 616.72,540.06 619.71,535.09" fill="#1010a0" />
<line x1="618.41" y1="533.41" x2="625.24" y2="537.58" stroke="#1010a0" stroke-width="1.5" />
<polygon points="629.51,540.19 623.73,540.06 626.75,535.11" fill="#1010a0" />
<line x1="625.47" y1="533.37" x2="632.27" y2="537.59" stroke="#1010a0" stroke-width="1.5" />
<polygon points="636.51,540.23 630.74,540.05 633.8,535.13" fill="#1010a0" />
<line x1="632.53" y1="533.33" x2="639.3" y2="537.6" stroke="#1010a0" stroke-width="1.5" />
<polygon points="643.52,540.27 637.75,540.05 640.84,535.15" fill="#1010a0" />
<line x1="639.59" y1="533.29" x2="646.32" y2="537.61" stroke="#1010a0" stroke-width="1.5" />
<polygon points="650.53,540.31 644.76,540.05 647.89,535.17" fill="#1010a0" />
<line x1="646.65" y1="533.25" x2="653.35" y2="537.62" stroke="#1010a0" stroke-width="1.5" />
<polygon points="657.54,540.35 651.77,540.05 654.94,535.19" fill="#1010a0" />
<line x1="653.71" y1="533.21" x2="660.38" y2="537.63" stroke="#1010a0" stroke-width="1.5" />
<polygon points="664.55,540.39 658.78,540.05 661.98,535.21" fill="#1010a0" />
<line x1="660.77" y1="533.17" x2="667.41" y2="537.64" stroke="#1010a0" stroke-width="1.5" />
<polygon points="671.55,540.43 665.79,540.04 669.03,535.23" fill="#1010a0" />
<line x1="667.83" y1="533.13" x2="674.44" y2="537.65" stroke="#1010a0" stroke-width="1.5" />
<polygon points="678.56,540.47 672.8,540.04 676.07,535.25" fill="#1010a0" />
<line x1="674.9" y1="533.09" x2="681.46" y2="537.66" stroke="#1010a0" stroke-width="1.5" />
<polygon points="685.57,540.51 679.81,540.04 683.12,535.28" fill="#1010a0" />
<line x1="681.96" y1="533.05" x2="688.49" y2="537.67" stroke="#1010a0" stroke-width="1.5" />
<polygon points="692.58,540.55 686.82,540.03 690.16,535.3" fill="#1010a0" />
<line x1="689.02" y1="533.01" x2="695.52" y2="537.67" stroke="#1010a0" stroke-width="1.5" />
<polygon points="699.58,540.59 693.83,540.03 697.21,535.32" fill="#1010a0" />
<line x1="696.08" y1="532.97" x2="702.55" y2="537.68" stroke="#1010a0" stroke-width="1.5" />
<polygon points="706.58,540.63 700.84,540.03 704.26,535.34" fill="#1010a0" />
<line x1="703.17" y1="532.9" x2="709.57" y2="537.7" stroke="#1010a0" stroke-width="1.5" />
<polygon points="713.57,540.7 707.83,540.02 711.31,535.38" fill="#1010a0" />
<line x1="710.25" y1="532.83" x2="716.59" y2="537.72" stroke="#1010a0" stroke-width="1.5" />
<polygon points="720.55,540.77 714.82,540.01 718.36,535.42" fill="#1010a0" />
<line x1="717.34" y1="532.77" x2="723.61" y2="537.73" stroke="#1010a0" stroke-width="1.5" />
<polygon points="727.53,540.83 721.81,540 725.41,535.46" fill="#1010a0" />
<line x1="724.43" y1="532.7" x2="730.63" y2="537.75" stroke="#1010a0" stroke-width="1.5" />
<polygon points="734.51,540.9 728.8,540 732.46,535.5" fill="#1010a0" />
<line x1="731.51" y1="532.64" x2="737.66" y2="537.76" stroke="#1010a0" stroke-width="1.5" />
<polygon points="741.49,540.96 735.8,539.99 739.51,535.53" fill="#1010a0" />
<line x1="738.6" y1="532.57" x2="744.68" y2="537.78" stroke="#1010a0" stroke-width="1.5" />
<polygon points="748.47,541.03 742.79,539.98 746.56,535.57" fill="#1010a0" />
<line x1="745.69" y1="532.51" x2="751.7" y2="537.79" stroke="#1010a0" stroke-width="1.5" />
<polygon points="755.45,541.09 749.78,539.97 753.61,535.61" fill="#1010a0" />
<line x1="752.78" y1="532.45" x2="758.72" y2="537.8" stroke="#1010a0" stroke-width="1.5" />
<polygon points="762.44,541.15 756.78,539.96 760.66,535.65" fill="#1010a0" />
<rect x="342.5" y="521.5" width="415" height="31" fill="none" stroke="#000" stroke-width="1" shape-rendering="crispEdges"/>
<line x1="342" y1="552.5" x2="758" y2="552.5" stroke="#6a6a6a" stroke-width="1" shape-rendering="crispEdges"/>
<text x="298" y="531" font-size="12" fill="#1a1aa0" stroke="#1a1aa0" stroke-width="0.25" text-anchor="middle" >N</text>
<text x="288.5" y="540.5" font-size="12" fill="#1a1aa0" stroke="#1a1aa0" stroke-width="0.25" text-anchor="middle" >W</text>
<text x="305" y="540.5" font-size="12" fill="#1a1aa0" stroke="#1a1aa0" stroke-width="0.25" text-anchor="middle" >E</text>
<text x="298" y="549" font-size="12" fill="#1a1aa0" stroke="#1a1aa0" stroke-width="0.25" text-anchor="middle" >S</text>
<text x="807.5" y="531" font-size="12" fill="#1a1aa0" stroke="#1a1aa0" stroke-width="0.25" text-anchor="middle" >N</text>
<text x="798" y="540.5" font-size="12" fill="#1a1aa0" stroke="#1a1aa0" stroke-width="0.25" text-anchor="middle" >W</text>
<text x="814.5" y="540.5" font-size="12" fill="#1a1aa0" stroke="#1a1aa0" stroke-width="0.25" text-anchor="middle" >E</text>
<text x="807.5" y="549" font-size="12" fill="#1a1aa0" stroke="#1a1aa0" stroke-width="0.25" text-anchor="middle" >S</text>
<rect x="342" y="557" width="416" height="79" fill="#87d1fa" />
<rect x="407" y="557" width="92" height="79" fill="#7bbeea" />
<rect x="575" y="557" width="93" height="79" fill="#7bbeea" />
<rect x="745" y="557" width="13" height="79" fill="#7bbeea" />
<line x1="356.5" y1="557" x2="356.5" y2="636" stroke="#000" stroke-width="1" stroke-dasharray="2,2" shape-rendering="crispEdges"/>
<line x1="377.5" y1="557" x2="377.5" y2="636" stroke="#000" stroke-width="1" stroke-dasharray="2,2" shape-rendering="crispEdges"/>
<line x1="398.5" y1="557" x2="398.5" y2="636" stroke="#000" stroke-width="1" stroke-dasharray="2,2" shape-rendering="crispEdges"/>
<line x1="419.5" y1="557" x2="419.5" y2="636" stroke="#000" stroke-width="1" stroke-dasharray="2,2" shape-rendering="crispEdges"/>
<line x1="440.5" y1="557" x2="440.5" y2="636" stroke="#000" stroke-width="1" stroke-dasharray="2,2" shape-rendering="crispEdges"/>
<line x1="462.5" y1="557" x2="462.5" y2="636" stroke="#000" stroke-width="1" stroke-dasharray="2,2" shape-rendering="crispEdges"/>
<line x1="483.5" y1="557" x2="483.5" y2="636" stroke="#000" stroke-width="1" stroke-dasharray="2,2" shape-rendering="crispEdges"/>
<line x1="504.5" y1="557" x2="504.5" y2="636" stroke="#000" stroke-width="1" stroke-dasharray="2,2" shape-rendering="crispEdges"/>
<line x1="525.5" y1="557" x2="525.5" y2="636" stroke="#000" stroke-width="1" stroke-dasharray="2,2" shape-rendering="crispEdges"/>
<line x1="546.5" y1="557" x2="546.5" y2="636" stroke="#000" stroke-width="1" stroke-dasharray="2,2" shape-rendering="crispEdges"/>
<line x1="567.5" y1="557" x2="567.5" y2="636" stroke="#000" stroke-width="1" stroke-dasharray="2,2" shape-rendering="crispEdges"/>
<line x1="588.5" y1="557" x2="588.5" y2="636" stroke="#000" stroke-width="1" stroke-dasharray="2,2" shape-rendering="crispEdges"/>
<line x1="609.5" y1="557" x2="609.5" y2="636" stroke="#000" stroke-width="1" stroke-dasharray="2,2" shape-rendering="crispEdges"/>
<line x1="630.5" y1="557" x2="630.5" y2="636" stroke="#000" stroke-width="1" stroke-dasharray="2,2" shape-rendering="crispEdges"/>
<line x1="652.5" y1="557" x2="652.5" y2="636" stroke="#000" stroke-width="1" stroke-dasharray="2,2" shape-rendering="crispEdges"/>
<line x1="673.5" y1="557" x2="673.5" y2="636" stroke="#000" stroke-width="1" stroke-dasharray="2,2" shape-rendering="crispEdges"/>
<line x1="694.5" y1="557" x2="694.5" y2="636" stroke="#000" stroke-width="1" stroke-dasharray="2,2" shape-rendering="crispEdges"/>
<line x1="715.5" y1="557" x2="715.5" y2="636" stroke="#000" stroke-width="1" stroke-dasharray="2,2" shape-rendering="crispEdges"/>
<line x1="736.5" y1="557" x2="736.5" y2="636" stroke="#000" stroke-width="1" stroke-dasharray="2,2" shape-rendering="crispEdges"/>
<line x1="342" y1="577.5" x2="758" y2="577.5" stroke="#000" stroke-width="1" stroke-dasharray="2,2" shape-rendering="crispEdges"/>
<line x1="342" y1="597.5" x2="758" y2="597.5" stroke="#000" stroke-width="1" stroke-dasharray="2,2" shape-rendering="crispEdges"/>
<line x1="342" y1="616.5" x2="758" y2="616.5" stroke="#000" stroke-width="1" stroke-dasharray="2,2" shape-rendering="crispEdges"/>
<defs><clipPath id="cclip"><rect x="342" y="558" width="415" height="78"/></clipPath></defs>
<g clip-path="url(#cclip)">
<polyline points="342,584.9 342.58,585.01 343.3,585.16 344.15,585.33 345.11,585.53 346.15,585.75 347.26,585.98 348.41,586.22 349.59,586.46 350.78,586.69 351.96,586.9 353.11,587.1 354.21,587.28 355.23,587.42 356.17,587.53 357,587.6 358.29,587.59 359.33,587.43 360.21,587.17 361,586.87 361.79,586.57 362.67,586.32 363.71,586.18 365,586.2 365.79,586.28 366.61,586.4 367.47,586.55 368.37,586.73 369.3,586.93 370.26,587.16 371.25,587.4 372.26,587.65 373.3,587.91 374.37,588.18 375.46,588.44 376.57,588.7 377.7,588.95 378.84,589.18 380,589.4 380.89,589.55 381.81,589.7 382.76,589.83 383.73,589.97 384.72,590.1 385.73,590.22 386.75,590.35 387.78,590.48 388.83,590.6 389.88,590.73 390.93,590.86 391.98,591 393.02,591.14 394.06,591.29 395.09,591.45 396.11,591.62 397.11,591.79 398.1,591.98 399.06,592.18 400,592.4 401.08,592.68 402.15,592.99 403.21,593.33 404.25,593.69 405.28,594.06 406.3,594.45 407.31,594.85 408.32,595.25 409.31,595.66 410.29,596.05 411.27,596.44 412.24,596.81 413.2,597.17 414.16,597.5 415.11,597.8 416.06,598.07 417,598.3 418.06,598.53 419.12,598.75 420.16,598.94 421.2,599.12 422.22,599.27 423.24,599.41 424.25,599.53 425.25,599.62 426.24,599.69 427.22,599.74 428.2,599.76 429.16,599.76 430.12,599.73 431.06,599.68 432,599.6 433.05,599.45 434.07,599.24 435.05,598.97 436.02,598.65 436.96,598.3 437.9,597.93 438.85,597.53 439.8,597.14 440.77,596.75 441.77,596.39 442.8,596.05 443.87,595.75 445,595.5 445.9,595.34 446.84,595.18 447.8,595.04 448.79,594.9 449.8,594.77 450.83,594.65 451.86,594.54 452.91,594.44 453.96,594.34 455.01,594.26 456.06,594.18 457.1,594.11 458.12,594.05 459.13,594 460.11,593.96 461.07,593.92 462,593.9 463.09,593.91 464.16,593.99 465.2,594.12 466.22,594.28 467.22,594.47 468.21,594.66 469.19,594.85 470.16,595.02 471.12,595.15 472.09,595.24 473.05,595.26 474.03,595.2 475.01,595.05 476,594.8 477.02,594.42 478.06,593.91 479.13,593.3 480.2,592.6 481.29,591.83 482.37,591.02 483.44,590.18 484.49,589.33 485.52,588.5 486.51,587.7 487.46,586.94 488.37,586.26 489.22,585.68 490,585.2 491.36,584.56 492.48,584.21 493.44,584.06 494.3,583.99 495.13,583.89 496.01,583.67 497,583.2 497.9,582.56 498.77,581.78 499.62,580.89 500.5,579.94 501.44,578.98 502.48,578.05 503.66,577.21 505,576.5 505.8,576.17 506.65,575.87 507.55,575.58 508.5,575.3 509.48,575.04 510.5,574.8 511.54,574.57 512.59,574.36 513.66,574.15 514.74,573.96 515.82,573.77 516.89,573.59 517.95,573.42 518.99,573.26 520,573.1 521,572.95 522,572.81 523,572.69 524,572.58 525,572.48 526,572.39 527,572.3 528,572.22 529,572.15 530,572.09 531,572.03 532,571.97 533,571.91 534,571.86 535,571.8 536,571.74 536.98,571.69 537.97,571.64 538.95,571.59 539.93,571.54 540.9,571.5 541.88,571.47 542.87,571.43 543.86,571.41 544.85,571.39 545.86,571.38 546.87,571.37 547.9,571.37 548.94,571.38 550,571.4 550.94,571.42 551.87,571.45 552.8,571.48 553.74,571.52 554.67,571.56 555.61,571.6 556.56,571.65 557.52,571.71 558.49,571.77 559.47,571.84 560.48,571.91 561.5,571.99 562.54,572.08 563.62,572.17 564.71,572.27 565.84,572.38 567,572.5 567.89,572.6 568.81,572.7 569.76,572.82 570.74,572.95 571.75,573.09 572.77,573.24 573.82,573.39 574.87,573.54 575.94,573.7 577.01,573.86 578.09,574.02 579.16,574.18 580.24,574.34 581.3,574.49 582.36,574.64 583.4,574.78 584.42,574.92 585.42,575.05 586.4,575.16 587.35,575.27 588.27,575.36 589.15,575.44 590,575.5 591.23,575.56 592.4,575.59 593.51,575.59 594.57,575.57 595.59,575.52 596.58,575.46 597.53,575.38 598.46,575.3 599.38,575.22 600.3,575.15 601.21,575.08 602.13,575.03 603.06,574.99 604.02,574.98 605,575 606,575.04 607,575.1 608,575.16 609,575.24 610,575.33 611,575.43 612,575.54 613,575.65 614,575.77 615,575.89 616,576.01 617,576.14 618,576.26 619,576.38 620,576.5 621.01,576.62 622.04,576.74 623.08,576.87 624.13,577 625.19,577.14 626.24,577.27 627.29,577.41 628.33,577.55 629.36,577.69 630.37,577.83 631.36,577.97 632.32,578.1 633.25,578.24 634.15,578.37 635,578.5 636.15,578.69 637.13,578.89 637.99,579.1 638.78,579.3 639.56,579.49 640.38,579.68 641.28,579.86 642.31,580.03 643.54,580.17 645,580.3 645.77,580.35 646.6,580.41 647.5,580.46 648.46,580.51 649.47,580.57 650.51,580.62 651.6,580.67 652.71,580.72 653.84,580.76 654.98,580.8 656.12,580.84 657.27,580.87 658.41,580.9 659.53,580.92 660.62,580.93 661.69,580.94 662.71,580.94 663.69,580.93 664.62,580.91 665.48,580.88 666.28,580.85 667,580.8 668.62,580.61 669.82,580.32 670.72,579.98 671.44,579.59 672.1,579.17 672.84,578.76 673.76,578.36 675,578 675.78,577.82 676.57,577.65 677.39,577.47 678.24,577.3 679.11,577.13 680.02,576.95 680.95,576.78 681.93,576.62 682.94,576.45 684,576.29 685.1,576.12 686.25,575.96 687.45,575.81 688.7,575.65 690,575.5 690.82,575.41 691.68,575.31 692.57,575.21 693.49,575.11 694.44,575.01 695.42,574.91 696.42,574.8 697.43,574.7 698.47,574.6 699.52,574.5 700.58,574.4 701.65,574.3 702.73,574.2 703.8,574.11 704.88,574.02 705.95,573.94 707.02,573.86 708.08,573.79 709.13,573.73 710.16,573.67 711.17,573.62 712.17,573.57 713.14,573.54 714.08,573.52 715,573.5 716.12,573.49 717.25,573.49 718.37,573.5 719.48,573.52 720.59,573.55 721.68,573.58 722.77,573.63 723.84,573.68 724.9,573.74 725.94,573.81 726.96,573.89 727.96,573.98 728.94,574.08 729.89,574.18 730.82,574.3 731.72,574.42 732.59,574.55 733.43,574.69 734.23,574.84 735,575 736.42,575.36 737.69,575.79 738.83,576.27 739.86,576.8 740.81,577.34 741.7,577.9 742.54,578.46 743.35,579.01 744.17,579.52 745,580 746.17,580.64 747.28,581.27 748.31,581.89 749.3,582.48 750.23,583.03 751.13,583.54 752,584 753.21,584.56 754.38,585.04 755.46,585.44 756.35,585.76 757,586" fill="none" stroke="#ff9a00" stroke-width="2.6" stroke-linejoin="round" />
<circle cx="342.7" cy="565.7" r="2.75" fill="#b01e22" />
<circle cx="349.73" cy="565.7" r="2.75" fill="#b01e22" />
<circle cx="356.77" cy="565.7" r="2.75" fill="#b01e22" />
<circle cx="363.8" cy="565.7" r="2.75" fill="#b01e22" />
<circle cx="370.83" cy="565.7" r="2.75" fill="#b01e22" />
<circle cx="377.87" cy="565.7" r="2.75" fill="#b01e22" />
<circle cx="384.9" cy="565.7" r="2.75" fill="#b01e22" />
<circle cx="391.93" cy="565.7" r="2.75" fill="#b01e22" />
<circle cx="398.96" cy="565.7" r="2.75" fill="#b01e22" />
<circle cx="406" cy="565.7" r="2.75" fill="#b01e22" />
<circle cx="413.03" cy="565.7" r="2.75" fill="#b01e22" />
<circle cx="420.06" cy="565.7" r="2.75" fill="#b01e22" />
<circle cx="427.1" cy="565.7" r="2.75" fill="#b01e22" />
<circle cx="434.13" cy="566" r="2.75" fill="#b01e22" />
<circle cx="434.13" cy="569.5" r="2.75" fill="#d4d4d4" />
<circle cx="441.16" cy="566" r="2.75" fill="#b01e22" />
<circle cx="441.16" cy="569.5" r="2.75" fill="#d4d4d4" />
<circle cx="448.19" cy="567.2" r="2.75" fill="#b01e22" />
<circle cx="448.19" cy="576.5" r="2.75" fill="#d8d8d8" />
<circle cx="448.19" cy="593.2" r="2.75" fill="#ffffff" />
<circle cx="455.23" cy="567.3" r="2.75" fill="#b01e22" />
<circle cx="462.26" cy="567.3" r="2.75" fill="#b01e22" />
<circle cx="469.29" cy="567.3" r="2.75" fill="#b01e22" />
<circle cx="476.33" cy="567.3" r="2.75" fill="#b01e22" />
<circle cx="483.36" cy="567.3" r="2.75" fill="#b01e22" />
<circle cx="490.39" cy="568.7" r="2.75" fill="#b01e22" />
<circle cx="497.43" cy="569.8" r="2.75" fill="#b01e22" />
<circle cx="546.66" cy="568.4" r="2.75" fill="#b01e22" />
<circle cx="553.69" cy="568.4" r="2.75" fill="#b01e22" />
<circle cx="560.72" cy="568.4" r="2.75" fill="#b01e22" />
<circle cx="567.76" cy="568.4" r="2.75" fill="#b01e22" />
<circle cx="602.92" cy="570" r="2.75" fill="#b01e22" />
<circle cx="638.09" cy="570" r="2.75" fill="#b01e22" />
<circle cx="645.12" cy="568.7" r="2.75" fill="#b01e22" />
<circle cx="673.25" cy="569.8" r="2.75" fill="#b01e22" />
<circle cx="680.28" cy="569.8" r="2.75" fill="#b01e22" />
<circle cx="687.32" cy="569.8" r="2.75" fill="#b01e22" />
<circle cx="694.35" cy="569.8" r="2.75" fill="#b01e22" />
<circle cx="701.38" cy="569.8" r="2.75" fill="#b01e22" />
<circle cx="708.42" cy="569.8" r="2.75" fill="#b01e22" />
<circle cx="715.45" cy="569.8" r="2.75" fill="#b01e22" />
<circle cx="722.48" cy="569.8" r="2.75" fill="#b01e22" />
<circle cx="729.51" cy="569.8" r="2.75" fill="#b01e22" />
<circle cx="736.55" cy="572" r="2.75" fill="#b01e22" />
<circle cx="342.7" cy="609.6" r="2.75" fill="#c8c8c8" />
<circle cx="342.7" cy="607.1" r="2.75" fill="#707070" />
<circle cx="342.7" cy="604.6" r="2.75" fill="#000000" />
<circle cx="349.73" cy="610.3" r="2.75" fill="#c8c8c8" />
<circle cx="349.73" cy="607.8" r="2.75" fill="#707070" />
<circle cx="349.73" cy="605.3" r="2.75" fill="#000000" />
<circle cx="356.77" cy="612" r="2.75" fill="#c8c8c8" />
<circle cx="356.77" cy="609.5" r="2.75" fill="#707070" />
<circle cx="356.77" cy="607" r="2.75" fill="#000000" />
<circle cx="363.8" cy="608.5" r="2.75" fill="#c8c8c8" />
<circle cx="363.8" cy="606" r="2.75" fill="#707070" />
<circle cx="363.8" cy="603.5" r="2.75" fill="#000000" />
<circle cx="370.83" cy="606.5" r="2.75" fill="#c8c8c8" />
<circle cx="370.83" cy="604" r="2.75" fill="#707070" />
<circle cx="370.83" cy="601.5" r="2.75" fill="#000000" />
<circle cx="384.9" cy="608.3" r="2.75" fill="#c8c8c8" />
<circle cx="384.9" cy="605.8" r="2.75" fill="#707070" />
<circle cx="384.9" cy="603.3" r="2.75" fill="#000000" />
<circle cx="391.93" cy="610.3" r="2.75" fill="#c8c8c8" />
<circle cx="391.93" cy="607.8" r="2.75" fill="#707070" />
<circle cx="391.93" cy="605.3" r="2.75" fill="#000000" />
<circle cx="398.96" cy="610.5" r="2.75" fill="#c8c8c8" />
<circle cx="398.96" cy="608" r="2.75" fill="#707070" />
<circle cx="398.96" cy="605.5" r="2.75" fill="#000000" />
<circle cx="406" cy="608.3" r="2.75" fill="#c8c8c8" />
<circle cx="406" cy="605.8" r="2.75" fill="#707070" />
<circle cx="406" cy="603.3" r="2.75" fill="#000000" />
<circle cx="413.03" cy="606.5" r="2.75" fill="#c8c8c8" />
<circle cx="413.03" cy="604" r="2.75" fill="#707070" />
<circle cx="413.03" cy="601.5" r="2.75" fill="#000000" />
<circle cx="420.06" cy="606" r="2.75" fill="#9a9a9a" />
<circle cx="420.06" cy="604" r="2.75" fill="#606060" />
<circle cx="349.73" cy="630" r="2.75" fill="#ffffff" />
<circle cx="349.73" cy="628" r="2.75" fill="#aaaaaa" />
<circle cx="356.77" cy="630" r="2.75" fill="#ffffff" />
<circle cx="356.77" cy="628.5" r="2.75" fill="#888888" />
<circle cx="363.8" cy="630" r="2.75" fill="#ffffff" />
<circle cx="363.8" cy="627.5" r="2.75" fill="#aaaaaa" />
<circle cx="370.83" cy="630" r="2.75" fill="#ffffff" />
<circle cx="370.83" cy="628.5" r="2.75" fill="#aaaaaa" />
<circle cx="391.93" cy="630" r="2.75" fill="#ffffff" />
<circle cx="391.93" cy="628" r="2.75" fill="#cccccc" />
<circle cx="342.7" cy="629.5" r="2.75" fill="#ffffff" />
<circle cx="377.87" cy="630" r="2.75" fill="#ffffff" />
<circle cx="377.87" cy="627.5" r="2.75" fill="#c6c6c6" />
<circle cx="377.87" cy="625" r="2.75" fill="#555555" />
<circle cx="384.9" cy="630" r="2.75" fill="#ffffff" />
<circle cx="384.9" cy="626.75" r="2.75" fill="#c6c6c6" />
<circle cx="384.9" cy="623.5" r="2.75" fill="#555555" />
<circle cx="398.96" cy="630" r="2.75" fill="#ffffff" />
<circle cx="406" cy="630" r="2.75" fill="#ffffff" />
<circle cx="413.03" cy="630" r="2.75" fill="#ffffff" />
<circle cx="420.06" cy="630" r="2.75" fill="#ffffff" />
<circle cx="427.1" cy="630" r="2.75" fill="#ffffff" />
<circle cx="434.13" cy="630" r="2.75" fill="#ffffff" />
<circle cx="441.16" cy="630" r="2.75" fill="#ffffff" />
<circle cx="448.19" cy="630" r="2.75" fill="#ffffff" />
<circle cx="455.23" cy="630" r="2.75" fill="#ffffff" />
<circle cx="462.26" cy="630" r="2.75" fill="#ffffff" />
<circle cx="469.29" cy="630" r="2.75" fill="#ffffff" />
<circle cx="469.29" cy="627.38" r="2.75" fill="#eeeeee" />
<circle cx="469.29" cy="624.75" r="2.75" fill="#cccccc" />
<circle cx="469.29" cy="622.12" r="2.75" fill="#9e9e9e" />
<circle cx="469.29" cy="619.5" r="2.75" fill="#666666" />
<circle cx="476.33" cy="630" r="2.75" fill="#ffffff" />
<circle cx="476.33" cy="627.33" r="2.75" fill="#e3e3e3" />
<circle cx="476.33" cy="624.65" r="2.75" fill="#aaaaaa" />
<circle cx="476.33" cy="621.97" r="2.75" fill="#5e5e5e" />
<circle cx="476.33" cy="619.3" r="2.75" fill="#000000" />
<circle cx="483.36" cy="630" r="2.75" fill="#ffffff" />
<circle cx="483.36" cy="627.17" r="2.75" fill="#d3d3d3" />
<circle cx="483.36" cy="624.33" r="2.75" fill="#797979" />
<circle cx="483.36" cy="621.5" r="2.75" fill="#000000" />
<circle cx="490.39" cy="630" r="2.75" fill="#ffffff" />
<circle cx="490.39" cy="627.17" r="2.75" fill="#d3d3d3" />
<circle cx="490.39" cy="624.33" r="2.75" fill="#797979" />
<circle cx="490.39" cy="621.5" r="2.75" fill="#000000" />
<circle cx="497.43" cy="630" r="2.75" fill="#ffffff" />
<circle cx="497.43" cy="627.33" r="2.75" fill="#e3e3e3" />
<circle cx="497.43" cy="624.65" r="2.75" fill="#aaaaaa" />
<circle cx="497.43" cy="621.97" r="2.75" fill="#5e5e5e" />
<circle cx="497.43" cy="619.3" r="2.75" fill="#000000" />
<circle cx="504.46" cy="630" r="2.75" fill="#ffffff" />
<circle cx="504.46" cy="627.5" r="2.75" fill="#d3d3d3" />
<circle cx="504.46" cy="625" r="2.75" fill="#797979" />
<circle cx="504.46" cy="622.5" r="2.75" fill="#000000" />
<circle cx="511.49" cy="630" r="2.75" fill="#ffffff" />
<circle cx="511.49" cy="627.5" r="2.75" fill="#e3e3e3" />
<circle cx="511.49" cy="625" r="2.75" fill="#aaaaaa" />
<circle cx="511.49" cy="622.5" r="2.75" fill="#5e5e5e" />
<circle cx="511.49" cy="620" r="2.75" fill="#000000" />
<circle cx="518.52" cy="630" r="2.75" fill="#ffffff" />
<circle cx="518.52" cy="627.36" r="2.75" fill="#ebebeb" />
<circle cx="518.52" cy="624.72" r="2.75" fill="#c4c4c4" />
<circle cx="518.52" cy="622.08" r="2.75" fill="#8e8e8e" />
<circle cx="518.52" cy="619.44" r="2.75" fill="#4c4c4c" />
<circle cx="518.52" cy="616.8" r="2.75" fill="#000000" />
<circle cx="525.56" cy="630" r="2.75" fill="#ffffff" />
<circle cx="525.56" cy="627.5" r="2.75" fill="#f0f0f0" />
<circle cx="525.56" cy="625" r="2.75" fill="#d3d3d3" />
<circle cx="525.56" cy="622.5" r="2.75" fill="#aaaaaa" />
<circle cx="525.56" cy="620" r="2.75" fill="#797979" />
<circle cx="525.56" cy="617.5" r="2.75" fill="#404040" />
<circle cx="525.56" cy="615" r="2.75" fill="#000000" />
<circle cx="504.46" cy="614.5" r="2.75" fill="#b01e22" />
<circle cx="511.49" cy="612.8" r="2.75" fill="#b01e22" />
<circle cx="518.52" cy="611.4" r="2.75" fill="#b01e22" />
<circle cx="525.56" cy="610" r="2.75" fill="#b01e22" />
<circle cx="532.59" cy="610" r="2.75" fill="#b01e22" />
<circle cx="539.62" cy="610" r="2.75" fill="#b01e22" />
<circle cx="532.59" cy="623.5" r="2.75" fill="#ffffff" />
<circle cx="532.59" cy="614" r="2.75" fill="#000000" />
<circle cx="539.62" cy="621.5" r="2.75" fill="#ffffff" />
<circle cx="539.62" cy="613.5" r="2.75" fill="#000000" />
<circle cx="546.66" cy="619.5" r="2.75" fill="#ffffff" />
<circle cx="546.66" cy="612.5" r="2.75" fill="#000000" />
<circle cx="553.69" cy="617" r="2.75" fill="#ffffff" />
<circle cx="553.69" cy="613.8" r="2.75" fill="#666666" />
<circle cx="560.72" cy="617" r="2.75" fill="#ffffff" />
<circle cx="560.72" cy="613.8" r="2.75" fill="#aaaaaa" />
<circle cx="567.76" cy="617" r="2.75" fill="#ffffff" />
<circle cx="567.76" cy="613.8" r="2.75" fill="#dddddd" />
<circle cx="574.79" cy="620" r="2.75" fill="#ffffff" />
<circle cx="574.79" cy="614.5" r="2.75" fill="#b01e22" />
<circle cx="581.82" cy="621" r="2.75" fill="#ffffff" />
<circle cx="588.86" cy="630" r="2.75" fill="#ffffff" />
<circle cx="588.86" cy="627.25" r="2.75" fill="#ececec" />
<circle cx="588.86" cy="624.5" r="2.75" fill="#c6c6c6" />
<circle cx="588.86" cy="621.75" r="2.75" fill="#939393" />
<circle cx="588.86" cy="619" r="2.75" fill="#555555" />
<circle cx="595.89" cy="630" r="2.75" fill="#ffffff" />
<circle cx="595.89" cy="627.5" r="2.75" fill="#e3e3e3" />
<circle cx="595.89" cy="625" r="2.75" fill="#aaaaaa" />
<circle cx="595.89" cy="622.5" r="2.75" fill="#5e5e5e" />
<circle cx="595.89" cy="620" r="2.75" fill="#000000" />
<circle cx="602.92" cy="630" r="2.75" fill="#ffffff" />
<circle cx="602.92" cy="627.38" r="2.75" fill="#e3e3e3" />
<circle cx="602.92" cy="624.75" r="2.75" fill="#aaaaaa" />
<circle cx="602.92" cy="622.12" r="2.75" fill="#5e5e5e" />
<circle cx="602.92" cy="619.5" r="2.75" fill="#000000" />
<circle cx="609.95" cy="630" r="2.75" fill="#ffffff" />
<circle cx="609.95" cy="627.17" r="2.75" fill="#d3d3d3" />
<circle cx="609.95" cy="624.33" r="2.75" fill="#797979" />
<circle cx="609.95" cy="621.5" r="2.75" fill="#000000" />
<circle cx="616.99" cy="630" r="2.75" fill="#ffffff" />
<circle cx="616.99" cy="627.17" r="2.75" fill="#d3d3d3" />
<circle cx="616.99" cy="624.33" r="2.75" fill="#797979" />
<circle cx="616.99" cy="621.5" r="2.75" fill="#000000" />
<circle cx="624.02" cy="630" r="2.75" fill="#ffffff" />
<circle cx="624.02" cy="626.75" r="2.75" fill="#cccccc" />
<circle cx="624.02" cy="623.5" r="2.75" fill="#666666" />
<circle cx="631.05" cy="630" r="2.75" fill="#ffffff" />
<circle cx="631.05" cy="627.5" r="2.75" fill="#c6c6c6" />
<circle cx="631.05" cy="625" r="2.75" fill="#555555" />
<circle cx="638.09" cy="630" r="2.75" fill="#ffffff" />
<circle cx="638.09" cy="627.5" r="2.75" fill="#cccccc" />
<circle cx="638.09" cy="625" r="2.75" fill="#666666" />
<circle cx="645.12" cy="630" r="2.75" fill="#ffffff" />
<circle cx="645.12" cy="627" r="2.75" fill="#666666" />
<circle cx="652.15" cy="630" r="2.75" fill="#ffffff" />
<circle cx="652.15" cy="627" r="2.75" fill="#555555" />
<circle cx="659.18" cy="630" r="2.75" fill="#ffffff" />
<circle cx="659.18" cy="627.5" r="2.75" fill="#666666" />
<circle cx="666.22" cy="630" r="2.75" fill="#ffffff" />
<circle cx="666.22" cy="627.5" r="2.75" fill="#666666" />
<circle cx="673.25" cy="630" r="2.75" fill="#ffffff" />
<circle cx="673.25" cy="627" r="2.75" fill="#d3d3d3" />
<circle cx="673.25" cy="624" r="2.75" fill="#797979" />
<circle cx="673.25" cy="621" r="2.75" fill="#000000" />
<circle cx="680.28" cy="630" r="2.75" fill="#ffffff" />
<circle cx="680.28" cy="626.5" r="2.75" fill="#aaaaaa" />
<circle cx="680.28" cy="623" r="2.75" fill="#000000" />
<circle cx="687.32" cy="630" r="2.75" fill="#ffffff" />
<circle cx="687.32" cy="627" r="2.75" fill="#c6c6c6" />
<circle cx="687.32" cy="624" r="2.75" fill="#555555" />
<circle cx="694.35" cy="630" r="2.75" fill="#ffffff" />
<circle cx="694.35" cy="627.38" r="2.75" fill="#ececec" />
<circle cx="694.35" cy="624.75" r="2.75" fill="#c6c6c6" />
<circle cx="694.35" cy="622.12" r="2.75" fill="#939393" />
<circle cx="694.35" cy="619.5" r="2.75" fill="#555555" />
<circle cx="588.86" cy="615" r="2.75" fill="#b01e22" />
<circle cx="595.89" cy="615" r="2.75" fill="#b01e22" />
<circle cx="609.95" cy="615.5" r="2.75" fill="#b01e22" />
<circle cx="616.99" cy="617" r="2.75" fill="#b01e22" />
<circle cx="624.02" cy="616.5" r="2.75" fill="#b01e22" />
<circle cx="631.05" cy="616.5" r="2.75" fill="#b01e22" />
<circle cx="652.15" cy="616.5" r="2.75" fill="#b01e22" />
<circle cx="659.18" cy="616.5" r="2.75" fill="#b01e22" />
<circle cx="666.22" cy="617.5" r="2.75" fill="#b01e22" />
<circle cx="701.38" cy="625" r="2.75" fill="#ffffff" />
<circle cx="701.38" cy="616" r="2.75" fill="#999999" />
<circle cx="708.42" cy="621.5" r="2.75" fill="#ffffff" />
<circle cx="708.42" cy="614.5" r="2.75" fill="#aaaaaa" />
<circle cx="715.45" cy="619" r="2.75" fill="#ffffff" />
<circle cx="715.45" cy="614" r="2.75" fill="#cccccc" />
<circle cx="722.48" cy="621" r="2.75" fill="#ffffff" />
<circle cx="722.48" cy="614.5" r="2.75" fill="#aaaaaa" />
<circle cx="729.51" cy="621" r="2.75" fill="#ffffff" />
<circle cx="729.51" cy="616" r="2.75" fill="#dddddd" />
<circle cx="736.55" cy="624.5" r="2.75" fill="#ffffff" />
<circle cx="743.58" cy="628" r="2.75" fill="#ffffff" />
<circle cx="743.58" cy="621" r="2.75" fill="#cccccc" />
<circle cx="743.58" cy="616.5" r="2.75" fill="#b01e22" />
<circle cx="750.61" cy="630" r="2.75" fill="#ffffff" />
<circle cx="750.61" cy="626" r="2.75" fill="#999999" />
<circle cx="750.61" cy="617.5" r="2.75" fill="#b01e22" />
<circle cx="757.65" cy="625" r="2.75" fill="#000000" />
<circle cx="757.65" cy="617.5" r="2.75" fill="#b01e22" />
</g>
<rect x="342.5" y="557.5" width="415" height="79" fill="none" stroke="#000" stroke-width="1" shape-rendering="crispEdges"/>
<line x1="342" y1="558.5" x2="758" y2="558.5" stroke="#6a6a6a" stroke-width="1" shape-rendering="crispEdges"/>
<text x="337.4" y="562" font-size="11.2" fill="#000" stroke="#000" stroke-width="0.25" text-anchor="end" textLength="20.3" lengthAdjust="spacingAndGlyphs" >15.0</text>
<line x1="342" y1="558" x2="345" y2="558" stroke="#000" stroke-width="1" shape-rendering="crispEdges"/>
<text x="337.4" y="581.5" font-size="11.2" fill="#000" stroke="#000" stroke-width="0.25" text-anchor="end" textLength="14.5" lengthAdjust="spacingAndGlyphs" >7.0</text>
<line x1="342" y1="577.5" x2="345" y2="577.5" stroke="#000" stroke-width="1" shape-rendering="crispEdges"/>
<text x="337.4" y="601.5" font-size="11.2" fill="#000" stroke="#000" stroke-width="0.25" text-anchor="end" textLength="14.5" lengthAdjust="spacingAndGlyphs" >2.0</text>
<line x1="342" y1="597.5" x2="345" y2="597.5" stroke="#000" stroke-width="1" shape-rendering="crispEdges"/>
<text x="337.4" y="620.5" font-size="11.2" fill="#000" stroke="#000" stroke-width="0.25" text-anchor="end" textLength="14.5" lengthAdjust="spacingAndGlyphs" >0.5</text>
<line x1="342" y1="616.5" x2="345" y2="616.5" stroke="#000" stroke-width="1" shape-rendering="crispEdges"/>
<text x="337.4" y="640" font-size="11.2" fill="#000" stroke="#000" stroke-width="0.25" text-anchor="end" textLength="14.5" lengthAdjust="spacingAndGlyphs" >0.0</text>
<line x1="342" y1="636" x2="345" y2="636" stroke="#000" stroke-width="1" shape-rendering="crispEdges"/>
<text x="762" y="562" font-size="11.2" fill="#ff8000" stroke="#ff8000" stroke-width="0.25" textLength="17.4" lengthAdjust="spacingAndGlyphs" >100</text>
<text x="762" y="582" font-size="11.2" fill="#ff8000" stroke="#ff8000" stroke-width="0.25" textLength="11.6" lengthAdjust="spacingAndGlyphs" >20</text>
<text x="762" y="601.5" font-size="11.2" fill="#ff8000" stroke="#ff8000" stroke-width="0.25" textLength="5.8" lengthAdjust="spacingAndGlyphs" >5</text>
<text x="762" y="621" font-size="11.2" fill="#ff8000" stroke="#ff8000" stroke-width="0.25" textLength="5.8" lengthAdjust="spacingAndGlyphs" >1</text>
<text x="762" y="640.5" font-size="11.2" fill="#ff8000" stroke="#ff8000" stroke-width="0.25" textLength="5.8" lengthAdjust="spacingAndGlyphs" >0</text>
<text x="762" y="650.5" font-size="11.2" fill="#ff8000" stroke="#ff8000" stroke-width="0.25" textLength="5.8" lengthAdjust="spacingAndGlyphs" >1</text>
<text x="292.5" y="595" font-size="12" fill="#1a1aa0" stroke="#1a1aa0" stroke-width="0.25" text-anchor="middle" textLength="102" lengthAdjust="spacingAndGlyphs" transform="rotate(-90 292.5 595)" >pion. rozciągł. chm.</text>
<text x="306" y="594" font-size="12" fill="#1a1aa0" stroke="#1a1aa0" stroke-width="0.25" text-anchor="middle" textLength="22.5" lengthAdjust="spacingAndGlyphs" transform="rotate(-90 306 594)" >(km)</text>
<text x="802.5" y="594" font-size="12" fill="#1a1aa0" stroke="#1a1aa0" stroke-width="0.25" text-anchor="middle" textLength="22.5" lengthAdjust="spacingAndGlyphs" transform="rotate(-90 802.5 594)" >(km)</text>
<text x="816" y="594.5" font-size="12" fill="#1a1aa0" stroke="#1a1aa0" stroke-width="0.25" text-anchor="middle" textLength="62.5" lengthAdjust="spacingAndGlyphs" transform="rotate(-90 816 594.5)" >widzialność</text>
<text x="292.5" y="658" font-size="12" fill="#1a1aa0" stroke="#1a1aa0" stroke-width="0.25" text-anchor="middle" transform="rotate(-90 292.5 658)" >e</text>
<rect x="342" y="645" width="416" height="15" fill="#87d1fa" />
<rect x="407" y="645" width="92" height="15" fill="#7bbeea" />
<rect x="575" y="645" width="93" height="15" fill="#7bbeea" />
<rect x="745" y="645" width="13" height="15" fill="#7bbeea" />
<polygon points="343,661 343,651 349,646.5 357,646.5 365,650 372,657 376,661" fill="#555555" />
<polygon points="374,661 385,650 392,646.5 400,647 406,652 412,661" fill="#555555" />
<polygon points="472,661 475,648 477,645.5 483,645.5 490,661" fill="#555555" />
<polygon points="496,661 501,646 530,646 538,652 545,661" fill="#555555" />
<polygon points="594,661 598,653 612,651 614,661" fill="#555555" />
<polygon points="650,661 655,656 663,654 672,651.5 678,653 686,661" fill="#555555" />
<line x1="356.5" y1="645" x2="356.5" y2="661" stroke="#000" stroke-width="1" stroke-dasharray="2,2" shape-rendering="crispEdges"/>
<line x1="377.5" y1="645" x2="377.5" y2="661" stroke="#000" stroke-width="1" stroke-dasharray="2,2" shape-rendering="crispEdges"/>
<line x1="398.5" y1="645" x2="398.5" y2="661" stroke="#000" stroke-width="1" stroke-dasharray="2,2" shape-rendering="crispEdges"/>
<line x1="419.5" y1="645" x2="419.5" y2="661" stroke="#000" stroke-width="1" stroke-dasharray="2,2" shape-rendering="crispEdges"/>
<line x1="440.5" y1="645" x2="440.5" y2="661" stroke="#000" stroke-width="1" stroke-dasharray="2,2" shape-rendering="crispEdges"/>
<line x1="462.5" y1="645" x2="462.5" y2="661" stroke="#000" stroke-width="1" stroke-dasharray="2,2" shape-rendering="crispEdges"/>
<line x1="483.5" y1="645" x2="483.5" y2="661" stroke="#000" stroke-width="1" stroke-dasharray="2,2" shape-rendering="crispEdges"/>
<line x1="504.5" y1="645" x2="504.5" y2="661" stroke="#000" stroke-width="1" stroke-dasharray="2,2" shape-rendering="crispEdges"/>
<line x1="525.5" y1="645" x2="525.5" y2="661" stroke="#000" stroke-width="1" stroke-dasharray="2,2" shape-rendering="crispEdges"/>
<line x1="546.5" y1="645" x2="546.5" y2="661" stroke="#000" stroke-width="1" stroke-dasharray="2,2" shape-rendering="crispEdges"/>
<line x1="567.5" y1="645" x2="567.5" y2="661" stroke="#000" stroke-width="1" stroke-dasharray="2,2" shape-rendering="crispEdges"/>
<line x1="588.5" y1="645" x2="588.5" y2="661" stroke="#000" stroke-width="1" stroke-dasharray="2,2" shape-rendering="crispEdges"/>
<line x1="609.5" y1="645" x2="609.5" y2="661" stroke="#000" stroke-width="1" stroke-dasharray="2,2" shape-rendering="crispEdges"/>
<line x1="630.5" y1="645" x2="630.5" y2="661" stroke="#000" stroke-width="1" stroke-dasharray="2,2" shape-rendering="crispEdges"/>
<line x1="652.5" y1="645" x2="652.5" y2="661" stroke="#000" stroke-width="1" stroke-dasharray="2,2" shape-rendering="crispEdges"/>
<line x1="673.5" y1="645" x2="673.5" y2="661" stroke="#000" stroke-width="1" stroke-dasharray="2,2" shape-rendering="crispEdges"/>
<line x1="694.5" y1="645" x2="694.5" y2="661" stroke="#000" stroke-width="1" stroke-dasharray="2,2" shape-rendering="crispEdges"/>
<line x1="715.5" y1="645" x2="715.5" y2="661" stroke="#000" stroke-width="1" stroke-dasharray="2,2" shape-rendering="crispEdges"/>
<line x1="736.5" y1="645" x2="736.5" y2="661" stroke="#000" stroke-width="1" stroke-dasharray="2,2" shape-rendering="crispEdges"/>
<path d="M342.5 661 V645.5 H757.5 V661" fill="none" stroke="#000" stroke-width="1" shape-rendering="crispEdges"/>
<line x1="342" y1="646.5" x2="758" y2="646.5" stroke="#6a6a6a" stroke-width="1" shape-rendering="crispEdges"/>
<text x="337.4" y="649.5" font-size="11.2" fill="#000" stroke="#000" stroke-width="0.25" text-anchor="end" textLength="5.8" lengthAdjust="spacingAndGlyphs" >8</text>
<rect x="170" y="30" width="62" height="599" fill="#eef3fd" />
<text x="164" y="52.3" font-size="11.5" fill="#000" stroke="#000" stroke-width="0.25" text-anchor="middle" >20</text>
<text x="204" y="52.3" font-size="11.5" fill="#000" stroke="#000" stroke-width="0.25" text-anchor="middle" >02</text>
<text x="244" y="52.3" font-size="11.5" fill="#000" stroke="#000" stroke-width="0.25" text-anchor="middle" >08</text>
<text x="6" y="18.6" font-size="10.6" fill="#000" stroke="#000" stroke-width="0.25" textLength="59" lengthAdjust="spacingAndGlyphs" >Czas lokalny</text>
<text x="6" y="30.2" font-size="10.6" fill="#000" stroke="#000" stroke-width="0.25" textLength="54" lengthAdjust="spacingAndGlyphs" letter-spacing="1">(CET/CEST)</text>
<polyline points="68,16.5 133,16.5 155,43.5" fill="none" stroke="#000" stroke-width="1" stroke-linejoin="round" stroke-linecap="square"/>
<text x="6" y="46.6" font-size="10.6" fill="#b01e1e" stroke="#b01e1e" stroke-width="0.25" textLength="93" lengthAdjust="spacingAndGlyphs" >Temperatura gruntu</text>
<text x="27.7" y="56.3" font-size="10.6" fill="#b01e1e" stroke="#b01e1e" stroke-width="0.25" textLength="38.5" lengthAdjust="spacingAndGlyphs" >max/min</text>
<text x="6" y="68.3" font-size="10.6" fill="#000" stroke="#000" stroke-width="0.25" textLength="61.4" lengthAdjust="spacingAndGlyphs" >Temperatura:</text>
<text x="12.8" y="80.4" font-size="10.6" fill="#ff0000" stroke="#ff0000" stroke-width="0.25" textLength="76.8" lengthAdjust="spacingAndGlyphs" >punkt środkowy</text>
<text x="27.7" y="90.2" font-size="10.6" fill="#ffc4b4" stroke="#ffc4b4" stroke-width="0.25" textLength="38" lengthAdjust="spacingAndGlyphs" >max/min</text>
<text x="9.9" y="102.3" font-size="10.6" fill="#0000ff" stroke="#0000ff" stroke-width="0.25" textLength="57" lengthAdjust="spacingAndGlyphs" >odczuwana</text>
<text x="27.7" y="112" font-size="10.6" fill="#a8d8fc" stroke="#a8d8fc" stroke-width="0.25" textLength="38" lengthAdjust="spacingAndGlyphs" >max/min</text>
<text x="6.5" y="124" font-size="10.6" fill="#6a5acd" stroke="#6a5acd" stroke-width="0.25" textLength="85.5" lengthAdjust="spacingAndGlyphs" >Temp. punktu rosy</text>
<rect x="135.5" y="57" width="110" height="76" fill="#ffffff" />
<rect x="170" y="57" width="62" height="76" fill="#eef3fd" />
<rect x="135.5" y="111.5" width="110" height="21.5" fill="#87d1fa" />
<rect x="170" y="111.5" width="62" height="21.5" fill="#7ab8ea" />
<defs><clipPath id="ltclip"><rect x="136" y="58" width="109" height="75"/></clipPath></defs><g clip-path="url(#ltclip)">
<polygon points="136,98 150,101 163,105 170,108 190,112 246,112 246,122 240,128 232,133 217,131 196,129.5 170,114 136,112" fill="#b0defc" />
<polygon points="136,85 150,91 163,99 175,105 200,107.5 230,108 246,104 246,118 240,122 232,129 217,126.7 196,123 170,113 163,110 150,104 136,102" fill="#ffe4da" />
</g>
<line x1="142.5" y1="57" x2="142.5" y2="133" stroke="#000" stroke-width="1" stroke-dasharray="2,2" shape-rendering="crispEdges"/>
<line x1="163.5" y1="57" x2="163.5" y2="133" stroke="#000" stroke-width="1" stroke-dasharray="2,2" shape-rendering="crispEdges"/>
<line x1="184.5" y1="57" x2="184.5" y2="133" stroke="#000" stroke-width="1" stroke-dasharray="2,2" shape-rendering="crispEdges"/>
<line x1="205.5" y1="57" x2="205.5" y2="133" stroke="#000" stroke-width="1" stroke-dasharray="2,2" shape-rendering="crispEdges"/>
<line x1="226.5" y1="57" x2="226.5" y2="133" stroke="#000" stroke-width="1" stroke-dasharray="2,2" shape-rendering="crispEdges"/>
<line x1="135.5" y1="59.5" x2="245.5" y2="59.5" stroke="#000" stroke-width="1" stroke-dasharray="2,2" shape-rendering="crispEdges"/>
<line x1="135.5" y1="77.5" x2="245.5" y2="77.5" stroke="#000" stroke-width="1" stroke-dasharray="2,2" shape-rendering="crispEdges"/>
<line x1="135.5" y1="94.5" x2="245.5" y2="94.5" stroke="#000" stroke-width="1" stroke-dasharray="2,2" shape-rendering="crispEdges"/>
<line x1="135.5" y1="111.5" x2="245.5" y2="111.5" stroke="#000" stroke-width="1" stroke-dasharray="2,2" shape-rendering="crispEdges"/>
<line x1="135.5" y1="129.5" x2="245.5" y2="129.5" stroke="#000" stroke-width="1" stroke-dasharray="2,2" shape-rendering="crispEdges"/>
<g clip-path="url(#ltclip)">
<line x1="143" y1="71" x2="143" y2="86.3" stroke="#a8141c" stroke-width="1.3" />
<line x1="150" y1="78.5" x2="150" y2="93" stroke="#a8141c" stroke-width="1.3" />
<line x1="157" y1="87" x2="157" y2="100" stroke="#a8141c" stroke-width="1.3" />
<line x1="163.5" y1="96.4" x2="163.5" y2="112.8" stroke="#a8141c" stroke-width="1.3" />
<line x1="170.3" y1="101" x2="170.3" y2="113" stroke="#a8141c" stroke-width="1.3" />
<line x1="177" y1="103" x2="177" y2="118" stroke="#a8141c" stroke-width="1.3" />
<line x1="184" y1="106" x2="184" y2="119" stroke="#a8141c" stroke-width="1.3" />
<line x1="191" y1="108" x2="191" y2="122" stroke="#a8141c" stroke-width="1.3" />
<line x1="198" y1="108" x2="198" y2="123" stroke="#a8141c" stroke-width="1.3" />
<line x1="205" y1="108" x2="205" y2="126" stroke="#a8141c" stroke-width="1.3" />
<line x1="212" y1="110" x2="212" y2="128" stroke="#a8141c" stroke-width="1.3" />
<line x1="219" y1="111" x2="219" y2="129" stroke="#a8141c" stroke-width="1.3" />
<line x1="226" y1="112" x2="226" y2="130" stroke="#a8141c" stroke-width="1.3" />
<line x1="232.7" y1="109" x2="232.7" y2="133" stroke="#a8141c" stroke-width="1.3" />
<line x1="239.5" y1="106" x2="239.5" y2="118" stroke="#a8141c" stroke-width="1.3" />
<line x1="244.5" y1="105" x2="244.5" y2="115" stroke="#a8141c" stroke-width="1.3" />
<circle cx="143" cy="113.7" r="1.6" fill="#7062dc" />
<circle cx="150" cy="113.7" r="1.6" fill="#7062dc" />
<circle cx="157" cy="115.2" r="1.6" fill="#7062dc" />
<circle cx="164" cy="115.6" r="1.6" fill="#7062dc" />
<circle cx="171" cy="116.5" r="1.6" fill="#7062dc" />
<circle cx="178" cy="117" r="1.6" fill="#7062dc" />
<circle cx="185" cy="117.5" r="1.6" fill="#7062dc" />
<circle cx="192" cy="118" r="1.6" fill="#7062dc" />
<circle cx="199" cy="119" r="1.6" fill="#7062dc" />
<circle cx="206" cy="119" r="1.6" fill="#7062dc" />
<circle cx="213" cy="119" r="1.6" fill="#7062dc" />
<circle cx="220" cy="119" r="1.6" fill="#7062dc" />
<circle cx="227" cy="120" r="1.6" fill="#7062dc" />
<circle cx="234" cy="121" r="1.6" fill="#7062dc" />
<circle cx="241" cy="118" r="1.6" fill="#7062dc" />
<polyline points="136,102.6 136.63,102.64 137.48,102.67 138.5,102.72 139.63,102.8 140.81,102.92 142,103.1 142.91,103.27 143.89,103.48 144.91,103.71 145.96,103.97 147.01,104.24 148.04,104.52 149.05,104.81 150,105.1 151.19,105.5 152.33,105.94 153.43,106.39 154.51,106.84 155.59,107.28 156.7,107.7 157.83,108.1 158.96,108.48 160.09,108.86 161.22,109.22 162.36,109.57 163.5,109.9 164.64,110.22 165.77,110.52 166.9,110.81 168.04,111.09 169.21,111.35 170.4,111.6 171.45,111.8 172.54,111.99 173.64,112.17 174.75,112.33 175.85,112.49 176.94,112.65 178,112.8 179.03,112.92 180.05,112.98 181.06,113.03 182.05,113.1 183.04,113.21 184.02,113.4 185,113.7 186.13,114.25 187.25,115 188.36,115.83 189.47,116.66 190.58,117.38 191.7,117.9 192.83,118.19 193.96,118.33 195.09,118.36 196.22,118.34 197.36,118.3 198.5,118.3 199.65,118.32 200.8,118.33 201.95,118.32 203.1,118.31 204.25,118.3 205.4,118.3 206.54,118.33 207.67,118.38 208.81,118.44 209.94,118.47 211.07,118.47 212.2,118.4 213.33,118.22 214.46,117.93 215.59,117.59 216.73,117.29 217.86,117.07 219,117 220.15,117.09 221.3,117.27 222.45,117.55 223.6,117.9 224.75,118.32 225.9,118.8 227.04,119.48 228.17,120.4 229.31,121.39 230.44,122.27 231.57,122.86 232.7,123 233.84,122.53 234.98,121.57 236.12,120.33 237.26,119.01 238.38,117.83 239.5,117 240.68,116.52 241.93,116.23 243.18,116.08 244.33,116 245.3,115.96 246,115.9" fill="none" stroke="#1530e0" stroke-width="2.6" stroke-linejoin="round" />
<polyline points="136,99.1 136.63,99.08 137.48,99.03 138.5,98.99 139.63,98.97 140.81,99 142,99.1 142.91,99.23 143.88,99.39 144.9,99.57 145.94,99.79 146.99,100.03 148.02,100.3 149.03,100.59 150,100.9 151.06,101.29 152.09,101.73 153.1,102.2 154.09,102.7 155.07,103.22 156.03,103.76 157,104.3 158.11,104.96 159.19,105.67 160.26,106.39 161.32,107.12 162.4,107.83 163.5,108.5 164.62,109.16 165.74,109.82 166.88,110.46 168.03,111.06 169.2,111.58 170.4,112 171.45,112.26 172.54,112.42 173.64,112.53 174.75,112.59 175.85,112.64 176.94,112.7 178,112.8 179.03,112.93 180.05,113.07 181.06,113.21 182.05,113.35 183.04,113.48 184.02,113.6 185,113.7 186.13,113.79 187.25,113.87 188.36,113.92 189.47,113.97 190.58,113.99 191.7,114 192.83,113.97 193.96,113.9 195.09,113.82 196.22,113.74 197.36,113.69 198.5,113.7 199.65,113.77 200.8,113.9 201.95,114.06 203.1,114.22 204.25,114.38 205.4,114.5 206.54,114.59 207.67,114.66 208.81,114.72 209.94,114.77 211.07,114.83 212.2,114.9 213.33,114.97 214.46,115.05 215.59,115.12 216.73,115.21 217.86,115.3 219,115.4 220.15,115.5 221.3,115.58 222.45,115.67 223.6,115.79 224.75,115.96 225.9,116.2 227.04,116.61 228.17,117.19 229.31,117.82 230.44,118.38 231.57,118.75 232.7,118.8 233.84,118.47 234.98,117.85 236.12,117.03 237.26,116.13 238.38,115.25 239.5,114.5 240.68,113.83 241.93,113.14 243.18,112.48 244.33,111.88 245.3,111.37 246,111" fill="none" stroke="#ff1a1a" stroke-width="2.6" stroke-linejoin="round" />
</g>
<rect x="135.5" y="57.5" width="110" height="76" fill="none" stroke="#000" stroke-width="1" shape-rendering="crispEdges"/>
<text x="128.5" y="63.5" font-size="10.6" fill="#000" stroke="#000" stroke-width="0.25" text-anchor="end" >30</text>
<text x="266" y="63.5" font-size="10.6" fill="#000" stroke="#000" stroke-width="0.25" text-anchor="end" >30</text>
<text x="128.5" y="80.8" font-size="10.6" fill="#000" stroke="#000" stroke-width="0.25" text-anchor="end" >20</text>
<text x="266" y="80.8" font-size="10.6" fill="#000" stroke="#000" stroke-width="0.25" text-anchor="end" >20</text>
<text x="128.5" y="98" font-size="10.6" fill="#000" stroke="#000" stroke-width="0.25" text-anchor="end" >10</text>
<text x="266" y="98" font-size="10.6" fill="#000" stroke="#000" stroke-width="0.25" text-anchor="end" >10</text>
<text x="128.5" y="115.1" font-size="10.6" fill="#000" stroke="#000" stroke-width="0.25" text-anchor="end" >0</text>
<text x="266" y="115.1" font-size="10.6" fill="#000" stroke="#000" stroke-width="0.25" text-anchor="end" >0</text>
<text x="128.5" y="132.5" font-size="10.6" fill="#000" stroke="#000" stroke-width="0.25" text-anchor="end" >-10</text>
<text x="266" y="132.5" font-size="10.6" fill="#000" stroke="#000" stroke-width="0.25" text-anchor="end" >-10</text>
<polyline points="103,43.5 120,43.5 150,82.5" fill="none" stroke="#b01e1e" stroke-width="1" stroke-linejoin="round" stroke-linecap="square"/>
<polyline points="92,76.5 115,76.5" fill="none" stroke="#ff0000" stroke-width="1" stroke-linejoin="round" stroke-linecap="square"/>
<polyline points="130,76.5 137,79.5 151,96.5" fill="none" stroke="#ff0000" stroke-width="1" stroke-linejoin="round" stroke-linecap="square"/>
<polyline points="70,99.5 128,99.5 133,100.5 137,102.5" fill="none" stroke="#0000ff" stroke-width="1" stroke-linejoin="round" stroke-linecap="square"/>
<polyline points="95,120.5 128,120.5 134,117.5 142,113.5" fill="none" stroke="#6a5acd" stroke-width="1" stroke-linejoin="round" stroke-linecap="square"/>
<rect x="135.5" y="143" width="110" height="77" fill="#ffffff" />
<rect x="170" y="143" width="62" height="77" fill="#eef3fd" />
<line x1="142.5" y1="143" x2="142.5" y2="220" stroke="#000" stroke-width="1" stroke-dasharray="2,2" shape-rendering="crispEdges"/>
<line x1="163.5" y1="143" x2="163.5" y2="220" stroke="#000" stroke-width="1" stroke-dasharray="2,2" shape-rendering="crispEdges"/>
<line x1="184.5" y1="143" x2="184.5" y2="220" stroke="#000" stroke-width="1" stroke-dasharray="2,2" shape-rendering="crispEdges"/>
<line x1="205.5" y1="143" x2="205.5" y2="220" stroke="#000" stroke-width="1" stroke-dasharray="2,2" shape-rendering="crispEdges"/>
<line x1="226.5" y1="143" x2="226.5" y2="220" stroke="#000" stroke-width="1" stroke-dasharray="2,2" shape-rendering="crispEdges"/>
<line x1="135.5" y1="150.5" x2="245.5" y2="150.5" stroke="#000" stroke-width="1" stroke-dasharray="2,2" shape-rendering="crispEdges"/>
<line x1="135.5" y1="168.5" x2="245.5" y2="168.5" stroke="#000" stroke-width="1" stroke-dasharray="2,2" shape-rendering="crispEdges"/>
<line x1="135.5" y1="185.5" x2="245.5" y2="185.5" stroke="#000" stroke-width="1" stroke-dasharray="2,2" shape-rendering="crispEdges"/>
<line x1="135.5" y1="203.5" x2="245.5" y2="203.5" stroke="#000" stroke-width="1" stroke-dasharray="2,2" shape-rendering="crispEdges"/>
<rect x="136" y="186.9" width="7" height="33.1" fill="#10a010" />
<rect x="143" y="180.9" width="7" height="39.1" fill="#10a010" />
<rect x="150" y="179.2" width="7" height="40.8" fill="#10a010" />
<rect x="157" y="201.7" width="7" height="18.3" fill="#10a010" />
<rect x="164" y="207.7" width="6" height="12.3" fill="#10a010" />
<rect x="170" y="218" width="7" height="2" fill="#10a010" />
<rect x="157" y="182" width="7" height="19.7" fill="#1030d0" />
<rect x="164" y="205" width="6" height="2.7" fill="#1030d0" />
<line x1="142.5" y1="143" x2="142.5" y2="220" stroke="#000" stroke-width="1" stroke-dasharray="2,2" shape-rendering="crispEdges"/>
<line x1="163.5" y1="143" x2="163.5" y2="220" stroke="#000" stroke-width="1" stroke-dasharray="2,2" shape-rendering="crispEdges"/>
<line x1="184.5" y1="143" x2="184.5" y2="220" stroke="#000" stroke-width="1" stroke-dasharray="2,2" shape-rendering="crispEdges"/>
<line x1="205.5" y1="143" x2="205.5" y2="220" stroke="#000" stroke-width="1" stroke-dasharray="2,2" shape-rendering="crispEdges"/>
<line x1="226.5" y1="143" x2="226.5" y2="220" stroke="#000" stroke-width="1" stroke-dasharray="2,2" shape-rendering="crispEdges"/>
<line x1="135.5" y1="185.5" x2="245.5" y2="185.5" stroke="#000" stroke-width="1" stroke-dasharray="2,2" shape-rendering="crispEdges"/>
<line x1="135.5" y1="203.5" x2="245.5" y2="203.5" stroke="#000" stroke-width="1" stroke-dasharray="2,2" shape-rendering="crispEdges"/>
<line x1="139.5" y1="165" x2="139.5" y2="186" stroke="#119911" stroke-width="1" />
<line x1="146.5" y1="147" x2="146.5" y2="180" stroke="#119911" stroke-width="1" />
<line x1="153.5" y1="147" x2="153.5" y2="179" stroke="#119911" stroke-width="1" />
<rect x="145" y="145.5" width="3" height="3" fill="#ff0000" />
<rect x="152" y="145.5" width="3" height="3" fill="#ff0000" />
<circle cx="139.5" cy="173.5" r="2.6" fill="#ffe000" stroke="#804000" stroke-width="0.8"/>
<circle cx="146.5" cy="173.5" r="2.6" fill="#ff9900" stroke="#804000" stroke-width="0.8"/>
<circle cx="153.5" cy="173.5" r="2.6" fill="#ff1a00" stroke="#804000" stroke-width="0.8"/>
<g clip-path="url(#lhclip)">
</g>
<polyline points="136,171.8 136.63,171.51 137.49,171.17 138.51,170.76 139.63,170.26 140.8,169.65 141.94,168.9 143,168 144,166.84 145,165.39 146,163.78 147,162.12 148,160.53 149,159.12 150,158 151.01,157.2 152.03,156.6 153.05,156.17 154.07,155.85 155.07,155.58 156.05,155.31 157,155 157.99,154.59 158.85,154.2 159.69,153.84 160.59,153.52 161.66,153.23 163,153 163.8,152.9 164.68,152.82 165.62,152.76 166.63,152.7 167.68,152.66 168.75,152.62 169.84,152.6 170.93,152.57 172,152.55 173.05,152.54 174.05,152.52 175,152.5 176.09,152.5 177.18,152.53 178.24,152.59 179.29,152.66 180.31,152.72 181.31,152.76 182.28,152.78 183.22,152.75 184.13,152.66 185,152.5 186.17,152.1 187.25,151.53 188.26,150.86 189.23,150.14 190.16,149.47 191.08,148.9 192,148.5 193.05,148.22 194.04,148.04 195,147.97 195.96,148.02 196.95,148.19 198,148.5 198.95,148.92 199.93,149.5 200.93,150.19 201.95,150.94 202.97,151.69 203.99,152.4 205,153 206.01,153.58 207.03,154.21 208.05,154.84 209.07,155.39 210.07,155.81 211.05,156.03 212,156 213.05,155.53 214.04,154.65 215,153.53 215.96,152.35 216.95,151.28 218,150.5 218.92,150.03 219.84,149.62 220.77,149.29 221.74,149.05 222.75,148.91 223.83,148.89 225,149 225.87,149.14 226.79,149.32 227.75,149.54 228.74,149.82 229.75,150.16 230.78,150.56 231.83,151.04 232.89,151.6 233.95,152.25 235,153 236,153.84 237.09,154.86 238.23,156.02 239.39,157.28 240.55,158.59 241.69,159.91 242.77,161.18 243.77,162.38 244.66,163.44 245.41,164.33 246,165" fill="none" stroke="#e2521c" stroke-width="2.2" stroke-linejoin="round" />
<line x1="138" y1="219.5" x2="140.5" y2="219.5" stroke="#ff0000" stroke-width="1" />
<line x1="145" y1="219.5" x2="147.5" y2="219.5" stroke="#ff0000" stroke-width="1" />
<line x1="152" y1="219.5" x2="154.5" y2="219.5" stroke="#ff0000" stroke-width="1" />
<line x1="159" y1="219.5" x2="161.5" y2="219.5" stroke="#ff0000" stroke-width="1" />
<line x1="166" y1="219.5" x2="168.5" y2="219.5" stroke="#ff0000" stroke-width="1" />
<rect x="135.5" y="143.5" width="110" height="77" fill="none" stroke="#000" stroke-width="1" shape-rendering="crispEdges"/>
<text x="128.5" y="154.4" font-size="10.6" fill="#000" stroke="#000" stroke-width="0.25" text-anchor="end" >2.0</text>
<text x="128.5" y="171.8" font-size="10.6" fill="#000" stroke="#000" stroke-width="0.25" text-anchor="end" >1.5</text>
<text x="128.5" y="188.8" font-size="10.6" fill="#000" stroke="#000" stroke-width="0.25" text-anchor="end" >1.0</text>
<text x="128.5" y="206.8" font-size="10.6" fill="#000" stroke="#000" stroke-width="0.25" text-anchor="end" >0.5</text>
<text x="128.5" y="223.8" font-size="10.6" fill="#000" stroke="#000" stroke-width="0.25" text-anchor="end" >0.0</text>
<text x="253.6" y="154.3" font-size="10.6" fill="#e2521c" stroke="#e2521c" stroke-width="0.25" >96</text>
<text x="253.6" y="171.8" font-size="10.6" fill="#e2521c" stroke="#e2521c" stroke-width="0.25" >84</text>
<text x="253.6" y="188.8" font-size="10.6" fill="#e2521c" stroke="#e2521c" stroke-width="0.25" >73</text>
<text x="253.6" y="206.8" font-size="10.6" fill="#e2521c" stroke="#e2521c" stroke-width="0.25" >61</text>
<text x="253.6" y="223.8" font-size="10.6" fill="#e2521c" stroke="#e2521c" stroke-width="0.25" >50</text>
<text x="6" y="141.4" font-size="10.6" fill="#ff0000" stroke="#ff0000" stroke-width="0.25" textLength="94" lengthAdjust="spacingAndGlyphs" >Opad powyżej skali</text>
<polyline points="103,137.5 140,137.5 146,145.5" fill="none" stroke="#ff0000" stroke-width="1" stroke-linejoin="round" stroke-linecap="square"/>
<text x="6" y="155.2" font-size="10.6" fill="#e2521c" stroke="#e2521c" stroke-width="0.25" textLength="97" lengthAdjust="spacingAndGlyphs" >Wilgotność względna</text>
<line x1="106" y1="151.5" x2="111" y2="151.5" stroke="#e2521c" stroke-width="0.9" />
<polyline points="130,151.5 138,156.5 150,160.5" fill="none" stroke="#e2521c" stroke-width="1" stroke-linejoin="round" stroke-linecap="square"/>
<text x="6" y="169.2" font-size="10.6" fill="#000" stroke="#000" stroke-width="0.25" textLength="84.6" lengthAdjust="spacingAndGlyphs" >Wystąpienie burzy</text>
<polyline points="94,166.5 112,166.5" fill="none" stroke="#000" stroke-width="1" stroke-linejoin="round" stroke-linecap="square"/>
<polyline points="130,166.5 134,167.5 139,172.5" fill="none" stroke="#000" stroke-width="1" stroke-linejoin="round" stroke-linecap="square"/>
<text x="6" y="182.8" font-size="10.6" fill="#119911" stroke="#119911" stroke-width="0.25" textLength="39" lengthAdjust="spacingAndGlyphs" >Deszcz:</text>
<text x="49.5" y="182.8" font-size="10.6" fill="#119911" stroke="#119911" stroke-width="0.25" textLength="19.5" lengthAdjust="spacingAndGlyphs" >max</text>
<polyline points="71,179.5 140,179.5" fill="none" stroke="#119911" stroke-width="1" stroke-linejoin="round" stroke-linecap="square"/>
<text x="49" y="194" font-size="10.6" fill="#119911" stroke="#119911" stroke-width="0.25" textLength="29" lengthAdjust="spacingAndGlyphs" >średni</text>
<polyline points="80,190.5 140,190.5" fill="none" stroke="#119911" stroke-width="1" stroke-linejoin="round" stroke-linecap="square"/>
<text x="6" y="205.8" font-size="10.6" fill="#2040d0" stroke="#2040d0" stroke-width="0.25" textLength="29.5" lengthAdjust="spacingAndGlyphs" >Śnieg:</text>
<text x="49" y="205.8" font-size="10.6" fill="#2040d0" stroke="#2040d0" stroke-width="0.25" textLength="19" lengthAdjust="spacingAndGlyphs" >max</text>
<polyline points="70,202.5 112,202.5" fill="none" stroke="#2040d0" stroke-width="1" stroke-linejoin="round" stroke-linecap="square"/>
<polyline points="130,203.5 134,203.5 160,177.5" fill="none" stroke="#2040d0" stroke-width="1" stroke-linejoin="round" stroke-linecap="square"/>
<text x="49" y="216.2" font-size="10.6" fill="#2040d0" stroke="#2040d0" stroke-width="0.25" textLength="29" lengthAdjust="spacingAndGlyphs" >średni</text>
<polyline points="81,213.5 131,213.5 160,184.5" fill="none" stroke="#2040d0" stroke-width="1" stroke-linejoin="round" stroke-linecap="square"/>
<text x="6" y="228.1" font-size="10.6" fill="#ff0000" stroke="#ff0000" stroke-width="0.25" textLength="88" lengthAdjust="spacingAndGlyphs" >Wystąpienie opadu</text>
<text x="6" y="240.8" font-size="10.6" fill="#ff0000" stroke="#ff0000" stroke-width="0.25" textLength="71" lengthAdjust="spacingAndGlyphs" >konwekcyjnego</text>
<polyline points="98,224.5 140,224.5 143,220.5" fill="none" stroke="#ff0000" stroke-width="1" stroke-linejoin="round" stroke-linecap="square"/>
<rect x="135.5" y="229" width="110" height="77" fill="#ffffff" />
<rect x="170" y="229" width="62" height="77" fill="#eef3fd" />
<polygon points="136,261 143,260.5 150,252.4 157,249 163,249 169.5,245.3 177,248 185,250.5 192,254 205,254 226,254 246,265 246,306 136,306" fill="#ffff00" />
<defs><clipPath id="lpclip"><polygon points="136,261 143,260.5 150,252.4 157,249 163,249 169.5,245.3 177,248 185,250.5 192,254 205,254 226,254 246,265 246,306 136,306"/></clipPath></defs>
<g clip-path="url(#lpclip)">
<rect x="164.7" y="230" width="5.2" height="76" fill="#ffd200" />
</g>
<line x1="142.5" y1="229" x2="142.5" y2="306" stroke="#000" stroke-width="1" stroke-dasharray="2,2" shape-rendering="crispEdges"/>
<line x1="163.5" y1="229" x2="163.5" y2="306" stroke="#000" stroke-width="1" stroke-dasharray="2,2" shape-rendering="crispEdges"/>
<line x1="184.5" y1="229" x2="184.5" y2="306" stroke="#000" stroke-width="1" stroke-dasharray="2,2" shape-rendering="crispEdges"/>
<line x1="205.5" y1="229" x2="205.5" y2="306" stroke="#000" stroke-width="1" stroke-dasharray="2,2" shape-rendering="crispEdges"/>
<line x1="226.5" y1="229" x2="226.5" y2="306" stroke="#000" stroke-width="1" stroke-dasharray="2,2" shape-rendering="crispEdges"/>
<line x1="135.5" y1="231.5" x2="245.5" y2="231.5" stroke="#000" stroke-width="1" stroke-dasharray="2,2" shape-rendering="crispEdges"/>
<line x1="135.5" y1="254.5" x2="245.5" y2="254.5" stroke="#000" stroke-width="1" stroke-dasharray="2,2" shape-rendering="crispEdges"/>
<line x1="135.5" y1="278.5" x2="245.5" y2="278.5" stroke="#000" stroke-width="1" stroke-dasharray="2,2" shape-rendering="crispEdges"/>
<line x1="135.5" y1="301.5" x2="245.5" y2="301.5" stroke="#000" stroke-width="1" stroke-dasharray="2,2" shape-rendering="crispEdges"/>
<polyline points="136,261 143,260.5 150,252.4 157,249 163,249 169.5,245.3 177,248 185,250.5 192,254 205,254 226,254 246,265" fill="none" stroke="#000" stroke-width="2" stroke-linejoin="round" />
<rect x="135.5" y="229.5" width="110" height="77" fill="none" stroke="#000" stroke-width="1" shape-rendering="crispEdges"/>
<text x="128.5" y="235" font-size="10.6" fill="#000" stroke="#000" stroke-width="0.25" text-anchor="end" >1018</text>
<text x="251.5" y="235.5" font-size="10.6" fill="#000" stroke="#000" stroke-width="0.25" >1018</text>
<text x="128.5" y="258" font-size="10.6" fill="#000" stroke="#000" stroke-width="0.25" text-anchor="end" >1016</text>
<text x="251.5" y="258.5" font-size="10.6" fill="#000" stroke="#000" stroke-width="0.25" >1016</text>
<text x="128.5" y="282.3" font-size="10.6" fill="#000" stroke="#000" stroke-width="0.25" text-anchor="end" >1014</text>
<text x="251.5" y="282.8" font-size="10.6" fill="#000" stroke="#000" stroke-width="0.25" >1014</text>
<text x="128.5" y="305.3" font-size="10.6" fill="#000" stroke="#000" stroke-width="0.25" text-anchor="end" >1012</text>
<text x="251.5" y="305.8" font-size="10.6" fill="#000" stroke="#000" stroke-width="0.25" >1012</text>
<text x="5" y="267.2" font-size="10.6" fill="#000" stroke="#000" stroke-width="0.25" textLength="42" lengthAdjust="spacingAndGlyphs" >Ciśnienie</text>
<text x="5" y="280.2" font-size="10.6" fill="#000" stroke="#000" stroke-width="0.25" textLength="66" lengthAdjust="spacingAndGlyphs" >zredukowane</text>
<text x="5" y="293.4" font-size="10.6" fill="#000" stroke="#000" stroke-width="0.25" textLength="87" lengthAdjust="spacingAndGlyphs" >do poziomu morza</text>
<polyline points="51,264.5 130,264.5 136,261.5" fill="none" stroke="#000" stroke-width="1" stroke-linejoin="round" stroke-linecap="square"/>
<rect x="135.5" y="315" width="110" height="77" fill="#ffffff" />
<rect x="170" y="315" width="62" height="77" fill="#eef3fd" />
<defs><clipPath id="lwclip"><polygon points="136,364.8 136.63,365.11 137.49,365.54 138.51,366.05 139.63,366.61 140.8,367.17 141.94,367.72 143,368.2 143.99,368.64 144.97,369.08 145.95,369.52 146.93,369.93 147.93,370.32 148.95,370.68 150,371 150.96,371.25 151.95,371.47 152.97,371.66 154,371.84 155.03,372 156.05,372.14 157.04,372.27 158,372.4 159.07,372.52 160.13,372.6 161.17,372.66 162.19,372.71 163.17,372.78 164.11,372.87 165,373 166.05,373.26 166.9,373.58 167.74,373.93 168.71,374.28 170,374.6 170.8,374.76 171.68,374.95 172.63,375.14 173.64,375.34 174.69,375.53 175.76,375.69 176.84,375.84 177.92,375.94 178.98,376 180,376 181.01,375.94 182.03,375.81 183.06,375.63 184.1,375.42 185.12,375.18 186.14,374.92 187.15,374.66 188.13,374.42 189.08,374.19 190,374 190.97,373.79 191.7,373.57 192.31,373.37 192.94,373.18 193.7,373 194.71,372.84 196.1,372.7 198,372.6 198.68,372.58 199.44,372.56 200.25,372.55 201.13,372.55 202.06,372.55 203.03,372.56 204.05,372.57 205.1,372.58 206.19,372.59 207.3,372.61 208.43,372.63 209.57,372.65 210.73,372.67 211.89,372.68 213.05,372.7 214.21,372.72 215.35,372.73 216.48,372.74 217.59,372.75 218.67,372.75 219.71,372.75 220.72,372.74 221.68,372.73 222.6,372.71 223.46,372.68 224.26,372.64 225,372.6 226.6,372.46 227.99,372.26 229.18,372.04 230.22,371.78 231.14,371.5 231.97,371.22 232.75,370.94 233.5,370.66 234.28,370.41 235.1,370.19 236,370 237.09,369.83 238.22,369.68 239.39,369.55 240.55,369.44 241.69,369.34 242.77,369.25 243.77,369.18 244.66,369.11 245.41,369.05 246,369 246,392 136,392"/></clipPath></defs>
<g clip-path="url(#lwclip)">
<rect x="136" y="315" width="12.2" height="77" fill="#10c810" />
<rect x="148.2" y="315" width="21" height="77" fill="#0a7a0a" />
<rect x="169.2" y="315" width="28" height="77" fill="#0a4a90" />
<rect x="197.2" y="315" width="13.8" height="77" fill="#0a7a0a" />
<rect x="211" y="315" width="14" height="77" fill="#0a4a90" />
<rect x="225" y="315" width="14" height="77" fill="#0a7a0a" />
<rect x="239" y="315" width="7" height="77" fill="#10c810" />
</g>
<line x1="142.5" y1="315" x2="142.5" y2="392" stroke="#000" stroke-width="1" stroke-dasharray="2,2" shape-rendering="crispEdges"/>
<line x1="163.5" y1="315" x2="163.5" y2="392" stroke="#000" stroke-width="1" stroke-dasharray="2,2" shape-rendering="crispEdges"/>
<line x1="184.5" y1="315" x2="184.5" y2="392" stroke="#000" stroke-width="1" stroke-dasharray="2,2" shape-rendering="crispEdges"/>
<line x1="205.5" y1="315" x2="205.5" y2="392" stroke="#000" stroke-width="1" stroke-dasharray="2,2" shape-rendering="crispEdges"/>
<line x1="226.5" y1="315" x2="226.5" y2="392" stroke="#000" stroke-width="1" stroke-dasharray="2,2" shape-rendering="crispEdges"/>
<line x1="135.5" y1="334.5" x2="245.5" y2="334.5" stroke="#000" stroke-width="1" stroke-dasharray="2,2" shape-rendering="crispEdges"/>
<line x1="135.5" y1="354.5" x2="245.5" y2="354.5" stroke="#000" stroke-width="1" stroke-dasharray="2,2" shape-rendering="crispEdges"/>
<line x1="135.5" y1="373.5" x2="245.5" y2="373.5" stroke="#000" stroke-width="1" stroke-dasharray="2,2" shape-rendering="crispEdges"/>
<polyline points="136,364.8 136.63,365.11 137.49,365.54 138.51,366.05 139.63,366.61 140.8,367.17 141.94,367.72 143,368.2 143.99,368.64 144.97,369.08 145.95,369.52 146.93,369.93 147.93,370.32 148.95,370.68 150,371 150.96,371.25 151.95,371.47 152.97,371.66 154,371.84 155.03,372 156.05,372.14 157.04,372.27 158,372.4 159.07,372.52 160.13,372.6 161.17,372.66 162.19,372.71 163.17,372.78 164.11,372.87 165,373 166.05,373.26 166.9,373.58 167.74,373.93 168.71,374.28 170,374.6 170.8,374.76 171.68,374.95 172.63,375.14 173.64,375.34 174.69,375.53 175.76,375.69 176.84,375.84 177.92,375.94 178.98,376 180,376 181.01,375.94 182.03,375.81 183.06,375.63 184.1,375.42 185.12,375.18 186.14,374.92 187.15,374.66 188.13,374.42 189.08,374.19 190,374 190.97,373.79 191.7,373.57 192.31,373.37 192.94,373.18 193.7,373 194.71,372.84 196.1,372.7 198,372.6 198.68,372.58 199.44,372.56 200.25,372.55 201.13,372.55 202.06,372.55 203.03,372.56 204.05,372.57 205.1,372.58 206.19,372.59 207.3,372.61 208.43,372.63 209.57,372.65 210.73,372.67 211.89,372.68 213.05,372.7 214.21,372.72 215.35,372.73 216.48,372.74 217.59,372.75 218.67,372.75 219.71,372.75 220.72,372.74 221.68,372.73 222.6,372.71 223.46,372.68 224.26,372.64 225,372.6 226.6,372.46 227.99,372.26 229.18,372.04 230.22,371.78 231.14,371.5 231.97,371.22 232.75,370.94 233.5,370.66 234.28,370.41 235.1,370.19 236,370 237.09,369.83 238.22,369.68 239.39,369.55 240.55,369.44 241.69,369.34 242.77,369.25 243.77,369.18 244.66,369.11 245.41,369.05 246,369" fill="none" stroke="#10108c" stroke-width="2.4" stroke-linejoin="round" />
<line x1="137" y1="340" x2="147" y2="340" stroke="#e81010" stroke-width="1.1" />
<line x1="148" y1="347.8" x2="161" y2="347.8" stroke="#e81010" stroke-width="1.1" />
<line x1="162" y1="351.4" x2="169" y2="351.4" stroke="#e81010" stroke-width="1.1" />
<line x1="170" y1="355" x2="176" y2="355" stroke="#e81010" stroke-width="1.1" />
<line x1="176" y1="358.6" x2="182" y2="358.6" stroke="#e81010" stroke-width="1.1" />
<line x1="183" y1="354.5" x2="189" y2="354.5" stroke="#e81010" stroke-width="1.1" />
<line x1="190" y1="351.5" x2="199" y2="351.5" stroke="#e81010" stroke-width="1.1" />
<line x1="197" y1="350" x2="209" y2="350" stroke="#e81010" stroke-width="1.1" />
<line x1="212" y1="351.5" x2="224" y2="351.5" stroke="#e81010" stroke-width="1.1" />
<line x1="226" y1="347.5" x2="232" y2="347.5" stroke="#e81010" stroke-width="1.1" />
<line x1="233" y1="342.3" x2="245" y2="342.3" stroke="#e81010" stroke-width="1.1" />
<polyline points="138,318 139.5,316.5" fill="none" stroke="#e81010" stroke-width="1.5" stroke-linejoin="round" />
<rect x="135.5" y="315.5" width="110" height="77" fill="none" stroke="#000" stroke-width="1" shape-rendering="crispEdges"/>
<text x="128.5" y="319.5" font-size="10.6" fill="#000" stroke="#000" stroke-width="0.25" text-anchor="end" >20</text>
<text x="128.5" y="338.2" font-size="10.6" fill="#000" stroke="#000" stroke-width="0.25" text-anchor="end" >15</text>
<text x="128.5" y="357.8" font-size="10.6" fill="#000" stroke="#000" stroke-width="0.25" text-anchor="end" >10</text>
<text x="128.5" y="376.7" font-size="10.6" fill="#000" stroke="#000" stroke-width="0.25" text-anchor="end" >5</text>
<text x="128.5" y="395.8" font-size="10.6" fill="#000" stroke="#000" stroke-width="0.25" text-anchor="end" >0</text>
<text x="251.5" y="319.3" font-size="10.6" fill="#000" stroke="#000" stroke-width="0.25" >72</text>
<text x="251.5" y="338.8" font-size="10.6" fill="#000" stroke="#000" stroke-width="0.25" >54</text>
<text x="251.5" y="357.8" font-size="10.6" fill="#000" stroke="#000" stroke-width="0.25" >36</text>
<text x="251.5" y="376.8" font-size="10.6" fill="#000" stroke="#000" stroke-width="0.25" >18</text>
<text x="253.6" y="395.8" font-size="10.6" fill="#000" stroke="#000" stroke-width="0.25" >0</text>
<text x="5" y="322.4" font-size="10.6" fill="#000" stroke="#000" stroke-width="0.25" textLength="66" lengthAdjust="spacingAndGlyphs" >Wiatr na 10m:</text>
<text x="9.5" y="338.2" font-size="10.6" fill="#ff0000" stroke="#ff0000" stroke-width="0.25" textLength="100.5" lengthAdjust="spacingAndGlyphs" >poryw powyżej skali</text>
<line x1="110.5" y1="334.5" x2="113" y2="334.5" stroke="#ff0000" stroke-width="0.9" />
<polyline points="130,334.5 134,330.5 138,318.5" fill="none" stroke="#ff0000" stroke-width="1" stroke-linejoin="round" stroke-linecap="square"/>
<text x="9.5" y="352.2" font-size="10.6" fill="#ff0000" stroke="#ff0000" stroke-width="0.25" textLength="94.5" lengthAdjust="spacingAndGlyphs" >max porywy wiatru</text>
<polyline points="107,348.5 130,348.5 139,341.5" fill="none" stroke="#ff0000" stroke-width="1" stroke-linejoin="round" stroke-linecap="square"/>
<text x="9.5" y="371.5" font-size="10.6" fill="#1a1aa0" stroke="#1a1aa0" stroke-width="0.25" textLength="78.5" lengthAdjust="spacingAndGlyphs" >prędkość wiatru</text>
<polyline points="92,367.5 136,367.5" fill="none" stroke="#1a1aa0" stroke-width="1" stroke-linejoin="round" stroke-linecap="square"/>
<text x="9.5" y="385.2" font-size="10.6" fill="#1a1aa0" stroke="#1a1aa0" stroke-width="0.25" textLength="88.5" lengthAdjust="spacingAndGlyphs" >w środku obszaru</text>
<rect x="135.5" y="398" width="110" height="32" fill="#ffffff" />
<rect x="170" y="398" width="62" height="32" fill="#eef3fd" />
<line x1="142.5" y1="398" x2="142.5" y2="430" stroke="#000" stroke-width="1" stroke-dasharray="2,2" shape-rendering="crispEdges"/>
<line x1="163.5" y1="398" x2="163.5" y2="430" stroke="#000" stroke-width="1" stroke-dasharray="2,2" shape-rendering="crispEdges"/>
<line x1="184.5" y1="398" x2="184.5" y2="430" stroke="#000" stroke-width="1" stroke-dasharray="2,2" shape-rendering="crispEdges"/>
<line x1="205.5" y1="398" x2="205.5" y2="430" stroke="#000" stroke-width="1" stroke-dasharray="2,2" shape-rendering="crispEdges"/>
<line x1="226.5" y1="398" x2="226.5" y2="430" stroke="#000" stroke-width="1" stroke-dasharray="2,2" shape-rendering="crispEdges"/>
<line x1="138.63" y1="406.16" x2="143.31" y2="417.75" stroke="#00008b" stroke-width="1.4" />
<polygon points="145.37,422.84 140.72,418.79 145.91,416.7" fill="#00008b" />
<line x1="145.34" y1="406.28" x2="150.42" y2="417.7" stroke="#00008b" stroke-width="1.4" />
<polygon points="152.66,422.72 147.87,418.84 152.98,416.56" fill="#00008b" />
<line x1="152.63" y1="406.16" x2="157.31" y2="417.75" stroke="#00008b" stroke-width="1.4" />
<polygon points="159.37,422.84 154.72,418.79 159.91,416.7" fill="#00008b" />
<line x1="160.22" y1="405.94" x2="164.08" y2="417.83" stroke="#00008b" stroke-width="1.4" />
<polygon points="165.78,423.06 161.42,418.69 166.74,416.96" fill="#00008b" />
<line x1="167.52" y1="405.85" x2="170.96" y2="417.86" stroke="#00008b" stroke-width="1.4" />
<polygon points="172.48,423.15 168.27,418.64 173.66,417.09" fill="#00008b" />
<line x1="174.82" y1="405.77" x2="177.85" y2="417.9" stroke="#00008b" stroke-width="1.4" />
<polygon points="179.18,423.23 175.13,418.57 180.56,417.22" fill="#00008b" />
<line x1="182.13" y1="405.7" x2="184.73" y2="417.92" stroke="#00008b" stroke-width="1.4" />
<polygon points="185.87,423.3 181.99,418.51 187.47,417.34" fill="#00008b" />
<line x1="188.82" y1="405.77" x2="191.85" y2="417.9" stroke="#00008b" stroke-width="1.4" />
<polygon points="193.18,423.23 189.13,418.57 194.56,417.22" fill="#00008b" />
<line x1="195.52" y1="405.85" x2="198.96" y2="417.86" stroke="#00008b" stroke-width="1.4" />
<polygon points="200.48,423.15 196.27,418.64 201.66,417.09" fill="#00008b" />
<line x1="202.22" y1="405.94" x2="206.08" y2="417.83" stroke="#00008b" stroke-width="1.4" />
<polygon points="207.78,423.06 203.42,418.69 208.74,416.96" fill="#00008b" />
<line x1="208.92" y1="406.04" x2="213.2" y2="417.79" stroke="#00008b" stroke-width="1.4" />
<polygon points="215.08,422.96 210.57,418.75 215.83,416.83" fill="#00008b" />
<line x1="215.63" y1="406.16" x2="220.31" y2="417.75" stroke="#00008b" stroke-width="1.4" />
<polygon points="222.37,422.84 217.72,418.79 222.91,416.7" fill="#00008b" />
<line x1="222.34" y1="406.28" x2="227.42" y2="417.7" stroke="#00008b" stroke-width="1.4" />
<polygon points="229.66,422.72 224.87,418.84 229.98,416.56" fill="#00008b" />
<line x1="229.05" y1="406.41" x2="234.53" y2="417.65" stroke="#00008b" stroke-width="1.4" />
<polygon points="236.95,422.59 232.02,418.87 237.05,416.42" fill="#00008b" />
<line x1="236.05" y1="406.41" x2="241.53" y2="417.65" stroke="#00008b" stroke-width="1.4" />
<polygon points="243.95,422.59 239.02,418.87 244.05,416.42" fill="#00008b" />
<line x1="243.34" y1="406.28" x2="248.42" y2="417.7" stroke="#00008b" stroke-width="1.4" />
<polygon points="250.66,422.72 245.87,418.84 250.98,416.56" fill="#00008b" />
<polygon points="141,421.5 135.5,418 140.5,416" fill="#00008b" />
<polygon points="136,421 136,416 139,418.5" fill="#00008b" />
<rect x="135.5" y="398.5" width="110" height="32" fill="none" stroke="#000" stroke-width="1" shape-rendering="crispEdges"/>
<text x="9.5" y="413.4" font-size="10.6" fill="#1a1aa0" stroke="#1a1aa0" stroke-width="0.25" textLength="73.5" lengthAdjust="spacingAndGlyphs" >kierunek wiatru</text>
<polyline points="86,410.5 140,410.5" fill="none" stroke="#1a1aa0" stroke-width="1" stroke-linejoin="round" stroke-linecap="square"/>
<rect x="135.5" y="436" width="110" height="78" fill="#87d1fa" />
<rect x="170" y="436" width="62" height="78" fill="#7bbeea" />
<line x1="142.5" y1="436" x2="142.5" y2="514" stroke="#000" stroke-width="1" stroke-dasharray="2,2" shape-rendering="crispEdges"/>
<line x1="163.5" y1="436" x2="163.5" y2="514" stroke="#000" stroke-width="1" stroke-dasharray="2,2" shape-rendering="crispEdges"/>
<line x1="184.5" y1="436" x2="184.5" y2="514" stroke="#000" stroke-width="1" stroke-dasharray="2,2" shape-rendering="crispEdges"/>
<line x1="205.5" y1="436" x2="205.5" y2="514" stroke="#000" stroke-width="1" stroke-dasharray="2,2" shape-rendering="crispEdges"/>
<line x1="226.5" y1="436" x2="226.5" y2="514" stroke="#000" stroke-width="1" stroke-dasharray="2,2" shape-rendering="crispEdges"/>
<line x1="135.5" y1="456.5" x2="245.5" y2="456.5" stroke="#000" stroke-width="1" stroke-dasharray="2,2" shape-rendering="crispEdges"/>
<line x1="135.5" y1="475.5" x2="245.5" y2="475.5" stroke="#000" stroke-width="1" stroke-dasharray="2,2" shape-rendering="crispEdges"/>
<line x1="135.5" y1="495.5" x2="245.5" y2="495.5" stroke="#000" stroke-width="1" stroke-dasharray="2,2" shape-rendering="crispEdges"/>
<defs><clipPath id="lcclip"><rect x="136" y="437" width="109" height="77"/></clipPath></defs><g clip-path="url(#lcclip)">
<polyline points="136,470.7 136.63,470.73 137.48,470.8 138.48,470.88 139.6,470.94 140.76,470.95 141.91,470.88 143,470.7 143.99,470.39 144.93,469.96 145.86,469.45 146.84,468.9 147.91,468.33 149.11,467.79 150.5,467.3 151.34,467.05 152.24,466.8 153.2,466.55 154.2,466.29 155.23,466.03 156.3,465.78 157.39,465.54 158.5,465.31 159.61,465.09 160.73,464.89 161.84,464.7 162.93,464.54 164,464.4 165,464.29 166.04,464.21 167.1,464.14 168.19,464.09 169.27,464.06 170.36,464.03 171.44,464.02 172.51,464.01 173.54,464.01 174.54,464.01 175.49,464.01 176.39,464.01 177.23,464.01 178,464 179.5,463.94 180.67,463.85 181.63,463.77 182.5,463.74 183.38,463.8 184.4,464 185.38,464.31 186.39,464.73 187.41,465.23 188.44,465.77 189.47,466.32 190.5,466.84 191.5,467.3 192.58,467.78 193.55,468.24 194.52,468.68 195.57,469.09 196.8,469.47 198.3,469.8 199.12,469.93 200.04,470.04 201.04,470.14 202.09,470.22 203.19,470.29 204.32,470.36 205.46,470.43 206.58,470.5 207.69,470.57 208.75,470.65 209.75,470.75 210.67,470.87 211.5,471 212.77,471.32 213.75,471.72 214.57,472.15 215.34,472.59 216.18,473.01 217.19,473.35 218.5,473.6 219.34,473.7 220.26,473.79 221.24,473.87 222.28,473.94 223.36,473.99 224.47,474.03 225.61,474.04 226.76,474.04 227.92,474.01 229.07,473.95 230.21,473.87 231.32,473.75 232.4,473.6 233.49,473.39 234.65,473.12 235.84,472.79 237.05,472.43 238.27,472.03 239.48,471.61 240.65,471.19 241.77,470.77 242.83,470.37 243.8,470.01 244.66,469.68 245.4,469.41 246,469.2" fill="none" stroke="#ff9a00" stroke-width="2.2" stroke-linejoin="round" />
<circle cx="170.2" cy="451.5" r="2.5" fill="#b01e22" />
<circle cx="177.3" cy="449.3" r="2.5" fill="#b01e22" />
<circle cx="184.4" cy="449.3" r="2.5" fill="#b01e22" />
<circle cx="191.5" cy="449.3" r="2.5" fill="#b01e22" />
<circle cx="198.3" cy="451.5" r="2.5" fill="#b01e22" />
<circle cx="204.6" cy="449.3" r="2.5" fill="#b01e22" />
<circle cx="211.5" cy="449.3" r="2.5" fill="#b01e22" />
<circle cx="218.5" cy="449.3" r="2.5" fill="#b01e22" />
<circle cx="225.4" cy="449.3" r="2.5" fill="#b01e22" />
<circle cx="232.4" cy="449.3" r="2.5" fill="#b01e22" />
<circle cx="239.5" cy="449.3" r="2.5" fill="#b01e22" />
<circle cx="245.5" cy="449.3" r="2.5" fill="#b01e22" />
<circle cx="150.5" cy="458.5" r="2.5" fill="#b01e22" />
<circle cx="157.5" cy="458.5" r="2.5" fill="#b01e22" />
<circle cx="164.4" cy="460" r="2.5" fill="#b01e22" />
<circle cx="136.5" cy="475.4" r="2.5" fill="#b01e22" />
<circle cx="143.4" cy="475.4" r="2.5" fill="#b01e22" />
<circle cx="143.4" cy="484.2" r="2.5" fill="#999999" />
<circle cx="143.4" cy="481.2" r="2.5" fill="#555555" />
<circle cx="150.5" cy="495.2" r="2.5" fill="#999999" />
<circle cx="150.5" cy="492.2" r="2.5" fill="#555555" />
<circle cx="157.5" cy="495.2" r="2.5" fill="#999999" />
<circle cx="157.5" cy="492.2" r="2.5" fill="#555555" />
<circle cx="164.4" cy="495.2" r="2.5" fill="#999999" />
<circle cx="164.4" cy="492.2" r="2.5" fill="#555555" />
<circle cx="136.5" cy="505" r="2.5" fill="#dddddd" />
<circle cx="143.4" cy="500.5" r="2.5" fill="#999999" />
<circle cx="143.4" cy="506" r="2.5" fill="#ffffff" />
<circle cx="150.5" cy="500.5" r="2.5" fill="#ffffff" />
<circle cx="164.4" cy="499" r="2.5" fill="#ffffff" />
<circle cx="170.2" cy="492" r="2.5" fill="#ffffff" />
<circle cx="170.2" cy="489.3" r="2.5" fill="#dddddd" />
<circle cx="177.3" cy="492" r="2.5" fill="#ffffff" />
<circle cx="177.3" cy="489.3" r="2.5" fill="#bbbbbb" />
<circle cx="184.4" cy="489.3" r="2.5" fill="#000000" />
<circle cx="191.5" cy="491" r="2.5" fill="#ffffff" />
<circle cx="191.5" cy="489.3" r="2.5" fill="#666666" />
<circle cx="198.3" cy="491" r="2.5" fill="#ffffff" />
<circle cx="198.3" cy="488" r="2.5" fill="#dddddd" />
<circle cx="198.3" cy="485.3" r="2.5" fill="#999999" />
<circle cx="184.4" cy="509.6" r="2.5" fill="#ffffff" />
<circle cx="184.4" cy="505" r="2.5" fill="#999999" />
<circle cx="184.4" cy="500.5" r="2.5" fill="#555555" />
<circle cx="191.5" cy="500.5" r="2.5" fill="#ffffff" />
<circle cx="204.6" cy="493" r="2.5" fill="#ffffff" />
<circle cx="211.5" cy="492" r="2.5" fill="#ffffff" />
<circle cx="211.5" cy="489" r="2.5" fill="#dddddd" />
<circle cx="211.5" cy="486" r="2.5" fill="#aaaaaa" />
<circle cx="211.5" cy="481.2" r="2.5" fill="#777777" />
<circle cx="218.5" cy="492" r="2.5" fill="#aaaaaa" />
<circle cx="218.5" cy="489.3" r="2.5" fill="#666666" />
<circle cx="225.4" cy="492" r="2.5" fill="#666666" />
<circle cx="225.4" cy="489" r="2.5" fill="#444444" />
<circle cx="232.4" cy="492" r="2.5" fill="#666666" />
<circle cx="232.4" cy="489.3" r="2.5" fill="#000000" />
<circle cx="239.5" cy="491" r="2.5" fill="#999999" />
<circle cx="218.5" cy="509.6" r="2.5" fill="#ffffff" />
<circle cx="225.4" cy="509.6" r="2.5" fill="#ffffff" />
<circle cx="232.4" cy="509.6" r="2.5" fill="#ffffff" />
<circle cx="239.5" cy="509.6" r="2.5" fill="#ffffff" />
<circle cx="218.5" cy="500.5" r="2.5" fill="#d0c8c0" />
<circle cx="225.4" cy="500.5" r="2.5" fill="#d0c8c0" />
<circle cx="232.4" cy="500.5" r="2.5" fill="#aaaaaa" />
<circle cx="239.5" cy="500.5" r="2.5" fill="#d0c8c0" />
<circle cx="245.5" cy="500.5" r="2.5" fill="#ffffff" />
<circle cx="191.5" cy="456.3" r="2.5" fill="#000000" />
<circle cx="198.3" cy="468" r="2.5" fill="#666666" />
<circle cx="198.3" cy="464.4" r="2.5" fill="#000000" />
<circle cx="204.6" cy="471" r="2.5" fill="#bbbbbb" />
<circle cx="204.6" cy="467.8" r="2.5" fill="#000000" />
<circle cx="211.5" cy="469.8" r="2.5" fill="#000000" />
<circle cx="218.5" cy="481.2" r="2.5" fill="#000000" />
<circle cx="225.4" cy="485.3" r="2.5" fill="#000000" />
<circle cx="239.5" cy="481.2" r="2.5" fill="#000000" />
<circle cx="245.5" cy="476.5" r="2.5" fill="#000000" />
<circle cx="245.5" cy="481" r="2.5" fill="#999999" />
</g>
<rect x="135.5" y="436.5" width="110" height="78" fill="none" stroke="#000" stroke-width="1" shape-rendering="crispEdges"/>
<text x="128.5" y="440.2" font-size="10.6" fill="#000" stroke="#000" stroke-width="0.25" text-anchor="end" >15.0</text>
<text x="128.5" y="459.8" font-size="10.6" fill="#000" stroke="#000" stroke-width="0.25" text-anchor="end" >7.0</text>
<text x="128.5" y="479.5" font-size="10.6" fill="#000" stroke="#000" stroke-width="0.25" text-anchor="end" >2.0</text>
<text x="128.5" y="498.8" font-size="10.6" fill="#000" stroke="#000" stroke-width="0.25" text-anchor="end" >0.5</text>
<text x="128.5" y="518" font-size="10.6" fill="#000" stroke="#000" stroke-width="0.25" text-anchor="end" >0.0</text>
<text x="251.5" y="439.6" font-size="10.6" fill="#ff8000" stroke="#ff8000" stroke-width="0.25" >100</text>
<text x="251.5" y="460.2" font-size="10.6" fill="#ff8000" stroke="#ff8000" stroke-width="0.25" >20</text>
<text x="251.5" y="479" font-size="10.6" fill="#ff8000" stroke="#ff8000" stroke-width="0.25" >5</text>
<text x="251.5" y="499" font-size="10.6" fill="#ff8000" stroke="#ff8000" stroke-width="0.25" >1</text>
<text x="251.5" y="517.2" font-size="10.6" fill="#ff8000" stroke="#ff8000" stroke-width="0.25" >0</text>
<text x="6" y="433" font-size="10.6" fill="#b22222" stroke="#b22222" stroke-width="0.25" textLength="90.5" lengthAdjust="spacingAndGlyphs" >Wierzchołek chmur</text>
<polyline points="100,430.5 140,430.5 184,449.5" fill="none" stroke="#b22222" stroke-width="1" stroke-linejoin="round" stroke-linecap="square"/>
<text x="6" y="447.8" font-size="10.6" fill="#000" stroke="#000" stroke-width="0.25" textLength="85" lengthAdjust="spacingAndGlyphs" >Podstawa chmur*</text>
<text x="6" y="459" font-size="10.6" fill="#000" stroke="#000" stroke-width="0.25" textLength="47.5" lengthAdjust="spacingAndGlyphs" >o pokryciu</text>
<text x="10" y="471.8" font-size="10.6" fill="#000" stroke="#000" stroke-width="0.25" textLength="44" lengthAdjust="spacingAndGlyphs" >&gt; 7.9 okt.</text>
<polyline points="57,468.5 133,468.5 192,456.5" fill="none" stroke="#000" stroke-width="1" stroke-linejoin="round" stroke-linecap="square"/>
<text x="10" y="483.4" font-size="10.6" fill="#555555" stroke="#555555" stroke-width="0.25" textLength="44" lengthAdjust="spacingAndGlyphs" >&gt; 6.5 okt.</text>
<polyline points="57,480.5 143,480.5" fill="none" stroke="#555555" stroke-width="1" stroke-linejoin="round" stroke-linecap="square"/>
<text x="10" y="494.1" font-size="10.6" fill="#999999" stroke="#999999" stroke-width="0.25" textLength="44" lengthAdjust="spacingAndGlyphs" >&gt; 4.5 okt.</text>
<polyline points="57,490.5 133,490.5 138,495.5" fill="none" stroke="#999999" stroke-width="1" stroke-linejoin="round" stroke-linecap="square"/>
<text x="10" y="503.8" font-size="10.6" fill="#d8d0c8" stroke="#d8d0c8" stroke-width="0.25" textLength="44" lengthAdjust="spacingAndGlyphs" >&gt; 2.5 okt.</text>
<polyline points="57,500.5 133,500.5 137,504.5" fill="none" stroke="#d8d0c8" stroke-width="1" stroke-linejoin="round" stroke-linecap="square"/>
<rect x="11" y="505.3" width="44" height="11.1" fill="#87c8f8" />
<text x="11" y="514.8" font-size="10.6" fill="#ffffff" stroke="#ffffff" stroke-width="0.25" textLength="43.5" lengthAdjust="spacingAndGlyphs" >&gt; 0.1 okt.</text>
<line x1="57" y1="509.6" x2="136" y2="509.6" stroke="#87c8f8" stroke-width="1" />
<line x1="57" y1="512" x2="136" y2="512" stroke="#87c8f8" stroke-width="1" />
<text x="6" y="530.3" font-size="10.6" fill="#ff7f00" stroke="#ff7f00" stroke-width="0.25" textLength="57" lengthAdjust="spacingAndGlyphs" >Widzialność</text>
<polyline points="67,527.5 130,527.5 174,464.5" fill="none" stroke="#ff9a00" stroke-width="1" stroke-linejoin="round" stroke-linecap="square"/>
<rect x="135.5" y="523" width="110" height="78" fill="#87d1fa" />
<rect x="170" y="523" width="62" height="78" fill="#7bbeea" />
<defs><clipPath id="lkclip"><rect x="136" y="524" width="109" height="77"/></clipPath></defs><g clip-path="url(#lkclip)">
<polygon points="167,601 169,579.5 172,572 177,566.3 182,564.5 186,561.9 190,555.3 193,549.5 196,546.5 199,545 206,543.6 209,534 211,529.7 215,526 220,524.6 232,524 234,524 246,546 246,601" fill="#ffffff" />
<polygon points="193,601 193,572 196,548.7 197,531.2 203,532.6 206,543.6 208,540 210,533 213,527.5 218,525.5 232,525.5 246,524 246,601" fill="#9a9a9a" />
<polyline points="206,543.6 209,534 211,529.7 215,526 220,524.6 232,524 246,547" fill="none" stroke="#ffffff" stroke-width="1" stroke-linejoin="round" />
<polygon points="136,601 136,566 143.3,563.4 149,572 155,578 163,584.6 167,588 172,593 178,593 180,590 181,585.3 183,575 185,569 192,568.5 194,572 204.6,595.5 212,562 217.8,544.3 223.7,537 226.6,535.6 232.4,540 238.3,550.2 244.2,566.3 246,570 246,601" fill="#565656" />
<line x1="194" y1="573" x2="185" y2="601" stroke="#cfcfcf" stroke-width="0.8" />
<polygon points="136,598 141,594 149,590 156,595 164,601 136,601" fill="#383838" />
<polyline points="136,591 142,596 150,599 158,600" fill="none" stroke="#bdbdbd" stroke-width="0.8" stroke-linejoin="round" />
</g>
<line x1="142.5" y1="523" x2="142.5" y2="601" stroke="#000" stroke-width="1" stroke-dasharray="2,2" shape-rendering="crispEdges"/>
<line x1="163.5" y1="523" x2="163.5" y2="601" stroke="#000" stroke-width="1" stroke-dasharray="2,2" shape-rendering="crispEdges"/>
<line x1="184.5" y1="523" x2="184.5" y2="601" stroke="#000" stroke-width="1" stroke-dasharray="2,2" shape-rendering="crispEdges"/>
<line x1="205.5" y1="523" x2="205.5" y2="601" stroke="#000" stroke-width="1" stroke-dasharray="2,2" shape-rendering="crispEdges"/>
<line x1="226.5" y1="523" x2="226.5" y2="601" stroke="#000" stroke-width="1" stroke-dasharray="2,2" shape-rendering="crispEdges"/>
<line x1="135.5" y1="543.5" x2="245.5" y2="543.5" stroke="#000" stroke-width="1" stroke-dasharray="2,2" shape-rendering="crispEdges"/>
<line x1="135.5" y1="562.5" x2="245.5" y2="562.5" stroke="#000" stroke-width="1" stroke-dasharray="2,2" shape-rendering="crispEdges"/>
<line x1="135.5" y1="582.5" x2="245.5" y2="582.5" stroke="#000" stroke-width="1" stroke-dasharray="2,2" shape-rendering="crispEdges"/>
<rect x="216.4" y="589.7" width="3.2" height="11.3" fill="#f0b000" />
<rect x="223.6" y="589.7" width="3.2" height="11.3" fill="#f0b000" />
<rect x="230.8" y="589.7" width="3.2" height="11.3" fill="#f0b000" />
<rect x="237.9" y="589.7" width="3.2" height="11.3" fill="#f0b000" />
<rect x="135.5" y="523.5" width="110" height="78" fill="none" stroke="#000" stroke-width="1" shape-rendering="crispEdges"/>
<text x="128.5" y="527.2" font-size="10.6" fill="#000" stroke="#000" stroke-width="0.25" text-anchor="end" >8</text>
<text x="128.5" y="547" font-size="10.6" fill="#000" stroke="#000" stroke-width="0.25" text-anchor="end" >6</text>
<text x="128.5" y="565.8" font-size="10.6" fill="#000" stroke="#000" stroke-width="0.25" text-anchor="end" >4</text>
<text x="128.5" y="586.1" font-size="10.6" fill="#000" stroke="#000" stroke-width="0.25" text-anchor="end" >2</text>
<text x="128.5" y="604.8" font-size="10.6" fill="#000" stroke="#000" stroke-width="0.25" text-anchor="end" >0</text>
<text x="251.5" y="526.8" font-size="10.6" fill="#ff8000" stroke="#ff8000" stroke-width="0.25" >1</text>
<text x="251.5" y="546.6" font-size="10.6" fill="#ff8000" stroke="#ff8000" stroke-width="0.25" >0.75</text>
<text x="251.5" y="565.6" font-size="10.6" fill="#ff8000" stroke="#ff8000" stroke-width="0.25" >0.5</text>
<text x="251.5" y="586" font-size="10.6" fill="#ff8000" stroke="#ff8000" stroke-width="0.25" >0.25</text>
<text x="251.5" y="604.1" font-size="10.6" fill="#ff8000" stroke="#ff8000" stroke-width="0.25" >0</text>
<text x="164.5" y="615.3" font-size="11.5" fill="#000" stroke="#000" stroke-width="0.25" text-anchor="middle" >18</text>
<text x="204" y="615.3" font-size="11.5" fill="#000" stroke="#000" stroke-width="0.25" text-anchor="middle" >00</text>
<text x="245" y="615.3" font-size="11.5" fill="#000" stroke="#000" stroke-width="0.25" text-anchor="middle" >06</text>
<text x="6" y="547" font-size="10.6" fill="#000" stroke="#000" stroke-width="0.25" textLength="38.5" lengthAdjust="spacingAndGlyphs" >Chmury:</text>
<rect x="10" y="551.7" width="41" height="11.1" fill="#87c8f8" />
<text x="10.5" y="561.6" font-size="10.6" fill="#ffffff" stroke="#ffffff" stroke-width="0.25" textLength="39.5" lengthAdjust="spacingAndGlyphs" >wysokie</text>
<line x1="53" y1="557" x2="140" y2="557" stroke="#87c8f8" stroke-width="1" />
<line x1="53" y1="559.6" x2="140" y2="559.6" stroke="#87c8f8" stroke-width="1" />
<text x="10" y="573" font-size="10.6" fill="#a0a0a0" stroke="#a0a0a0" stroke-width="0.25" textLength="35" lengthAdjust="spacingAndGlyphs" >średnie</text>
<polyline points="49,571.5 136,571.5" fill="none" stroke="#a0a0a0" stroke-width="1" stroke-linejoin="round" stroke-linecap="square"/>
<text x="10" y="585.6" font-size="10.6" fill="#505050" stroke="#505050" stroke-width="0.25" textLength="26" lengthAdjust="spacingAndGlyphs" >niskie</text>
<polyline points="40,582.5 121,582.5" fill="none" stroke="#505050" stroke-width="1" stroke-linejoin="round" stroke-linecap="square"/>
<polyline points="130,582.5 136,582.5" fill="none" stroke="#505050" stroke-width="1" stroke-linejoin="round" stroke-linecap="square"/>
<text x="10" y="597.2" font-size="10.6" fill="#303030" stroke="#303030" stroke-width="0.25" textLength="61" lengthAdjust="spacingAndGlyphs" >bardzo niskie</text>
<polyline points="74,594.5 136,594.5" fill="none" stroke="#303030" stroke-width="1" stroke-linejoin="round" stroke-linecap="square"/>
<text x="6" y="609.5" font-size="10.6" fill="#ffb000" stroke="#ffb000" stroke-width="0.25" textLength="20" lengthAdjust="spacingAndGlyphs" >Mgła</text>
<polyline points="30,605.5 216,605.5 218,601.5" fill="none" stroke="#ffb000" stroke-width="1" stroke-linejoin="round" stroke-linecap="square"/>
<text x="6" y="625.6" font-size="10.6" fill="#000" stroke="#000" stroke-width="0.2" textLength="131" lengthAdjust="spacing">Czas uniwersalny (UTC)</text>
<polyline points="139,622.5 147,622.5 158,607.5" fill="none" stroke="#000" stroke-width="1" stroke-linejoin="round" stroke-linecap="square"/>
<text x="5" y="650.5" font-size="9" fill="#000" stroke="#000" stroke-width="0.25" font-weight="bold" font-family=""DejaVu Sans Condensed","DejaVu Sans",sans-serif" >*</text>
<text x="11.5" y="650.5" font-size="9" fill="#000" stroke="#000" stroke-width="0.45" textLength="96.5" lengthAdjust="spacingAndGlyphs" font-family=""DejaVu Sans Condensed","DejaVu Sans",sans-serif" >powyżej poziomu morza</text>
<rect x="5" y="0" width="1" height="1" fill="#000" />
<circle cx="481" cy="329" r="11" fill="#000" opacity="0.05"/>
<path d="M418 330 Q 440 280 505 262" stroke="#000" stroke-width="3" fill="none" opacity="0.03"/>
</svg>
</body></html>
